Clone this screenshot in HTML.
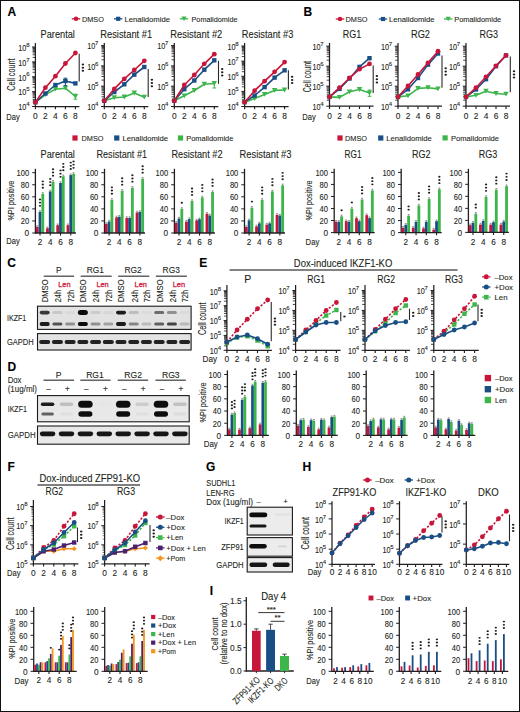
<!DOCTYPE html>
<html><head><meta charset="utf-8"><style>
html,body{margin:0;padding:0;background:#fff;}
body{width:520px;height:712px;overflow:hidden;font-family:"Liberation Sans",sans-serif;}
svg{display:block;}
</style></head><body>
<svg width="520" height="712" viewBox="0 0 520 712" font-family="Liberation Sans, sans-serif">
<style>text{stroke:currentColor;stroke-width:0.1px;}</style>
<defs><filter id="bl" x="-30%" y="-60%" width="160%" height="220%"><feGaussianBlur stdDeviation="0.55"/></filter></defs>
<rect x="0" y="0" width="520" height="712" fill="#fff"/>
<text x="7.40" y="15.80" font-size="12" text-anchor="start" fill="#000" color="#000" font-weight="bold">A</text>
<text x="303.50" y="15.60" font-size="12" text-anchor="start" fill="#000" color="#000" font-weight="bold">B</text>
<line x1="71.80" y1="18.80" x2="80.20" y2="18.80" stroke="#c8163a" stroke-width="1.3"/>
<circle cx="76.00" cy="18.80" r="2.28" fill="#c8163a"/>
<text x="81.90" y="21.64" font-size="7.9" text-anchor="start" fill="#231f20" color="#231f20" textLength="22.00" lengthAdjust="spacingAndGlyphs">DMSO</text>
<line x1="114.00" y1="18.80" x2="122.40" y2="18.80" stroke="#1a4f85" stroke-width="1.3"/>
<rect x="116.11" y="16.71" width="4.18" height="4.18" fill="#1a4f85"/>
<text x="124.40" y="21.64" font-size="7.9" text-anchor="start" fill="#231f20" color="#231f20" textLength="45.60" lengthAdjust="spacingAndGlyphs">Lenalidomide</text>
<line x1="179.80" y1="18.80" x2="188.20" y2="18.80" stroke="#3cb54a" stroke-width="1.3"/>
<polygon points="181.44,16.52 186.56,16.52 184.00,21.08" fill="#3cb54a"/>
<text x="191.50" y="21.64" font-size="7.9" text-anchor="start" fill="#231f20" color="#231f20" textLength="46.00" lengthAdjust="spacingAndGlyphs">Pomalidomide</text>
<line x1="335.80" y1="19.00" x2="344.20" y2="19.00" stroke="#c8163a" stroke-width="1.3"/>
<circle cx="340.00" cy="19.00" r="2.28" fill="#c8163a"/>
<text x="345.50" y="21.84" font-size="7.9" text-anchor="start" fill="#231f20" color="#231f20" textLength="22.00" lengthAdjust="spacingAndGlyphs">DMSO</text>
<line x1="378.80" y1="19.00" x2="387.20" y2="19.00" stroke="#1a4f85" stroke-width="1.3"/>
<rect x="380.91" y="16.91" width="4.18" height="4.18" fill="#1a4f85"/>
<text x="389.00" y="21.84" font-size="7.9" text-anchor="start" fill="#231f20" color="#231f20" textLength="45.60" lengthAdjust="spacingAndGlyphs">Lenalidomide</text>
<line x1="444.00" y1="19.00" x2="452.40" y2="19.00" stroke="#3cb54a" stroke-width="1.3"/>
<polygon points="445.63,16.72 450.76,16.72 448.20,21.28" fill="#3cb54a"/>
<text x="454.20" y="21.84" font-size="7.9" text-anchor="start" fill="#231f20" color="#231f20" textLength="47.00" lengthAdjust="spacingAndGlyphs">Pomalidomide</text>
<text x="40.60" y="37.70" font-size="10.5" text-anchor="start" fill="#231f20" color="#231f20" textLength="34.30" lengthAdjust="spacingAndGlyphs">Parental</text>
<line x1="35.40" y1="43.00" x2="35.40" y2="107.00" stroke="#231f20" stroke-width="1.25"/>
<line x1="32.10" y1="106.50" x2="35.40" y2="106.50" stroke="#231f20" stroke-width="1.0"/>
<text x="29.50" y="106.20" font-size="6.0" text-anchor="end" fill="#231f20" color="#231f20">4</text>
<text x="26.40" y="110.30" font-size="8.6" text-anchor="end" fill="#231f20" color="#231f20" textLength="8.10" lengthAdjust="spacingAndGlyphs">10</text>
<line x1="32.60" y1="102.02" x2="35.40" y2="102.02" stroke="#231f20" stroke-width="0.85"/>
<line x1="32.60" y1="99.40" x2="35.40" y2="99.40" stroke="#231f20" stroke-width="0.85"/>
<line x1="32.60" y1="97.54" x2="35.40" y2="97.54" stroke="#231f20" stroke-width="0.85"/>
<line x1="32.60" y1="96.10" x2="35.40" y2="96.10" stroke="#231f20" stroke-width="0.85"/>
<line x1="32.60" y1="94.93" x2="35.40" y2="94.93" stroke="#231f20" stroke-width="0.85"/>
<line x1="32.60" y1="93.93" x2="35.40" y2="93.93" stroke="#231f20" stroke-width="0.85"/>
<line x1="32.60" y1="93.07" x2="35.40" y2="93.07" stroke="#231f20" stroke-width="0.85"/>
<line x1="32.60" y1="92.31" x2="35.40" y2="92.31" stroke="#231f20" stroke-width="0.85"/>
<line x1="32.10" y1="91.62" x2="35.40" y2="91.62" stroke="#231f20" stroke-width="1.0"/>
<text x="29.50" y="91.33" font-size="6.0" text-anchor="end" fill="#231f20" color="#231f20">5</text>
<text x="26.40" y="95.42" font-size="8.6" text-anchor="end" fill="#231f20" color="#231f20" textLength="8.10" lengthAdjust="spacingAndGlyphs">10</text>
<line x1="32.60" y1="87.15" x2="35.40" y2="87.15" stroke="#231f20" stroke-width="0.85"/>
<line x1="32.60" y1="84.53" x2="35.40" y2="84.53" stroke="#231f20" stroke-width="0.85"/>
<line x1="32.60" y1="82.67" x2="35.40" y2="82.67" stroke="#231f20" stroke-width="0.85"/>
<line x1="32.60" y1="81.23" x2="35.40" y2="81.23" stroke="#231f20" stroke-width="0.85"/>
<line x1="32.60" y1="80.05" x2="35.40" y2="80.05" stroke="#231f20" stroke-width="0.85"/>
<line x1="32.60" y1="79.05" x2="35.40" y2="79.05" stroke="#231f20" stroke-width="0.85"/>
<line x1="32.60" y1="78.19" x2="35.40" y2="78.19" stroke="#231f20" stroke-width="0.85"/>
<line x1="32.60" y1="77.43" x2="35.40" y2="77.43" stroke="#231f20" stroke-width="0.85"/>
<line x1="32.10" y1="76.75" x2="35.40" y2="76.75" stroke="#231f20" stroke-width="1.0"/>
<text x="29.50" y="76.45" font-size="6.0" text-anchor="end" fill="#231f20" color="#231f20">6</text>
<text x="26.40" y="80.55" font-size="8.6" text-anchor="end" fill="#231f20" color="#231f20" textLength="8.10" lengthAdjust="spacingAndGlyphs">10</text>
<line x1="32.60" y1="72.27" x2="35.40" y2="72.27" stroke="#231f20" stroke-width="0.85"/>
<line x1="32.60" y1="69.65" x2="35.40" y2="69.65" stroke="#231f20" stroke-width="0.85"/>
<line x1="32.60" y1="67.79" x2="35.40" y2="67.79" stroke="#231f20" stroke-width="0.85"/>
<line x1="32.60" y1="66.35" x2="35.40" y2="66.35" stroke="#231f20" stroke-width="0.85"/>
<line x1="32.60" y1="65.18" x2="35.40" y2="65.18" stroke="#231f20" stroke-width="0.85"/>
<line x1="32.60" y1="64.18" x2="35.40" y2="64.18" stroke="#231f20" stroke-width="0.85"/>
<line x1="32.60" y1="63.32" x2="35.40" y2="63.32" stroke="#231f20" stroke-width="0.85"/>
<line x1="32.60" y1="62.56" x2="35.40" y2="62.56" stroke="#231f20" stroke-width="0.85"/>
<line x1="32.10" y1="61.88" x2="35.40" y2="61.88" stroke="#231f20" stroke-width="1.0"/>
<text x="29.50" y="61.58" font-size="6.0" text-anchor="end" fill="#231f20" color="#231f20">7</text>
<text x="26.40" y="65.67" font-size="8.6" text-anchor="end" fill="#231f20" color="#231f20" textLength="8.10" lengthAdjust="spacingAndGlyphs">10</text>
<line x1="32.60" y1="57.40" x2="35.40" y2="57.40" stroke="#231f20" stroke-width="0.85"/>
<line x1="32.60" y1="54.78" x2="35.40" y2="54.78" stroke="#231f20" stroke-width="0.85"/>
<line x1="32.60" y1="52.92" x2="35.40" y2="52.92" stroke="#231f20" stroke-width="0.85"/>
<line x1="32.60" y1="51.48" x2="35.40" y2="51.48" stroke="#231f20" stroke-width="0.85"/>
<line x1="32.60" y1="50.30" x2="35.40" y2="50.30" stroke="#231f20" stroke-width="0.85"/>
<line x1="32.60" y1="49.30" x2="35.40" y2="49.30" stroke="#231f20" stroke-width="0.85"/>
<line x1="32.60" y1="48.44" x2="35.40" y2="48.44" stroke="#231f20" stroke-width="0.85"/>
<line x1="32.60" y1="47.68" x2="35.40" y2="47.68" stroke="#231f20" stroke-width="0.85"/>
<line x1="32.10" y1="47.00" x2="35.40" y2="47.00" stroke="#231f20" stroke-width="1.0"/>
<text x="29.50" y="46.70" font-size="6.0" text-anchor="end" fill="#231f20" color="#231f20">8</text>
<text x="26.40" y="50.80" font-size="8.6" text-anchor="end" fill="#231f20" color="#231f20" textLength="8.10" lengthAdjust="spacingAndGlyphs">10</text>
<line x1="34.90" y1="106.50" x2="79.40" y2="106.50" stroke="#231f20" stroke-width="1.25"/>
<line x1="35.40" y1="106.50" x2="35.40" y2="109.30" stroke="#231f20" stroke-width="1.15"/>
<text x="35.40" y="119.00" font-size="8.4" text-anchor="middle" fill="#231f20" color="#231f20">0</text>
<line x1="45.40" y1="106.50" x2="45.40" y2="109.30" stroke="#231f20" stroke-width="1.15"/>
<text x="45.40" y="119.00" font-size="8.4" text-anchor="middle" fill="#231f20" color="#231f20">2</text>
<line x1="55.40" y1="106.50" x2="55.40" y2="109.30" stroke="#231f20" stroke-width="1.15"/>
<text x="55.40" y="119.00" font-size="8.4" text-anchor="middle" fill="#231f20" color="#231f20">4</text>
<line x1="65.40" y1="106.50" x2="65.40" y2="109.30" stroke="#231f20" stroke-width="1.15"/>
<text x="65.40" y="119.00" font-size="8.4" text-anchor="middle" fill="#231f20" color="#231f20">6</text>
<line x1="75.40" y1="106.50" x2="75.40" y2="109.30" stroke="#231f20" stroke-width="1.15"/>
<text x="75.40" y="119.00" font-size="8.4" text-anchor="middle" fill="#231f20" color="#231f20">8</text>
<line x1="75.40" y1="94.20" x2="75.40" y2="99.20" stroke="#3cb54a" stroke-width="1.0"/>
<line x1="73.60" y1="94.20" x2="77.20" y2="94.20" stroke="#3cb54a" stroke-width="1.0"/>
<line x1="73.60" y1="99.20" x2="77.20" y2="99.20" stroke="#3cb54a" stroke-width="1.0"/>
<polyline points="35.40,102.30 45.40,94.60 55.40,89.20 65.40,88.20 75.40,96.50" fill="none" stroke="#3cb54a" stroke-width="1.6" stroke-linejoin="round"/>
<polygon points="32.70,99.90 38.10,99.90 35.40,104.70" fill="#3cb54a"/>
<polygon points="42.70,92.20 48.10,92.20 45.40,97.00" fill="#3cb54a"/>
<polygon points="52.70,86.80 58.10,86.80 55.40,91.60" fill="#3cb54a"/>
<polygon points="62.70,85.80 68.10,85.80 65.40,90.60" fill="#3cb54a"/>
<polygon points="72.70,94.10 78.10,94.10 75.40,98.90" fill="#3cb54a"/>
<line x1="65.40" y1="78.20" x2="65.40" y2="85.60" stroke="#1a4f85" stroke-width="1.0"/>
<line x1="63.60" y1="78.20" x2="67.20" y2="78.20" stroke="#1a4f85" stroke-width="1.0"/>
<line x1="63.60" y1="85.60" x2="67.20" y2="85.60" stroke="#1a4f85" stroke-width="1.0"/>
<polyline points="35.40,102.30 45.40,93.50 55.40,85.00 65.40,81.00 75.40,83.40" fill="none" stroke="#1a4f85" stroke-width="1.6" stroke-linejoin="round"/>
<rect x="33.20" y="100.10" width="4.40" height="4.40" fill="#1a4f85"/>
<rect x="43.20" y="91.30" width="4.40" height="4.40" fill="#1a4f85"/>
<rect x="53.20" y="82.80" width="4.40" height="4.40" fill="#1a4f85"/>
<rect x="63.20" y="78.80" width="4.40" height="4.40" fill="#1a4f85"/>
<rect x="73.20" y="81.20" width="4.40" height="4.40" fill="#1a4f85"/>
<polyline points="35.40,102.30 45.40,87.70 55.40,76.20 65.40,63.50 75.40,53.00" fill="none" stroke="#c8163a" stroke-width="1.6" stroke-linejoin="round"/>
<circle cx="35.40" cy="102.30" r="2.40" fill="#c8163a"/>
<circle cx="45.40" cy="87.70" r="2.40" fill="#c8163a"/>
<circle cx="55.40" cy="76.20" r="2.40" fill="#c8163a"/>
<circle cx="65.40" cy="63.50" r="2.40" fill="#c8163a"/>
<circle cx="75.40" cy="53.00" r="2.40" fill="#c8163a"/>
<line x1="79.20" y1="53.80" x2="79.20" y2="81.50" stroke="#2a2a2a" stroke-width="1.1"/>
<ellipse cx="82.90" cy="64.45" rx="1.25" ry="1.00" fill="#231f20"/>
<ellipse cx="82.90" cy="67.65" rx="1.25" ry="1.00" fill="#231f20"/>
<ellipse cx="82.90" cy="70.85" rx="1.25" ry="1.00" fill="#231f20"/>
<text x="100.20" y="37.70" font-size="10.5" text-anchor="start" fill="#231f20" color="#231f20" textLength="52.00" lengthAdjust="spacingAndGlyphs">Resistant #1</text>
<line x1="104.30" y1="43.00" x2="104.30" y2="107.00" stroke="#231f20" stroke-width="1.25"/>
<line x1="101.00" y1="106.50" x2="104.30" y2="106.50" stroke="#231f20" stroke-width="1.0"/>
<text x="98.40" y="106.20" font-size="6.0" text-anchor="end" fill="#231f20" color="#231f20">4</text>
<text x="95.30" y="110.30" font-size="8.6" text-anchor="end" fill="#231f20" color="#231f20" textLength="8.10" lengthAdjust="spacingAndGlyphs">10</text>
<line x1="101.50" y1="100.39" x2="104.30" y2="100.39" stroke="#231f20" stroke-width="0.85"/>
<line x1="101.50" y1="96.81" x2="104.30" y2="96.81" stroke="#231f20" stroke-width="0.85"/>
<line x1="101.50" y1="94.28" x2="104.30" y2="94.28" stroke="#231f20" stroke-width="0.85"/>
<line x1="101.50" y1="92.31" x2="104.30" y2="92.31" stroke="#231f20" stroke-width="0.85"/>
<line x1="101.50" y1="90.70" x2="104.30" y2="90.70" stroke="#231f20" stroke-width="0.85"/>
<line x1="101.50" y1="89.34" x2="104.30" y2="89.34" stroke="#231f20" stroke-width="0.85"/>
<line x1="101.50" y1="88.17" x2="104.30" y2="88.17" stroke="#231f20" stroke-width="0.85"/>
<line x1="101.50" y1="87.13" x2="104.30" y2="87.13" stroke="#231f20" stroke-width="0.85"/>
<line x1="101.00" y1="86.20" x2="104.30" y2="86.20" stroke="#231f20" stroke-width="1.0"/>
<text x="98.40" y="85.90" font-size="6.0" text-anchor="end" fill="#231f20" color="#231f20">5</text>
<text x="95.30" y="90.00" font-size="8.6" text-anchor="end" fill="#231f20" color="#231f20" textLength="8.10" lengthAdjust="spacingAndGlyphs">10</text>
<line x1="101.50" y1="80.09" x2="104.30" y2="80.09" stroke="#231f20" stroke-width="0.85"/>
<line x1="101.50" y1="76.51" x2="104.30" y2="76.51" stroke="#231f20" stroke-width="0.85"/>
<line x1="101.50" y1="73.98" x2="104.30" y2="73.98" stroke="#231f20" stroke-width="0.85"/>
<line x1="101.50" y1="72.01" x2="104.30" y2="72.01" stroke="#231f20" stroke-width="0.85"/>
<line x1="101.50" y1="70.40" x2="104.30" y2="70.40" stroke="#231f20" stroke-width="0.85"/>
<line x1="101.50" y1="69.04" x2="104.30" y2="69.04" stroke="#231f20" stroke-width="0.85"/>
<line x1="101.50" y1="67.87" x2="104.30" y2="67.87" stroke="#231f20" stroke-width="0.85"/>
<line x1="101.50" y1="66.83" x2="104.30" y2="66.83" stroke="#231f20" stroke-width="0.85"/>
<line x1="101.00" y1="65.90" x2="104.30" y2="65.90" stroke="#231f20" stroke-width="1.0"/>
<text x="98.40" y="65.60" font-size="6.0" text-anchor="end" fill="#231f20" color="#231f20">6</text>
<text x="95.30" y="69.70" font-size="8.6" text-anchor="end" fill="#231f20" color="#231f20" textLength="8.10" lengthAdjust="spacingAndGlyphs">10</text>
<line x1="101.50" y1="59.79" x2="104.30" y2="59.79" stroke="#231f20" stroke-width="0.85"/>
<line x1="101.50" y1="56.21" x2="104.30" y2="56.21" stroke="#231f20" stroke-width="0.85"/>
<line x1="101.50" y1="53.68" x2="104.30" y2="53.68" stroke="#231f20" stroke-width="0.85"/>
<line x1="101.50" y1="51.71" x2="104.30" y2="51.71" stroke="#231f20" stroke-width="0.85"/>
<line x1="101.50" y1="50.10" x2="104.30" y2="50.10" stroke="#231f20" stroke-width="0.85"/>
<line x1="101.50" y1="48.74" x2="104.30" y2="48.74" stroke="#231f20" stroke-width="0.85"/>
<line x1="101.50" y1="47.57" x2="104.30" y2="47.57" stroke="#231f20" stroke-width="0.85"/>
<line x1="101.50" y1="46.53" x2="104.30" y2="46.53" stroke="#231f20" stroke-width="0.85"/>
<line x1="101.00" y1="45.60" x2="104.30" y2="45.60" stroke="#231f20" stroke-width="1.0"/>
<text x="98.40" y="45.30" font-size="6.0" text-anchor="end" fill="#231f20" color="#231f20">7</text>
<text x="95.30" y="49.40" font-size="8.6" text-anchor="end" fill="#231f20" color="#231f20" textLength="8.10" lengthAdjust="spacingAndGlyphs">10</text>
<line x1="103.80" y1="106.50" x2="148.30" y2="106.50" stroke="#231f20" stroke-width="1.25"/>
<line x1="104.30" y1="106.50" x2="104.30" y2="109.30" stroke="#231f20" stroke-width="1.15"/>
<text x="104.30" y="119.00" font-size="8.4" text-anchor="middle" fill="#231f20" color="#231f20">0</text>
<line x1="114.30" y1="106.50" x2="114.30" y2="109.30" stroke="#231f20" stroke-width="1.15"/>
<text x="114.30" y="119.00" font-size="8.4" text-anchor="middle" fill="#231f20" color="#231f20">2</text>
<line x1="124.30" y1="106.50" x2="124.30" y2="109.30" stroke="#231f20" stroke-width="1.15"/>
<text x="124.30" y="119.00" font-size="8.4" text-anchor="middle" fill="#231f20" color="#231f20">4</text>
<line x1="134.30" y1="106.50" x2="134.30" y2="109.30" stroke="#231f20" stroke-width="1.15"/>
<text x="134.30" y="119.00" font-size="8.4" text-anchor="middle" fill="#231f20" color="#231f20">6</text>
<line x1="144.30" y1="106.50" x2="144.30" y2="109.30" stroke="#231f20" stroke-width="1.15"/>
<text x="144.30" y="119.00" font-size="8.4" text-anchor="middle" fill="#231f20" color="#231f20">8</text>
<polyline points="104.30,100.80 114.30,97.70 124.30,97.00 134.30,93.00 144.30,97.20" fill="none" stroke="#3cb54a" stroke-width="1.6" stroke-linejoin="round"/>
<polygon points="101.60,98.40 107.00,98.40 104.30,103.20" fill="#3cb54a"/>
<polygon points="111.60,95.30 117.00,95.30 114.30,100.10" fill="#3cb54a"/>
<polygon points="121.60,94.60 127.00,94.60 124.30,99.40" fill="#3cb54a"/>
<polygon points="131.60,90.60 137.00,90.60 134.30,95.40" fill="#3cb54a"/>
<polygon points="141.60,94.80 147.00,94.80 144.30,99.60" fill="#3cb54a"/>
<polyline points="104.30,100.80 114.30,92.00 124.30,84.30 134.30,74.60 144.30,67.00" fill="none" stroke="#1a4f85" stroke-width="1.6" stroke-linejoin="round"/>
<rect x="102.10" y="98.60" width="4.40" height="4.40" fill="#1a4f85"/>
<rect x="112.10" y="89.80" width="4.40" height="4.40" fill="#1a4f85"/>
<rect x="122.10" y="82.10" width="4.40" height="4.40" fill="#1a4f85"/>
<rect x="132.10" y="72.40" width="4.40" height="4.40" fill="#1a4f85"/>
<rect x="142.10" y="64.80" width="4.40" height="4.40" fill="#1a4f85"/>
<polyline points="104.30,100.80 114.30,88.90 124.30,78.90 134.30,70.00 144.30,60.80" fill="none" stroke="#c8163a" stroke-width="1.6" stroke-linejoin="round"/>
<circle cx="104.30" cy="100.80" r="2.40" fill="#c8163a"/>
<circle cx="114.30" cy="88.90" r="2.40" fill="#c8163a"/>
<circle cx="124.30" cy="78.90" r="2.40" fill="#c8163a"/>
<circle cx="134.30" cy="70.00" r="2.40" fill="#c8163a"/>
<circle cx="144.30" cy="60.80" r="2.40" fill="#c8163a"/>
<line x1="148.20" y1="69.00" x2="148.20" y2="97.00" stroke="#2a2a2a" stroke-width="1.1"/>
<ellipse cx="151.90" cy="79.80" rx="1.25" ry="1.00" fill="#231f20"/>
<ellipse cx="151.90" cy="83.00" rx="1.25" ry="1.00" fill="#231f20"/>
<ellipse cx="151.90" cy="86.20" rx="1.25" ry="1.00" fill="#231f20"/>
<text x="170.30" y="37.70" font-size="10.5" text-anchor="start" fill="#231f20" color="#231f20" textLength="52.00" lengthAdjust="spacingAndGlyphs">Resistant #2</text>
<line x1="174.30" y1="43.00" x2="174.30" y2="107.00" stroke="#231f20" stroke-width="1.25"/>
<line x1="171.00" y1="106.50" x2="174.30" y2="106.50" stroke="#231f20" stroke-width="1.0"/>
<text x="168.40" y="106.20" font-size="6.0" text-anchor="end" fill="#231f20" color="#231f20">4</text>
<text x="165.30" y="110.30" font-size="8.6" text-anchor="end" fill="#231f20" color="#231f20" textLength="8.10" lengthAdjust="spacingAndGlyphs">10</text>
<line x1="171.50" y1="100.39" x2="174.30" y2="100.39" stroke="#231f20" stroke-width="0.85"/>
<line x1="171.50" y1="96.81" x2="174.30" y2="96.81" stroke="#231f20" stroke-width="0.85"/>
<line x1="171.50" y1="94.28" x2="174.30" y2="94.28" stroke="#231f20" stroke-width="0.85"/>
<line x1="171.50" y1="92.31" x2="174.30" y2="92.31" stroke="#231f20" stroke-width="0.85"/>
<line x1="171.50" y1="90.70" x2="174.30" y2="90.70" stroke="#231f20" stroke-width="0.85"/>
<line x1="171.50" y1="89.34" x2="174.30" y2="89.34" stroke="#231f20" stroke-width="0.85"/>
<line x1="171.50" y1="88.17" x2="174.30" y2="88.17" stroke="#231f20" stroke-width="0.85"/>
<line x1="171.50" y1="87.13" x2="174.30" y2="87.13" stroke="#231f20" stroke-width="0.85"/>
<line x1="171.00" y1="86.20" x2="174.30" y2="86.20" stroke="#231f20" stroke-width="1.0"/>
<text x="168.40" y="85.90" font-size="6.0" text-anchor="end" fill="#231f20" color="#231f20">5</text>
<text x="165.30" y="90.00" font-size="8.6" text-anchor="end" fill="#231f20" color="#231f20" textLength="8.10" lengthAdjust="spacingAndGlyphs">10</text>
<line x1="171.50" y1="80.09" x2="174.30" y2="80.09" stroke="#231f20" stroke-width="0.85"/>
<line x1="171.50" y1="76.51" x2="174.30" y2="76.51" stroke="#231f20" stroke-width="0.85"/>
<line x1="171.50" y1="73.98" x2="174.30" y2="73.98" stroke="#231f20" stroke-width="0.85"/>
<line x1="171.50" y1="72.01" x2="174.30" y2="72.01" stroke="#231f20" stroke-width="0.85"/>
<line x1="171.50" y1="70.40" x2="174.30" y2="70.40" stroke="#231f20" stroke-width="0.85"/>
<line x1="171.50" y1="69.04" x2="174.30" y2="69.04" stroke="#231f20" stroke-width="0.85"/>
<line x1="171.50" y1="67.87" x2="174.30" y2="67.87" stroke="#231f20" stroke-width="0.85"/>
<line x1="171.50" y1="66.83" x2="174.30" y2="66.83" stroke="#231f20" stroke-width="0.85"/>
<line x1="171.00" y1="65.90" x2="174.30" y2="65.90" stroke="#231f20" stroke-width="1.0"/>
<text x="168.40" y="65.60" font-size="6.0" text-anchor="end" fill="#231f20" color="#231f20">6</text>
<text x="165.30" y="69.70" font-size="8.6" text-anchor="end" fill="#231f20" color="#231f20" textLength="8.10" lengthAdjust="spacingAndGlyphs">10</text>
<line x1="171.50" y1="59.79" x2="174.30" y2="59.79" stroke="#231f20" stroke-width="0.85"/>
<line x1="171.50" y1="56.21" x2="174.30" y2="56.21" stroke="#231f20" stroke-width="0.85"/>
<line x1="171.50" y1="53.68" x2="174.30" y2="53.68" stroke="#231f20" stroke-width="0.85"/>
<line x1="171.50" y1="51.71" x2="174.30" y2="51.71" stroke="#231f20" stroke-width="0.85"/>
<line x1="171.50" y1="50.10" x2="174.30" y2="50.10" stroke="#231f20" stroke-width="0.85"/>
<line x1="171.50" y1="48.74" x2="174.30" y2="48.74" stroke="#231f20" stroke-width="0.85"/>
<line x1="171.50" y1="47.57" x2="174.30" y2="47.57" stroke="#231f20" stroke-width="0.85"/>
<line x1="171.50" y1="46.53" x2="174.30" y2="46.53" stroke="#231f20" stroke-width="0.85"/>
<line x1="171.00" y1="45.60" x2="174.30" y2="45.60" stroke="#231f20" stroke-width="1.0"/>
<text x="168.40" y="45.30" font-size="6.0" text-anchor="end" fill="#231f20" color="#231f20">7</text>
<text x="165.30" y="49.40" font-size="8.6" text-anchor="end" fill="#231f20" color="#231f20" textLength="8.10" lengthAdjust="spacingAndGlyphs">10</text>
<line x1="173.80" y1="106.50" x2="218.30" y2="106.50" stroke="#231f20" stroke-width="1.25"/>
<line x1="174.30" y1="106.50" x2="174.30" y2="109.30" stroke="#231f20" stroke-width="1.15"/>
<text x="174.30" y="119.00" font-size="8.4" text-anchor="middle" fill="#231f20" color="#231f20">0</text>
<line x1="184.30" y1="106.50" x2="184.30" y2="109.30" stroke="#231f20" stroke-width="1.15"/>
<text x="184.30" y="119.00" font-size="8.4" text-anchor="middle" fill="#231f20" color="#231f20">2</text>
<line x1="194.30" y1="106.50" x2="194.30" y2="109.30" stroke="#231f20" stroke-width="1.15"/>
<text x="194.30" y="119.00" font-size="8.4" text-anchor="middle" fill="#231f20" color="#231f20">4</text>
<line x1="204.30" y1="106.50" x2="204.30" y2="109.30" stroke="#231f20" stroke-width="1.15"/>
<text x="204.30" y="119.00" font-size="8.4" text-anchor="middle" fill="#231f20" color="#231f20">6</text>
<line x1="214.30" y1="106.50" x2="214.30" y2="109.30" stroke="#231f20" stroke-width="1.15"/>
<text x="214.30" y="119.00" font-size="8.4" text-anchor="middle" fill="#231f20" color="#231f20">8</text>
<line x1="214.30" y1="81.50" x2="214.30" y2="88.00" stroke="#3cb54a" stroke-width="1.0"/>
<line x1="212.50" y1="81.50" x2="216.10" y2="81.50" stroke="#3cb54a" stroke-width="1.0"/>
<line x1="212.50" y1="88.00" x2="216.10" y2="88.00" stroke="#3cb54a" stroke-width="1.0"/>
<polyline points="174.30,100.80 184.30,95.80 194.30,90.50 204.30,84.20 214.30,83.50" fill="none" stroke="#3cb54a" stroke-width="1.6" stroke-linejoin="round"/>
<polygon points="171.60,98.40 177.00,98.40 174.30,103.20" fill="#3cb54a"/>
<polygon points="181.60,93.40 187.00,93.40 184.30,98.20" fill="#3cb54a"/>
<polygon points="191.60,88.10 197.00,88.10 194.30,92.90" fill="#3cb54a"/>
<polygon points="201.60,81.80 207.00,81.80 204.30,86.60" fill="#3cb54a"/>
<polygon points="211.60,81.10 217.00,81.10 214.30,85.90" fill="#3cb54a"/>
<polyline points="174.30,100.80 184.30,89.20 194.30,80.50 204.30,69.70 214.30,60.30" fill="none" stroke="#1a4f85" stroke-width="1.6" stroke-linejoin="round"/>
<rect x="172.10" y="98.60" width="4.40" height="4.40" fill="#1a4f85"/>
<rect x="182.10" y="87.00" width="4.40" height="4.40" fill="#1a4f85"/>
<rect x="192.10" y="78.30" width="4.40" height="4.40" fill="#1a4f85"/>
<rect x="202.10" y="67.50" width="4.40" height="4.40" fill="#1a4f85"/>
<rect x="212.10" y="58.10" width="4.40" height="4.40" fill="#1a4f85"/>
<polyline points="174.30,100.80 184.30,85.00 194.30,75.00 204.30,63.80 214.30,54.20" fill="none" stroke="#c8163a" stroke-width="1.6" stroke-linejoin="round"/>
<circle cx="174.30" cy="100.80" r="2.40" fill="#c8163a"/>
<circle cx="184.30" cy="85.00" r="2.40" fill="#c8163a"/>
<circle cx="194.30" cy="75.00" r="2.40" fill="#c8163a"/>
<circle cx="204.30" cy="63.80" r="2.40" fill="#c8163a"/>
<circle cx="214.30" cy="54.20" r="2.40" fill="#c8163a"/>
<line x1="218.50" y1="60.80" x2="218.50" y2="83.80" stroke="#2a2a2a" stroke-width="1.1"/>
<ellipse cx="222.20" cy="69.10" rx="1.25" ry="1.00" fill="#231f20"/>
<ellipse cx="222.20" cy="72.30" rx="1.25" ry="1.00" fill="#231f20"/>
<ellipse cx="222.20" cy="75.50" rx="1.25" ry="1.00" fill="#231f20"/>
<text x="241.80" y="37.70" font-size="10.5" text-anchor="start" fill="#231f20" color="#231f20" textLength="51.50" lengthAdjust="spacingAndGlyphs">Resistant #3</text>
<line x1="244.60" y1="43.00" x2="244.60" y2="107.00" stroke="#231f20" stroke-width="1.25"/>
<line x1="241.30" y1="106.50" x2="244.60" y2="106.50" stroke="#231f20" stroke-width="1.0"/>
<text x="238.70" y="106.20" font-size="6.0" text-anchor="end" fill="#231f20" color="#231f20">4</text>
<text x="235.60" y="110.30" font-size="8.6" text-anchor="end" fill="#231f20" color="#231f20" textLength="8.10" lengthAdjust="spacingAndGlyphs">10</text>
<line x1="241.80" y1="101.95" x2="244.60" y2="101.95" stroke="#231f20" stroke-width="0.85"/>
<line x1="241.80" y1="99.28" x2="244.60" y2="99.28" stroke="#231f20" stroke-width="0.85"/>
<line x1="241.80" y1="97.39" x2="244.60" y2="97.39" stroke="#231f20" stroke-width="0.85"/>
<line x1="241.80" y1="95.93" x2="244.60" y2="95.93" stroke="#231f20" stroke-width="0.85"/>
<line x1="241.80" y1="94.73" x2="244.60" y2="94.73" stroke="#231f20" stroke-width="0.85"/>
<line x1="241.80" y1="93.72" x2="244.60" y2="93.72" stroke="#231f20" stroke-width="0.85"/>
<line x1="241.80" y1="92.84" x2="244.60" y2="92.84" stroke="#231f20" stroke-width="0.85"/>
<line x1="241.80" y1="92.07" x2="244.60" y2="92.07" stroke="#231f20" stroke-width="0.85"/>
<line x1="241.30" y1="91.38" x2="244.60" y2="91.38" stroke="#231f20" stroke-width="1.0"/>
<text x="238.70" y="91.08" font-size="6.0" text-anchor="end" fill="#231f20" color="#231f20">5</text>
<text x="235.60" y="95.17" font-size="8.6" text-anchor="end" fill="#231f20" color="#231f20" textLength="8.10" lengthAdjust="spacingAndGlyphs">10</text>
<line x1="241.80" y1="86.82" x2="244.60" y2="86.82" stroke="#231f20" stroke-width="0.85"/>
<line x1="241.80" y1="84.16" x2="244.60" y2="84.16" stroke="#231f20" stroke-width="0.85"/>
<line x1="241.80" y1="82.27" x2="244.60" y2="82.27" stroke="#231f20" stroke-width="0.85"/>
<line x1="241.80" y1="80.80" x2="244.60" y2="80.80" stroke="#231f20" stroke-width="0.85"/>
<line x1="241.80" y1="79.61" x2="244.60" y2="79.61" stroke="#231f20" stroke-width="0.85"/>
<line x1="241.80" y1="78.59" x2="244.60" y2="78.59" stroke="#231f20" stroke-width="0.85"/>
<line x1="241.80" y1="77.72" x2="244.60" y2="77.72" stroke="#231f20" stroke-width="0.85"/>
<line x1="241.80" y1="76.94" x2="244.60" y2="76.94" stroke="#231f20" stroke-width="0.85"/>
<line x1="241.30" y1="76.25" x2="244.60" y2="76.25" stroke="#231f20" stroke-width="1.0"/>
<text x="238.70" y="75.95" font-size="6.0" text-anchor="end" fill="#231f20" color="#231f20">6</text>
<text x="235.60" y="80.05" font-size="8.6" text-anchor="end" fill="#231f20" color="#231f20" textLength="8.10" lengthAdjust="spacingAndGlyphs">10</text>
<line x1="241.80" y1="71.70" x2="244.60" y2="71.70" stroke="#231f20" stroke-width="0.85"/>
<line x1="241.80" y1="69.03" x2="244.60" y2="69.03" stroke="#231f20" stroke-width="0.85"/>
<line x1="241.80" y1="67.14" x2="244.60" y2="67.14" stroke="#231f20" stroke-width="0.85"/>
<line x1="241.80" y1="65.68" x2="244.60" y2="65.68" stroke="#231f20" stroke-width="0.85"/>
<line x1="241.80" y1="64.48" x2="244.60" y2="64.48" stroke="#231f20" stroke-width="0.85"/>
<line x1="241.80" y1="63.47" x2="244.60" y2="63.47" stroke="#231f20" stroke-width="0.85"/>
<line x1="241.80" y1="62.59" x2="244.60" y2="62.59" stroke="#231f20" stroke-width="0.85"/>
<line x1="241.80" y1="61.82" x2="244.60" y2="61.82" stroke="#231f20" stroke-width="0.85"/>
<line x1="241.30" y1="61.12" x2="244.60" y2="61.12" stroke="#231f20" stroke-width="1.0"/>
<text x="238.70" y="60.83" font-size="6.0" text-anchor="end" fill="#231f20" color="#231f20">7</text>
<text x="235.60" y="64.92" font-size="8.6" text-anchor="end" fill="#231f20" color="#231f20" textLength="8.10" lengthAdjust="spacingAndGlyphs">10</text>
<line x1="241.80" y1="56.57" x2="244.60" y2="56.57" stroke="#231f20" stroke-width="0.85"/>
<line x1="241.80" y1="53.91" x2="244.60" y2="53.91" stroke="#231f20" stroke-width="0.85"/>
<line x1="241.80" y1="52.02" x2="244.60" y2="52.02" stroke="#231f20" stroke-width="0.85"/>
<line x1="241.80" y1="50.55" x2="244.60" y2="50.55" stroke="#231f20" stroke-width="0.85"/>
<line x1="241.80" y1="49.36" x2="244.60" y2="49.36" stroke="#231f20" stroke-width="0.85"/>
<line x1="241.80" y1="48.34" x2="244.60" y2="48.34" stroke="#231f20" stroke-width="0.85"/>
<line x1="241.80" y1="47.47" x2="244.60" y2="47.47" stroke="#231f20" stroke-width="0.85"/>
<line x1="241.80" y1="46.69" x2="244.60" y2="46.69" stroke="#231f20" stroke-width="0.85"/>
<line x1="241.30" y1="46.00" x2="244.60" y2="46.00" stroke="#231f20" stroke-width="1.0"/>
<text x="238.70" y="45.70" font-size="6.0" text-anchor="end" fill="#231f20" color="#231f20">8</text>
<text x="235.60" y="49.80" font-size="8.6" text-anchor="end" fill="#231f20" color="#231f20" textLength="8.10" lengthAdjust="spacingAndGlyphs">10</text>
<line x1="244.10" y1="106.50" x2="288.60" y2="106.50" stroke="#231f20" stroke-width="1.25"/>
<line x1="244.60" y1="106.50" x2="244.60" y2="109.30" stroke="#231f20" stroke-width="1.15"/>
<text x="244.60" y="119.00" font-size="8.4" text-anchor="middle" fill="#231f20" color="#231f20">0</text>
<line x1="254.60" y1="106.50" x2="254.60" y2="109.30" stroke="#231f20" stroke-width="1.15"/>
<text x="254.60" y="119.00" font-size="8.4" text-anchor="middle" fill="#231f20" color="#231f20">2</text>
<line x1="264.60" y1="106.50" x2="264.60" y2="109.30" stroke="#231f20" stroke-width="1.15"/>
<text x="264.60" y="119.00" font-size="8.4" text-anchor="middle" fill="#231f20" color="#231f20">4</text>
<line x1="274.60" y1="106.50" x2="274.60" y2="109.30" stroke="#231f20" stroke-width="1.15"/>
<text x="274.60" y="119.00" font-size="8.4" text-anchor="middle" fill="#231f20" color="#231f20">6</text>
<line x1="284.60" y1="106.50" x2="284.60" y2="109.30" stroke="#231f20" stroke-width="1.15"/>
<text x="284.60" y="119.00" font-size="8.4" text-anchor="middle" fill="#231f20" color="#231f20">8</text>
<polyline points="244.60,102.20 254.60,98.60 264.60,94.40 274.60,90.40 284.60,90.00" fill="none" stroke="#3cb54a" stroke-width="1.6" stroke-linejoin="round"/>
<polygon points="241.90,99.80 247.30,99.80 244.60,104.60" fill="#3cb54a"/>
<polygon points="251.90,96.20 257.30,96.20 254.60,101.00" fill="#3cb54a"/>
<polygon points="261.90,92.00 267.30,92.00 264.60,96.80" fill="#3cb54a"/>
<polygon points="271.90,88.00 277.30,88.00 274.60,92.80" fill="#3cb54a"/>
<polygon points="281.90,87.60 287.30,87.60 284.60,92.40" fill="#3cb54a"/>
<polyline points="244.60,102.20 254.60,95.50 264.60,87.10 274.60,77.60 284.60,70.30" fill="none" stroke="#1a4f85" stroke-width="1.6" stroke-linejoin="round"/>
<rect x="242.40" y="100.00" width="4.40" height="4.40" fill="#1a4f85"/>
<rect x="252.40" y="93.30" width="4.40" height="4.40" fill="#1a4f85"/>
<rect x="262.40" y="84.90" width="4.40" height="4.40" fill="#1a4f85"/>
<rect x="272.40" y="75.40" width="4.40" height="4.40" fill="#1a4f85"/>
<rect x="282.40" y="68.10" width="4.40" height="4.40" fill="#1a4f85"/>
<polyline points="244.60,102.20 254.60,90.70 264.60,81.20 274.60,71.80 284.60,62.10" fill="none" stroke="#c8163a" stroke-width="1.6" stroke-linejoin="round"/>
<circle cx="244.60" cy="102.20" r="2.40" fill="#c8163a"/>
<circle cx="254.60" cy="90.70" r="2.40" fill="#c8163a"/>
<circle cx="264.60" cy="81.20" r="2.40" fill="#c8163a"/>
<circle cx="274.60" cy="71.80" r="2.40" fill="#c8163a"/>
<circle cx="284.60" cy="62.10" r="2.40" fill="#c8163a"/>
<line x1="288.40" y1="70.30" x2="288.40" y2="89.50" stroke="#2a2a2a" stroke-width="1.1"/>
<ellipse cx="292.10" cy="76.70" rx="1.25" ry="1.00" fill="#231f20"/>
<ellipse cx="292.10" cy="79.90" rx="1.25" ry="1.00" fill="#231f20"/>
<ellipse cx="292.10" cy="83.10" rx="1.25" ry="1.00" fill="#231f20"/>
<text x="14.60" y="74.60" font-size="10.4" text-anchor="middle" fill="#231f20" color="#231f20" textLength="32.30" lengthAdjust="spacingAndGlyphs" transform="rotate(-90 14.60 74.60)">Cell count</text>
<text x="6.20" y="119.50" font-size="8.6" text-anchor="start" fill="#231f20" color="#231f20" textLength="13.50" lengthAdjust="spacingAndGlyphs">Day</text>
<text x="311.00" y="76.60" font-size="10.4" text-anchor="middle" fill="#231f20" color="#231f20" textLength="31.30" lengthAdjust="spacingAndGlyphs" transform="rotate(-90 311.00 76.60)">Cell count</text>
<text x="302.30" y="119.50" font-size="8.6" text-anchor="start" fill="#231f20" color="#231f20" textLength="13.50" lengthAdjust="spacingAndGlyphs">Day</text>
<text x="342.70" y="38.00" font-size="10.5" text-anchor="start" fill="#231f20" color="#231f20" textLength="18.50" lengthAdjust="spacingAndGlyphs">RG1</text>
<line x1="329.50" y1="43.00" x2="329.50" y2="106.70" stroke="#231f20" stroke-width="1.25"/>
<line x1="326.20" y1="106.20" x2="329.50" y2="106.20" stroke="#231f20" stroke-width="1.0"/>
<text x="323.60" y="105.90" font-size="6.0" text-anchor="end" fill="#231f20" color="#231f20">4</text>
<text x="320.50" y="110.00" font-size="8.6" text-anchor="end" fill="#231f20" color="#231f20" textLength="8.10" lengthAdjust="spacingAndGlyphs">10</text>
<line x1="326.70" y1="100.18" x2="329.50" y2="100.18" stroke="#231f20" stroke-width="0.85"/>
<line x1="326.70" y1="96.66" x2="329.50" y2="96.66" stroke="#231f20" stroke-width="0.85"/>
<line x1="326.70" y1="94.16" x2="329.50" y2="94.16" stroke="#231f20" stroke-width="0.85"/>
<line x1="326.70" y1="92.22" x2="329.50" y2="92.22" stroke="#231f20" stroke-width="0.85"/>
<line x1="326.70" y1="90.64" x2="329.50" y2="90.64" stroke="#231f20" stroke-width="0.85"/>
<line x1="326.70" y1="89.30" x2="329.50" y2="89.30" stroke="#231f20" stroke-width="0.85"/>
<line x1="326.70" y1="88.14" x2="329.50" y2="88.14" stroke="#231f20" stroke-width="0.85"/>
<line x1="326.70" y1="87.12" x2="329.50" y2="87.12" stroke="#231f20" stroke-width="0.85"/>
<line x1="326.20" y1="86.20" x2="329.50" y2="86.20" stroke="#231f20" stroke-width="1.0"/>
<text x="323.60" y="85.90" font-size="6.0" text-anchor="end" fill="#231f20" color="#231f20">5</text>
<text x="320.50" y="90.00" font-size="8.6" text-anchor="end" fill="#231f20" color="#231f20" textLength="8.10" lengthAdjust="spacingAndGlyphs">10</text>
<line x1="326.70" y1="80.18" x2="329.50" y2="80.18" stroke="#231f20" stroke-width="0.85"/>
<line x1="326.70" y1="76.66" x2="329.50" y2="76.66" stroke="#231f20" stroke-width="0.85"/>
<line x1="326.70" y1="74.16" x2="329.50" y2="74.16" stroke="#231f20" stroke-width="0.85"/>
<line x1="326.70" y1="72.22" x2="329.50" y2="72.22" stroke="#231f20" stroke-width="0.85"/>
<line x1="326.70" y1="70.64" x2="329.50" y2="70.64" stroke="#231f20" stroke-width="0.85"/>
<line x1="326.70" y1="69.30" x2="329.50" y2="69.30" stroke="#231f20" stroke-width="0.85"/>
<line x1="326.70" y1="68.14" x2="329.50" y2="68.14" stroke="#231f20" stroke-width="0.85"/>
<line x1="326.70" y1="67.12" x2="329.50" y2="67.12" stroke="#231f20" stroke-width="0.85"/>
<line x1="326.20" y1="66.20" x2="329.50" y2="66.20" stroke="#231f20" stroke-width="1.0"/>
<text x="323.60" y="65.90" font-size="6.0" text-anchor="end" fill="#231f20" color="#231f20">6</text>
<text x="320.50" y="70.00" font-size="8.6" text-anchor="end" fill="#231f20" color="#231f20" textLength="8.10" lengthAdjust="spacingAndGlyphs">10</text>
<line x1="326.70" y1="60.18" x2="329.50" y2="60.18" stroke="#231f20" stroke-width="0.85"/>
<line x1="326.70" y1="56.66" x2="329.50" y2="56.66" stroke="#231f20" stroke-width="0.85"/>
<line x1="326.70" y1="54.16" x2="329.50" y2="54.16" stroke="#231f20" stroke-width="0.85"/>
<line x1="326.70" y1="52.22" x2="329.50" y2="52.22" stroke="#231f20" stroke-width="0.85"/>
<line x1="326.70" y1="50.64" x2="329.50" y2="50.64" stroke="#231f20" stroke-width="0.85"/>
<line x1="326.70" y1="49.30" x2="329.50" y2="49.30" stroke="#231f20" stroke-width="0.85"/>
<line x1="326.70" y1="48.14" x2="329.50" y2="48.14" stroke="#231f20" stroke-width="0.85"/>
<line x1="326.70" y1="47.12" x2="329.50" y2="47.12" stroke="#231f20" stroke-width="0.85"/>
<line x1="326.20" y1="46.20" x2="329.50" y2="46.20" stroke="#231f20" stroke-width="1.0"/>
<text x="323.60" y="45.90" font-size="6.0" text-anchor="end" fill="#231f20" color="#231f20">7</text>
<text x="320.50" y="50.00" font-size="8.6" text-anchor="end" fill="#231f20" color="#231f20" textLength="8.10" lengthAdjust="spacingAndGlyphs">10</text>
<line x1="329.00" y1="106.20" x2="373.50" y2="106.20" stroke="#231f20" stroke-width="1.25"/>
<line x1="329.50" y1="106.20" x2="329.50" y2="109.00" stroke="#231f20" stroke-width="1.15"/>
<text x="329.50" y="119.00" font-size="8.4" text-anchor="middle" fill="#231f20" color="#231f20">0</text>
<line x1="339.50" y1="106.20" x2="339.50" y2="109.00" stroke="#231f20" stroke-width="1.15"/>
<text x="339.50" y="119.00" font-size="8.4" text-anchor="middle" fill="#231f20" color="#231f20">2</text>
<line x1="349.50" y1="106.20" x2="349.50" y2="109.00" stroke="#231f20" stroke-width="1.15"/>
<text x="349.50" y="119.00" font-size="8.4" text-anchor="middle" fill="#231f20" color="#231f20">4</text>
<line x1="359.50" y1="106.20" x2="359.50" y2="109.00" stroke="#231f20" stroke-width="1.15"/>
<text x="359.50" y="119.00" font-size="8.4" text-anchor="middle" fill="#231f20" color="#231f20">6</text>
<line x1="369.50" y1="106.20" x2="369.50" y2="109.00" stroke="#231f20" stroke-width="1.15"/>
<text x="369.50" y="119.00" font-size="8.4" text-anchor="middle" fill="#231f20" color="#231f20">8</text>
<line x1="369.50" y1="90.00" x2="369.50" y2="96.30" stroke="#3cb54a" stroke-width="1.0"/>
<line x1="367.70" y1="90.00" x2="371.30" y2="90.00" stroke="#3cb54a" stroke-width="1.0"/>
<line x1="367.70" y1="96.30" x2="371.30" y2="96.30" stroke="#3cb54a" stroke-width="1.0"/>
<polyline points="329.50,96.90 339.50,97.40 349.50,91.80 359.50,89.50 369.50,93.00" fill="none" stroke="#3cb54a" stroke-width="1.6" stroke-linejoin="round"/>
<polygon points="326.80,94.50 332.20,94.50 329.50,99.30" fill="#3cb54a"/>
<polygon points="336.80,95.00 342.20,95.00 339.50,99.80" fill="#3cb54a"/>
<polygon points="346.80,89.40 352.20,89.40 349.50,94.20" fill="#3cb54a"/>
<polygon points="356.80,87.10 362.20,87.10 359.50,91.90" fill="#3cb54a"/>
<polygon points="366.80,90.60 372.20,90.60 369.50,95.40" fill="#3cb54a"/>
<polyline points="329.50,96.90 339.50,88.90 349.50,78.50 359.50,66.90 369.50,58.20" fill="none" stroke="#1a4f85" stroke-width="1.6" stroke-linejoin="round"/>
<rect x="327.30" y="94.70" width="4.40" height="4.40" fill="#1a4f85"/>
<rect x="337.30" y="86.70" width="4.40" height="4.40" fill="#1a4f85"/>
<rect x="347.30" y="76.30" width="4.40" height="4.40" fill="#1a4f85"/>
<rect x="357.30" y="64.70" width="4.40" height="4.40" fill="#1a4f85"/>
<rect x="367.30" y="56.00" width="4.40" height="4.40" fill="#1a4f85"/>
<polyline points="329.50,96.90 339.50,87.70 349.50,78.00 359.50,69.20 369.50,63.90" fill="none" stroke="#c8163a" stroke-width="1.6" stroke-linejoin="round"/>
<circle cx="329.50" cy="96.90" r="2.40" fill="#c8163a"/>
<circle cx="339.50" cy="87.70" r="2.40" fill="#c8163a"/>
<circle cx="349.50" cy="78.00" r="2.40" fill="#c8163a"/>
<circle cx="359.50" cy="69.20" r="2.40" fill="#c8163a"/>
<circle cx="369.50" cy="63.90" r="2.40" fill="#c8163a"/>
<line x1="373.20" y1="65.60" x2="373.20" y2="93.00" stroke="#2a2a2a" stroke-width="1.1"/>
<ellipse cx="376.90" cy="76.10" rx="1.25" ry="1.00" fill="#231f20"/>
<ellipse cx="376.90" cy="79.30" rx="1.25" ry="1.00" fill="#231f20"/>
<ellipse cx="376.90" cy="82.50" rx="1.25" ry="1.00" fill="#231f20"/>
<text x="411.00" y="38.00" font-size="10.5" text-anchor="start" fill="#231f20" color="#231f20" textLength="19.00" lengthAdjust="spacingAndGlyphs">RG2</text>
<line x1="398.00" y1="43.00" x2="398.00" y2="106.70" stroke="#231f20" stroke-width="1.25"/>
<line x1="394.70" y1="106.20" x2="398.00" y2="106.20" stroke="#231f20" stroke-width="1.0"/>
<text x="392.10" y="105.90" font-size="6.0" text-anchor="end" fill="#231f20" color="#231f20">4</text>
<text x="389.00" y="110.00" font-size="8.6" text-anchor="end" fill="#231f20" color="#231f20" textLength="8.10" lengthAdjust="spacingAndGlyphs">10</text>
<line x1="395.20" y1="100.18" x2="398.00" y2="100.18" stroke="#231f20" stroke-width="0.85"/>
<line x1="395.20" y1="96.66" x2="398.00" y2="96.66" stroke="#231f20" stroke-width="0.85"/>
<line x1="395.20" y1="94.16" x2="398.00" y2="94.16" stroke="#231f20" stroke-width="0.85"/>
<line x1="395.20" y1="92.22" x2="398.00" y2="92.22" stroke="#231f20" stroke-width="0.85"/>
<line x1="395.20" y1="90.64" x2="398.00" y2="90.64" stroke="#231f20" stroke-width="0.85"/>
<line x1="395.20" y1="89.30" x2="398.00" y2="89.30" stroke="#231f20" stroke-width="0.85"/>
<line x1="395.20" y1="88.14" x2="398.00" y2="88.14" stroke="#231f20" stroke-width="0.85"/>
<line x1="395.20" y1="87.12" x2="398.00" y2="87.12" stroke="#231f20" stroke-width="0.85"/>
<line x1="394.70" y1="86.20" x2="398.00" y2="86.20" stroke="#231f20" stroke-width="1.0"/>
<text x="392.10" y="85.90" font-size="6.0" text-anchor="end" fill="#231f20" color="#231f20">5</text>
<text x="389.00" y="90.00" font-size="8.6" text-anchor="end" fill="#231f20" color="#231f20" textLength="8.10" lengthAdjust="spacingAndGlyphs">10</text>
<line x1="395.20" y1="80.18" x2="398.00" y2="80.18" stroke="#231f20" stroke-width="0.85"/>
<line x1="395.20" y1="76.66" x2="398.00" y2="76.66" stroke="#231f20" stroke-width="0.85"/>
<line x1="395.20" y1="74.16" x2="398.00" y2="74.16" stroke="#231f20" stroke-width="0.85"/>
<line x1="395.20" y1="72.22" x2="398.00" y2="72.22" stroke="#231f20" stroke-width="0.85"/>
<line x1="395.20" y1="70.64" x2="398.00" y2="70.64" stroke="#231f20" stroke-width="0.85"/>
<line x1="395.20" y1="69.30" x2="398.00" y2="69.30" stroke="#231f20" stroke-width="0.85"/>
<line x1="395.20" y1="68.14" x2="398.00" y2="68.14" stroke="#231f20" stroke-width="0.85"/>
<line x1="395.20" y1="67.12" x2="398.00" y2="67.12" stroke="#231f20" stroke-width="0.85"/>
<line x1="394.70" y1="66.20" x2="398.00" y2="66.20" stroke="#231f20" stroke-width="1.0"/>
<text x="392.10" y="65.90" font-size="6.0" text-anchor="end" fill="#231f20" color="#231f20">6</text>
<text x="389.00" y="70.00" font-size="8.6" text-anchor="end" fill="#231f20" color="#231f20" textLength="8.10" lengthAdjust="spacingAndGlyphs">10</text>
<line x1="395.20" y1="60.18" x2="398.00" y2="60.18" stroke="#231f20" stroke-width="0.85"/>
<line x1="395.20" y1="56.66" x2="398.00" y2="56.66" stroke="#231f20" stroke-width="0.85"/>
<line x1="395.20" y1="54.16" x2="398.00" y2="54.16" stroke="#231f20" stroke-width="0.85"/>
<line x1="395.20" y1="52.22" x2="398.00" y2="52.22" stroke="#231f20" stroke-width="0.85"/>
<line x1="395.20" y1="50.64" x2="398.00" y2="50.64" stroke="#231f20" stroke-width="0.85"/>
<line x1="395.20" y1="49.30" x2="398.00" y2="49.30" stroke="#231f20" stroke-width="0.85"/>
<line x1="395.20" y1="48.14" x2="398.00" y2="48.14" stroke="#231f20" stroke-width="0.85"/>
<line x1="395.20" y1="47.12" x2="398.00" y2="47.12" stroke="#231f20" stroke-width="0.85"/>
<line x1="394.70" y1="46.20" x2="398.00" y2="46.20" stroke="#231f20" stroke-width="1.0"/>
<text x="392.10" y="45.90" font-size="6.0" text-anchor="end" fill="#231f20" color="#231f20">7</text>
<text x="389.00" y="50.00" font-size="8.6" text-anchor="end" fill="#231f20" color="#231f20" textLength="8.10" lengthAdjust="spacingAndGlyphs">10</text>
<line x1="397.50" y1="106.20" x2="442.00" y2="106.20" stroke="#231f20" stroke-width="1.25"/>
<line x1="398.00" y1="106.20" x2="398.00" y2="109.00" stroke="#231f20" stroke-width="1.15"/>
<text x="398.00" y="119.00" font-size="8.4" text-anchor="middle" fill="#231f20" color="#231f20">0</text>
<line x1="408.00" y1="106.20" x2="408.00" y2="109.00" stroke="#231f20" stroke-width="1.15"/>
<text x="408.00" y="119.00" font-size="8.4" text-anchor="middle" fill="#231f20" color="#231f20">2</text>
<line x1="418.00" y1="106.20" x2="418.00" y2="109.00" stroke="#231f20" stroke-width="1.15"/>
<text x="418.00" y="119.00" font-size="8.4" text-anchor="middle" fill="#231f20" color="#231f20">4</text>
<line x1="428.00" y1="106.20" x2="428.00" y2="109.00" stroke="#231f20" stroke-width="1.15"/>
<text x="428.00" y="119.00" font-size="8.4" text-anchor="middle" fill="#231f20" color="#231f20">6</text>
<line x1="438.00" y1="106.20" x2="438.00" y2="109.00" stroke="#231f20" stroke-width="1.15"/>
<text x="438.00" y="119.00" font-size="8.4" text-anchor="middle" fill="#231f20" color="#231f20">8</text>
<polyline points="398.00,96.90 408.00,95.80 418.00,88.40 428.00,87.70 438.00,88.90" fill="none" stroke="#3cb54a" stroke-width="1.6" stroke-linejoin="round"/>
<polygon points="395.30,94.50 400.70,94.50 398.00,99.30" fill="#3cb54a"/>
<polygon points="405.30,93.40 410.70,93.40 408.00,98.20" fill="#3cb54a"/>
<polygon points="415.30,86.00 420.70,86.00 418.00,90.80" fill="#3cb54a"/>
<polygon points="425.30,85.30 430.70,85.30 428.00,90.10" fill="#3cb54a"/>
<polygon points="435.30,86.50 440.70,86.50 438.00,91.30" fill="#3cb54a"/>
<polyline points="398.00,96.90 408.00,89.30 418.00,78.00 428.00,64.60 438.00,53.50" fill="none" stroke="#1a4f85" stroke-width="1.6" stroke-linejoin="round"/>
<rect x="395.80" y="94.70" width="4.40" height="4.40" fill="#1a4f85"/>
<rect x="405.80" y="87.10" width="4.40" height="4.40" fill="#1a4f85"/>
<rect x="415.80" y="75.80" width="4.40" height="4.40" fill="#1a4f85"/>
<rect x="425.80" y="62.40" width="4.40" height="4.40" fill="#1a4f85"/>
<rect x="435.80" y="51.30" width="4.40" height="4.40" fill="#1a4f85"/>
<polyline points="398.00,96.90 408.00,86.00 418.00,74.50 428.00,62.80 438.00,51.20" fill="none" stroke="#c8163a" stroke-width="1.6" stroke-linejoin="round"/>
<circle cx="398.00" cy="96.90" r="2.40" fill="#c8163a"/>
<circle cx="408.00" cy="86.00" r="2.40" fill="#c8163a"/>
<circle cx="418.00" cy="74.50" r="2.40" fill="#c8163a"/>
<circle cx="428.00" cy="62.80" r="2.40" fill="#c8163a"/>
<circle cx="438.00" cy="51.20" r="2.40" fill="#c8163a"/>
<line x1="442.00" y1="55.40" x2="442.00" y2="87.70" stroke="#2a2a2a" stroke-width="1.1"/>
<ellipse cx="445.70" cy="68.35" rx="1.25" ry="1.00" fill="#231f20"/>
<ellipse cx="445.70" cy="71.55" rx="1.25" ry="1.00" fill="#231f20"/>
<ellipse cx="445.70" cy="74.75" rx="1.25" ry="1.00" fill="#231f20"/>
<text x="479.60" y="38.00" font-size="10.5" text-anchor="start" fill="#231f20" color="#231f20" textLength="18.50" lengthAdjust="spacingAndGlyphs">RG3</text>
<line x1="466.00" y1="43.00" x2="466.00" y2="106.70" stroke="#231f20" stroke-width="1.25"/>
<line x1="462.70" y1="106.20" x2="466.00" y2="106.20" stroke="#231f20" stroke-width="1.0"/>
<text x="460.10" y="105.90" font-size="6.0" text-anchor="end" fill="#231f20" color="#231f20">4</text>
<text x="457.00" y="110.00" font-size="8.6" text-anchor="end" fill="#231f20" color="#231f20" textLength="8.10" lengthAdjust="spacingAndGlyphs">10</text>
<line x1="463.20" y1="100.18" x2="466.00" y2="100.18" stroke="#231f20" stroke-width="0.85"/>
<line x1="463.20" y1="96.66" x2="466.00" y2="96.66" stroke="#231f20" stroke-width="0.85"/>
<line x1="463.20" y1="94.16" x2="466.00" y2="94.16" stroke="#231f20" stroke-width="0.85"/>
<line x1="463.20" y1="92.22" x2="466.00" y2="92.22" stroke="#231f20" stroke-width="0.85"/>
<line x1="463.20" y1="90.64" x2="466.00" y2="90.64" stroke="#231f20" stroke-width="0.85"/>
<line x1="463.20" y1="89.30" x2="466.00" y2="89.30" stroke="#231f20" stroke-width="0.85"/>
<line x1="463.20" y1="88.14" x2="466.00" y2="88.14" stroke="#231f20" stroke-width="0.85"/>
<line x1="463.20" y1="87.12" x2="466.00" y2="87.12" stroke="#231f20" stroke-width="0.85"/>
<line x1="462.70" y1="86.20" x2="466.00" y2="86.20" stroke="#231f20" stroke-width="1.0"/>
<text x="460.10" y="85.90" font-size="6.0" text-anchor="end" fill="#231f20" color="#231f20">5</text>
<text x="457.00" y="90.00" font-size="8.6" text-anchor="end" fill="#231f20" color="#231f20" textLength="8.10" lengthAdjust="spacingAndGlyphs">10</text>
<line x1="463.20" y1="80.18" x2="466.00" y2="80.18" stroke="#231f20" stroke-width="0.85"/>
<line x1="463.20" y1="76.66" x2="466.00" y2="76.66" stroke="#231f20" stroke-width="0.85"/>
<line x1="463.20" y1="74.16" x2="466.00" y2="74.16" stroke="#231f20" stroke-width="0.85"/>
<line x1="463.20" y1="72.22" x2="466.00" y2="72.22" stroke="#231f20" stroke-width="0.85"/>
<line x1="463.20" y1="70.64" x2="466.00" y2="70.64" stroke="#231f20" stroke-width="0.85"/>
<line x1="463.20" y1="69.30" x2="466.00" y2="69.30" stroke="#231f20" stroke-width="0.85"/>
<line x1="463.20" y1="68.14" x2="466.00" y2="68.14" stroke="#231f20" stroke-width="0.85"/>
<line x1="463.20" y1="67.12" x2="466.00" y2="67.12" stroke="#231f20" stroke-width="0.85"/>
<line x1="462.70" y1="66.20" x2="466.00" y2="66.20" stroke="#231f20" stroke-width="1.0"/>
<text x="460.10" y="65.90" font-size="6.0" text-anchor="end" fill="#231f20" color="#231f20">6</text>
<text x="457.00" y="70.00" font-size="8.6" text-anchor="end" fill="#231f20" color="#231f20" textLength="8.10" lengthAdjust="spacingAndGlyphs">10</text>
<line x1="463.20" y1="60.18" x2="466.00" y2="60.18" stroke="#231f20" stroke-width="0.85"/>
<line x1="463.20" y1="56.66" x2="466.00" y2="56.66" stroke="#231f20" stroke-width="0.85"/>
<line x1="463.20" y1="54.16" x2="466.00" y2="54.16" stroke="#231f20" stroke-width="0.85"/>
<line x1="463.20" y1="52.22" x2="466.00" y2="52.22" stroke="#231f20" stroke-width="0.85"/>
<line x1="463.20" y1="50.64" x2="466.00" y2="50.64" stroke="#231f20" stroke-width="0.85"/>
<line x1="463.20" y1="49.30" x2="466.00" y2="49.30" stroke="#231f20" stroke-width="0.85"/>
<line x1="463.20" y1="48.14" x2="466.00" y2="48.14" stroke="#231f20" stroke-width="0.85"/>
<line x1="463.20" y1="47.12" x2="466.00" y2="47.12" stroke="#231f20" stroke-width="0.85"/>
<line x1="462.70" y1="46.20" x2="466.00" y2="46.20" stroke="#231f20" stroke-width="1.0"/>
<text x="460.10" y="45.90" font-size="6.0" text-anchor="end" fill="#231f20" color="#231f20">7</text>
<text x="457.00" y="50.00" font-size="8.6" text-anchor="end" fill="#231f20" color="#231f20" textLength="8.10" lengthAdjust="spacingAndGlyphs">10</text>
<line x1="465.50" y1="106.20" x2="510.00" y2="106.20" stroke="#231f20" stroke-width="1.25"/>
<line x1="466.00" y1="106.20" x2="466.00" y2="109.00" stroke="#231f20" stroke-width="1.15"/>
<text x="466.00" y="119.00" font-size="8.4" text-anchor="middle" fill="#231f20" color="#231f20">0</text>
<line x1="476.00" y1="106.20" x2="476.00" y2="109.00" stroke="#231f20" stroke-width="1.15"/>
<text x="476.00" y="119.00" font-size="8.4" text-anchor="middle" fill="#231f20" color="#231f20">2</text>
<line x1="486.00" y1="106.20" x2="486.00" y2="109.00" stroke="#231f20" stroke-width="1.15"/>
<text x="486.00" y="119.00" font-size="8.4" text-anchor="middle" fill="#231f20" color="#231f20">4</text>
<line x1="496.00" y1="106.20" x2="496.00" y2="109.00" stroke="#231f20" stroke-width="1.15"/>
<text x="496.00" y="119.00" font-size="8.4" text-anchor="middle" fill="#231f20" color="#231f20">6</text>
<line x1="506.00" y1="106.20" x2="506.00" y2="109.00" stroke="#231f20" stroke-width="1.15"/>
<text x="506.00" y="119.00" font-size="8.4" text-anchor="middle" fill="#231f20" color="#231f20">8</text>
<polyline points="466.00,96.90 476.00,95.30 486.00,91.20 496.00,93.50 506.00,94.20" fill="none" stroke="#3cb54a" stroke-width="1.6" stroke-linejoin="round"/>
<polygon points="463.30,94.50 468.70,94.50 466.00,99.30" fill="#3cb54a"/>
<polygon points="473.30,92.90 478.70,92.90 476.00,97.70" fill="#3cb54a"/>
<polygon points="483.30,88.80 488.70,88.80 486.00,93.60" fill="#3cb54a"/>
<polygon points="493.30,91.10 498.70,91.10 496.00,95.90" fill="#3cb54a"/>
<polygon points="503.30,91.80 508.70,91.80 506.00,96.60" fill="#3cb54a"/>
<polyline points="466.00,96.90 476.00,89.50 486.00,79.20 496.00,66.20 506.00,55.40" fill="none" stroke="#1a4f85" stroke-width="1.6" stroke-linejoin="round"/>
<rect x="463.80" y="94.70" width="4.40" height="4.40" fill="#1a4f85"/>
<rect x="473.80" y="87.30" width="4.40" height="4.40" fill="#1a4f85"/>
<rect x="483.80" y="77.00" width="4.40" height="4.40" fill="#1a4f85"/>
<rect x="493.80" y="64.00" width="4.40" height="4.40" fill="#1a4f85"/>
<rect x="503.80" y="53.20" width="4.40" height="4.40" fill="#1a4f85"/>
<polyline points="466.00,96.90 476.00,87.70 486.00,76.80 496.00,65.80 506.00,55.40" fill="none" stroke="#c8163a" stroke-width="1.6" stroke-linejoin="round"/>
<circle cx="466.00" cy="96.90" r="2.40" fill="#c8163a"/>
<circle cx="476.00" cy="87.70" r="2.40" fill="#c8163a"/>
<circle cx="486.00" cy="76.80" r="2.40" fill="#c8163a"/>
<circle cx="496.00" cy="65.80" r="2.40" fill="#c8163a"/>
<circle cx="506.00" cy="55.40" r="2.40" fill="#c8163a"/>
<line x1="510.30" y1="56.50" x2="510.30" y2="92.30" stroke="#2a2a2a" stroke-width="1.1"/>
<ellipse cx="514.00" cy="71.20" rx="1.25" ry="1.00" fill="#231f20"/>
<ellipse cx="514.00" cy="74.40" rx="1.25" ry="1.00" fill="#231f20"/>
<ellipse cx="514.00" cy="77.60" rx="1.25" ry="1.00" fill="#231f20"/>
<rect x="72.40" y="135.40" width="5.20" height="5.20" fill="#c8163a"/>
<text x="81.50" y="140.84" font-size="7.9" text-anchor="start" fill="#231f20" color="#231f20" textLength="22.00" lengthAdjust="spacingAndGlyphs">DMSO</text>
<rect x="114.15" y="135.40" width="5.20" height="5.20" fill="#1a4f85"/>
<text x="122.50" y="140.84" font-size="7.9" text-anchor="start" fill="#231f20" color="#231f20" textLength="45.50" lengthAdjust="spacingAndGlyphs">Lenalidomide</text>
<rect x="177.90" y="135.40" width="5.20" height="5.20" fill="#3cb54a"/>
<text x="186.30" y="140.84" font-size="7.9" text-anchor="start" fill="#231f20" color="#231f20" textLength="47.00" lengthAdjust="spacingAndGlyphs">Pomalidomide</text>
<rect x="337.40" y="135.40" width="5.20" height="5.20" fill="#c8163a"/>
<text x="345.00" y="140.84" font-size="7.9" text-anchor="start" fill="#231f20" color="#231f20" textLength="22.00" lengthAdjust="spacingAndGlyphs">DMSO</text>
<rect x="378.15" y="135.40" width="5.20" height="5.20" fill="#1a4f85"/>
<text x="386.30" y="140.84" font-size="7.9" text-anchor="start" fill="#231f20" color="#231f20" textLength="45.50" lengthAdjust="spacingAndGlyphs">Lenalidomide</text>
<rect x="442.50" y="135.30" width="5.20" height="5.20" fill="#3cb54a"/>
<text x="451.00" y="140.74" font-size="7.9" text-anchor="start" fill="#231f20" color="#231f20" textLength="48.00" lengthAdjust="spacingAndGlyphs">Pomalidomide</text>
<text x="40.60" y="157.90" font-size="10.5" text-anchor="start" fill="#231f20" color="#231f20" textLength="34.30" lengthAdjust="spacingAndGlyphs">Parental</text>
<line x1="35.40" y1="168.80" x2="35.40" y2="233.50" stroke="#231f20" stroke-width="1.3"/>
<line x1="32.20" y1="233.00" x2="35.40" y2="233.00" stroke="#231f20" stroke-width="1.0"/>
<text x="29.20" y="236.30" font-size="8.6" text-anchor="end" fill="#231f20" color="#231f20" textLength="4.60" lengthAdjust="spacingAndGlyphs">0</text>
<line x1="32.20" y1="220.94" x2="35.40" y2="220.94" stroke="#231f20" stroke-width="1.0"/>
<text x="29.20" y="224.24" font-size="8.6" text-anchor="end" fill="#231f20" color="#231f20" textLength="8.40" lengthAdjust="spacingAndGlyphs">20</text>
<line x1="32.20" y1="208.88" x2="35.40" y2="208.88" stroke="#231f20" stroke-width="1.0"/>
<text x="29.20" y="212.18" font-size="8.6" text-anchor="end" fill="#231f20" color="#231f20" textLength="8.40" lengthAdjust="spacingAndGlyphs">40</text>
<line x1="32.20" y1="196.82" x2="35.40" y2="196.82" stroke="#231f20" stroke-width="1.0"/>
<text x="29.20" y="200.12" font-size="8.6" text-anchor="end" fill="#231f20" color="#231f20" textLength="8.40" lengthAdjust="spacingAndGlyphs">60</text>
<line x1="32.20" y1="184.76" x2="35.40" y2="184.76" stroke="#231f20" stroke-width="1.0"/>
<text x="29.20" y="188.06" font-size="8.6" text-anchor="end" fill="#231f20" color="#231f20" textLength="8.40" lengthAdjust="spacingAndGlyphs">80</text>
<line x1="32.20" y1="172.70" x2="35.40" y2="172.70" stroke="#231f20" stroke-width="1.0"/>
<text x="29.20" y="176.00" font-size="8.6" text-anchor="end" fill="#231f20" color="#231f20" textLength="12.60" lengthAdjust="spacingAndGlyphs">100</text>
<rect x="35.80" y="226.97" width="2.80" height="6.03" fill="#c8163a"/>
<line x1="37.20" y1="225.77" x2="37.20" y2="226.97" stroke="#444" stroke-width="0.5"/>
<line x1="36.22" y1="225.77" x2="38.18" y2="225.77" stroke="#444" stroke-width="0.5"/>
<rect x="38.60" y="211.89" width="2.80" height="21.11" fill="#1a4f85"/>
<line x1="40.00" y1="210.69" x2="40.00" y2="211.89" stroke="#444" stroke-width="0.5"/>
<line x1="39.02" y1="210.69" x2="40.98" y2="210.69" stroke="#444" stroke-width="0.5"/>
<rect x="41.40" y="193.81" width="2.80" height="39.20" fill="#3cb54a"/>
<line x1="42.80" y1="192.61" x2="42.80" y2="193.81" stroke="#444" stroke-width="0.5"/>
<line x1="41.82" y1="192.61" x2="43.78" y2="192.61" stroke="#444" stroke-width="0.5"/>
<line x1="40.00" y1="233.00" x2="40.00" y2="235.60" stroke="#231f20" stroke-width="1.1"/>
<text x="40.00" y="244.80" font-size="8.2" text-anchor="middle" fill="#231f20" color="#231f20">2</text>
<rect x="46.05" y="228.18" width="2.80" height="4.82" fill="#c8163a"/>
<line x1="47.45" y1="226.98" x2="47.45" y2="228.18" stroke="#444" stroke-width="0.5"/>
<line x1="46.47" y1="226.98" x2="48.43" y2="226.98" stroke="#444" stroke-width="0.5"/>
<rect x="48.85" y="191.39" width="2.80" height="41.61" fill="#1a4f85"/>
<line x1="50.25" y1="190.19" x2="50.25" y2="191.39" stroke="#444" stroke-width="0.5"/>
<line x1="49.27" y1="190.19" x2="51.23" y2="190.19" stroke="#444" stroke-width="0.5"/>
<rect x="51.65" y="181.75" width="2.80" height="51.26" fill="#3cb54a"/>
<line x1="53.05" y1="180.55" x2="53.05" y2="181.75" stroke="#444" stroke-width="0.5"/>
<line x1="52.07" y1="180.55" x2="54.03" y2="180.55" stroke="#444" stroke-width="0.5"/>
<line x1="50.25" y1="233.00" x2="50.25" y2="235.60" stroke="#231f20" stroke-width="1.1"/>
<text x="50.25" y="244.80" font-size="8.2" text-anchor="middle" fill="#231f20" color="#231f20">4</text>
<rect x="56.30" y="225.16" width="2.80" height="7.84" fill="#c8163a"/>
<line x1="57.70" y1="223.96" x2="57.70" y2="225.16" stroke="#444" stroke-width="0.5"/>
<line x1="56.72" y1="223.96" x2="58.68" y2="223.96" stroke="#444" stroke-width="0.5"/>
<rect x="59.10" y="182.95" width="2.80" height="50.05" fill="#1a4f85"/>
<line x1="60.50" y1="181.75" x2="60.50" y2="182.95" stroke="#444" stroke-width="0.5"/>
<line x1="59.52" y1="181.75" x2="61.48" y2="181.75" stroke="#444" stroke-width="0.5"/>
<rect x="61.90" y="176.32" width="2.80" height="56.68" fill="#3cb54a"/>
<line x1="63.30" y1="175.12" x2="63.30" y2="176.32" stroke="#444" stroke-width="0.5"/>
<line x1="62.32" y1="175.12" x2="64.28" y2="175.12" stroke="#444" stroke-width="0.5"/>
<line x1="60.50" y1="233.00" x2="60.50" y2="235.60" stroke="#231f20" stroke-width="1.1"/>
<text x="60.50" y="244.80" font-size="8.2" text-anchor="middle" fill="#231f20" color="#231f20">6</text>
<rect x="66.55" y="225.16" width="2.80" height="7.84" fill="#c8163a"/>
<line x1="67.95" y1="223.96" x2="67.95" y2="225.16" stroke="#444" stroke-width="0.5"/>
<line x1="66.97" y1="223.96" x2="68.93" y2="223.96" stroke="#444" stroke-width="0.5"/>
<rect x="69.35" y="175.11" width="2.80" height="57.89" fill="#1a4f85"/>
<line x1="70.75" y1="173.91" x2="70.75" y2="175.11" stroke="#444" stroke-width="0.5"/>
<line x1="69.77" y1="173.91" x2="71.73" y2="173.91" stroke="#444" stroke-width="0.5"/>
<rect x="72.15" y="173.91" width="2.80" height="59.09" fill="#3cb54a"/>
<line x1="73.55" y1="172.71" x2="73.55" y2="173.91" stroke="#444" stroke-width="0.5"/>
<line x1="72.57" y1="172.71" x2="74.53" y2="172.71" stroke="#444" stroke-width="0.5"/>
<line x1="70.75" y1="233.00" x2="70.75" y2="235.60" stroke="#231f20" stroke-width="1.1"/>
<text x="70.75" y="244.80" font-size="8.2" text-anchor="middle" fill="#231f20" color="#231f20">8</text>
<line x1="34.90" y1="233.00" x2="75.90" y2="233.00" stroke="#231f20" stroke-width="1.3"/>
<ellipse cx="40.00" cy="199.40" rx="1.15" ry="0.92" fill="#231f20"/>
<ellipse cx="40.00" cy="202.59" rx="1.15" ry="0.92" fill="#231f20"/>
<ellipse cx="40.00" cy="205.80" rx="1.15" ry="0.92" fill="#231f20"/>
<ellipse cx="42.80" cy="181.31" rx="1.15" ry="0.92" fill="#231f20"/>
<ellipse cx="42.80" cy="184.51" rx="1.15" ry="0.92" fill="#231f20"/>
<ellipse cx="42.80" cy="187.71" rx="1.15" ry="0.92" fill="#231f20"/>
<ellipse cx="50.25" cy="178.89" rx="1.15" ry="0.92" fill="#231f20"/>
<ellipse cx="50.25" cy="182.09" rx="1.15" ry="0.92" fill="#231f20"/>
<ellipse cx="50.25" cy="185.29" rx="1.15" ry="0.92" fill="#231f20"/>
<ellipse cx="53.05" cy="169.25" rx="1.15" ry="0.92" fill="#231f20"/>
<ellipse cx="53.05" cy="172.45" rx="1.15" ry="0.92" fill="#231f20"/>
<ellipse cx="53.05" cy="175.65" rx="1.15" ry="0.92" fill="#231f20"/>
<ellipse cx="60.50" cy="170.45" rx="1.15" ry="0.92" fill="#231f20"/>
<ellipse cx="60.50" cy="173.65" rx="1.15" ry="0.92" fill="#231f20"/>
<ellipse cx="60.50" cy="176.85" rx="1.15" ry="0.92" fill="#231f20"/>
<ellipse cx="63.30" cy="163.82" rx="1.15" ry="0.92" fill="#231f20"/>
<ellipse cx="63.30" cy="167.02" rx="1.15" ry="0.92" fill="#231f20"/>
<ellipse cx="63.30" cy="170.22" rx="1.15" ry="0.92" fill="#231f20"/>
<ellipse cx="70.75" cy="162.61" rx="1.15" ry="0.92" fill="#231f20"/>
<ellipse cx="70.75" cy="165.81" rx="1.15" ry="0.92" fill="#231f20"/>
<ellipse cx="70.75" cy="169.01" rx="1.15" ry="0.92" fill="#231f20"/>
<ellipse cx="73.55" cy="161.41" rx="1.15" ry="0.92" fill="#231f20"/>
<ellipse cx="73.55" cy="164.61" rx="1.15" ry="0.92" fill="#231f20"/>
<ellipse cx="73.55" cy="167.81" rx="1.15" ry="0.92" fill="#231f20"/>
<text x="96.50" y="157.90" font-size="10.5" text-anchor="start" fill="#231f20" color="#231f20" textLength="50.50" lengthAdjust="spacingAndGlyphs">Resistant #1</text>
<line x1="104.50" y1="168.80" x2="104.50" y2="233.50" stroke="#231f20" stroke-width="1.3"/>
<line x1="101.30" y1="233.00" x2="104.50" y2="233.00" stroke="#231f20" stroke-width="1.0"/>
<text x="98.30" y="236.30" font-size="8.6" text-anchor="end" fill="#231f20" color="#231f20" textLength="4.60" lengthAdjust="spacingAndGlyphs">0</text>
<line x1="101.30" y1="220.94" x2="104.50" y2="220.94" stroke="#231f20" stroke-width="1.0"/>
<text x="98.30" y="224.24" font-size="8.6" text-anchor="end" fill="#231f20" color="#231f20" textLength="8.40" lengthAdjust="spacingAndGlyphs">20</text>
<line x1="101.30" y1="208.88" x2="104.50" y2="208.88" stroke="#231f20" stroke-width="1.0"/>
<text x="98.30" y="212.18" font-size="8.6" text-anchor="end" fill="#231f20" color="#231f20" textLength="8.40" lengthAdjust="spacingAndGlyphs">40</text>
<line x1="101.30" y1="196.82" x2="104.50" y2="196.82" stroke="#231f20" stroke-width="1.0"/>
<text x="98.30" y="200.12" font-size="8.6" text-anchor="end" fill="#231f20" color="#231f20" textLength="8.40" lengthAdjust="spacingAndGlyphs">60</text>
<line x1="101.30" y1="184.76" x2="104.50" y2="184.76" stroke="#231f20" stroke-width="1.0"/>
<text x="98.30" y="188.06" font-size="8.6" text-anchor="end" fill="#231f20" color="#231f20" textLength="8.40" lengthAdjust="spacingAndGlyphs">80</text>
<line x1="101.30" y1="172.70" x2="104.50" y2="172.70" stroke="#231f20" stroke-width="1.0"/>
<text x="98.30" y="176.00" font-size="8.6" text-anchor="end" fill="#231f20" color="#231f20" textLength="12.60" lengthAdjust="spacingAndGlyphs">100</text>
<rect x="104.90" y="223.95" width="2.80" height="9.05" fill="#c8163a"/>
<line x1="106.30" y1="222.75" x2="106.30" y2="223.95" stroke="#444" stroke-width="0.5"/>
<line x1="105.32" y1="222.75" x2="107.28" y2="222.75" stroke="#444" stroke-width="0.5"/>
<rect x="107.70" y="221.54" width="2.80" height="11.46" fill="#1a4f85"/>
<line x1="109.10" y1="220.34" x2="109.10" y2="221.54" stroke="#444" stroke-width="0.5"/>
<line x1="108.12" y1="220.34" x2="110.08" y2="220.34" stroke="#444" stroke-width="0.5"/>
<rect x="110.50" y="199.83" width="2.80" height="33.17" fill="#3cb54a"/>
<line x1="111.90" y1="198.63" x2="111.90" y2="199.83" stroke="#444" stroke-width="0.5"/>
<line x1="110.92" y1="198.63" x2="112.88" y2="198.63" stroke="#444" stroke-width="0.5"/>
<line x1="109.10" y1="233.00" x2="109.10" y2="235.60" stroke="#231f20" stroke-width="1.1"/>
<text x="109.10" y="244.80" font-size="8.2" text-anchor="middle" fill="#231f20" color="#231f20">2</text>
<rect x="115.15" y="217.32" width="2.80" height="15.68" fill="#c8163a"/>
<line x1="116.55" y1="216.12" x2="116.55" y2="217.32" stroke="#444" stroke-width="0.5"/>
<line x1="115.57" y1="216.12" x2="117.53" y2="216.12" stroke="#444" stroke-width="0.5"/>
<rect x="117.95" y="216.72" width="2.80" height="16.28" fill="#1a4f85"/>
<line x1="119.35" y1="215.52" x2="119.35" y2="216.72" stroke="#444" stroke-width="0.5"/>
<line x1="118.37" y1="215.52" x2="120.33" y2="215.52" stroke="#444" stroke-width="0.5"/>
<rect x="120.75" y="190.79" width="2.80" height="42.21" fill="#3cb54a"/>
<line x1="122.15" y1="189.59" x2="122.15" y2="190.79" stroke="#444" stroke-width="0.5"/>
<line x1="121.17" y1="189.59" x2="123.13" y2="189.59" stroke="#444" stroke-width="0.5"/>
<line x1="119.35" y1="233.00" x2="119.35" y2="235.60" stroke="#231f20" stroke-width="1.1"/>
<text x="119.35" y="244.80" font-size="8.2" text-anchor="middle" fill="#231f20" color="#231f20">4</text>
<rect x="125.40" y="217.93" width="2.80" height="15.08" fill="#c8163a"/>
<line x1="126.80" y1="216.73" x2="126.80" y2="217.93" stroke="#444" stroke-width="0.5"/>
<line x1="125.82" y1="216.73" x2="127.78" y2="216.73" stroke="#444" stroke-width="0.5"/>
<rect x="128.20" y="217.93" width="2.80" height="15.08" fill="#1a4f85"/>
<line x1="129.60" y1="216.73" x2="129.60" y2="217.93" stroke="#444" stroke-width="0.5"/>
<line x1="128.62" y1="216.73" x2="130.58" y2="216.73" stroke="#444" stroke-width="0.5"/>
<rect x="131.00" y="187.77" width="2.80" height="45.23" fill="#3cb54a"/>
<line x1="132.40" y1="186.57" x2="132.40" y2="187.77" stroke="#444" stroke-width="0.5"/>
<line x1="131.42" y1="186.57" x2="133.38" y2="186.57" stroke="#444" stroke-width="0.5"/>
<line x1="129.60" y1="233.00" x2="129.60" y2="235.60" stroke="#231f20" stroke-width="1.1"/>
<text x="129.60" y="244.80" font-size="8.2" text-anchor="middle" fill="#231f20" color="#231f20">6</text>
<rect x="135.65" y="212.50" width="2.80" height="20.50" fill="#c8163a"/>
<line x1="137.05" y1="211.30" x2="137.05" y2="212.50" stroke="#444" stroke-width="0.5"/>
<line x1="136.07" y1="211.30" x2="138.03" y2="211.30" stroke="#444" stroke-width="0.5"/>
<rect x="138.45" y="211.89" width="2.80" height="21.11" fill="#1a4f85"/>
<line x1="139.85" y1="210.69" x2="139.85" y2="211.89" stroke="#444" stroke-width="0.5"/>
<line x1="138.87" y1="210.69" x2="140.83" y2="210.69" stroke="#444" stroke-width="0.5"/>
<rect x="141.25" y="178.73" width="2.80" height="54.27" fill="#3cb54a"/>
<line x1="142.65" y1="177.53" x2="142.65" y2="178.73" stroke="#444" stroke-width="0.5"/>
<line x1="141.67" y1="177.53" x2="143.63" y2="177.53" stroke="#444" stroke-width="0.5"/>
<line x1="139.85" y1="233.00" x2="139.85" y2="235.60" stroke="#231f20" stroke-width="1.1"/>
<text x="139.85" y="244.80" font-size="8.2" text-anchor="middle" fill="#231f20" color="#231f20">8</text>
<line x1="104.00" y1="233.00" x2="145.00" y2="233.00" stroke="#231f20" stroke-width="1.3"/>
<ellipse cx="111.90" cy="187.34" rx="1.15" ry="0.92" fill="#231f20"/>
<ellipse cx="111.90" cy="190.53" rx="1.15" ry="0.92" fill="#231f20"/>
<ellipse cx="111.90" cy="193.74" rx="1.15" ry="0.92" fill="#231f20"/>
<ellipse cx="122.15" cy="178.29" rx="1.15" ry="0.92" fill="#231f20"/>
<ellipse cx="122.15" cy="181.49" rx="1.15" ry="0.92" fill="#231f20"/>
<ellipse cx="122.15" cy="184.69" rx="1.15" ry="0.92" fill="#231f20"/>
<ellipse cx="132.40" cy="175.28" rx="1.15" ry="0.92" fill="#231f20"/>
<ellipse cx="132.40" cy="178.47" rx="1.15" ry="0.92" fill="#231f20"/>
<ellipse cx="132.40" cy="181.68" rx="1.15" ry="0.92" fill="#231f20"/>
<ellipse cx="142.65" cy="166.23" rx="1.15" ry="0.92" fill="#231f20"/>
<ellipse cx="142.65" cy="169.43" rx="1.15" ry="0.92" fill="#231f20"/>
<ellipse cx="142.65" cy="172.63" rx="1.15" ry="0.92" fill="#231f20"/>
<text x="171.50" y="157.90" font-size="10.5" text-anchor="start" fill="#231f20" color="#231f20" textLength="51.00" lengthAdjust="spacingAndGlyphs">Resistant #2</text>
<line x1="174.40" y1="168.80" x2="174.40" y2="233.50" stroke="#231f20" stroke-width="1.3"/>
<line x1="171.20" y1="233.00" x2="174.40" y2="233.00" stroke="#231f20" stroke-width="1.0"/>
<text x="168.20" y="236.30" font-size="8.6" text-anchor="end" fill="#231f20" color="#231f20" textLength="4.60" lengthAdjust="spacingAndGlyphs">0</text>
<line x1="171.20" y1="220.94" x2="174.40" y2="220.94" stroke="#231f20" stroke-width="1.0"/>
<text x="168.20" y="224.24" font-size="8.6" text-anchor="end" fill="#231f20" color="#231f20" textLength="8.40" lengthAdjust="spacingAndGlyphs">20</text>
<line x1="171.20" y1="208.88" x2="174.40" y2="208.88" stroke="#231f20" stroke-width="1.0"/>
<text x="168.20" y="212.18" font-size="8.6" text-anchor="end" fill="#231f20" color="#231f20" textLength="8.40" lengthAdjust="spacingAndGlyphs">40</text>
<line x1="171.20" y1="196.82" x2="174.40" y2="196.82" stroke="#231f20" stroke-width="1.0"/>
<text x="168.20" y="200.12" font-size="8.6" text-anchor="end" fill="#231f20" color="#231f20" textLength="8.40" lengthAdjust="spacingAndGlyphs">60</text>
<line x1="171.20" y1="184.76" x2="174.40" y2="184.76" stroke="#231f20" stroke-width="1.0"/>
<text x="168.20" y="188.06" font-size="8.6" text-anchor="end" fill="#231f20" color="#231f20" textLength="8.40" lengthAdjust="spacingAndGlyphs">80</text>
<line x1="171.20" y1="172.70" x2="174.40" y2="172.70" stroke="#231f20" stroke-width="1.0"/>
<text x="168.20" y="176.00" font-size="8.6" text-anchor="end" fill="#231f20" color="#231f20" textLength="12.60" lengthAdjust="spacingAndGlyphs">100</text>
<rect x="174.80" y="222.75" width="2.80" height="10.25" fill="#c8163a"/>
<line x1="176.20" y1="221.55" x2="176.20" y2="222.75" stroke="#444" stroke-width="0.5"/>
<line x1="175.22" y1="221.55" x2="177.18" y2="221.55" stroke="#444" stroke-width="0.5"/>
<rect x="177.60" y="218.53" width="2.80" height="14.47" fill="#1a4f85"/>
<line x1="179.00" y1="217.33" x2="179.00" y2="218.53" stroke="#444" stroke-width="0.5"/>
<line x1="178.02" y1="217.33" x2="179.98" y2="217.33" stroke="#444" stroke-width="0.5"/>
<rect x="180.40" y="208.88" width="2.80" height="24.12" fill="#3cb54a"/>
<line x1="181.80" y1="207.68" x2="181.80" y2="208.88" stroke="#444" stroke-width="0.5"/>
<line x1="180.82" y1="207.68" x2="182.78" y2="207.68" stroke="#444" stroke-width="0.5"/>
<line x1="179.00" y1="233.00" x2="179.00" y2="235.60" stroke="#231f20" stroke-width="1.1"/>
<text x="179.00" y="244.80" font-size="8.2" text-anchor="middle" fill="#231f20" color="#231f20">2</text>
<rect x="185.05" y="221.54" width="2.80" height="11.46" fill="#c8163a"/>
<line x1="186.45" y1="220.34" x2="186.45" y2="221.54" stroke="#444" stroke-width="0.5"/>
<line x1="185.47" y1="220.34" x2="187.43" y2="220.34" stroke="#444" stroke-width="0.5"/>
<rect x="187.85" y="219.13" width="2.80" height="13.87" fill="#1a4f85"/>
<line x1="189.25" y1="217.93" x2="189.25" y2="219.13" stroke="#444" stroke-width="0.5"/>
<line x1="188.27" y1="217.93" x2="190.23" y2="217.93" stroke="#444" stroke-width="0.5"/>
<rect x="190.65" y="201.04" width="2.80" height="31.96" fill="#3cb54a"/>
<line x1="192.05" y1="199.84" x2="192.05" y2="201.04" stroke="#444" stroke-width="0.5"/>
<line x1="191.07" y1="199.84" x2="193.03" y2="199.84" stroke="#444" stroke-width="0.5"/>
<line x1="189.25" y1="233.00" x2="189.25" y2="235.60" stroke="#231f20" stroke-width="1.1"/>
<text x="189.25" y="244.80" font-size="8.2" text-anchor="middle" fill="#231f20" color="#231f20">4</text>
<rect x="195.30" y="220.34" width="2.80" height="12.66" fill="#c8163a"/>
<line x1="196.70" y1="219.14" x2="196.70" y2="220.34" stroke="#444" stroke-width="0.5"/>
<line x1="195.72" y1="219.14" x2="197.68" y2="219.14" stroke="#444" stroke-width="0.5"/>
<rect x="198.10" y="219.13" width="2.80" height="13.87" fill="#1a4f85"/>
<line x1="199.50" y1="217.93" x2="199.50" y2="219.13" stroke="#444" stroke-width="0.5"/>
<line x1="198.52" y1="217.93" x2="200.48" y2="217.93" stroke="#444" stroke-width="0.5"/>
<rect x="200.90" y="197.42" width="2.80" height="35.58" fill="#3cb54a"/>
<line x1="202.30" y1="196.22" x2="202.30" y2="197.42" stroke="#444" stroke-width="0.5"/>
<line x1="201.32" y1="196.22" x2="203.28" y2="196.22" stroke="#444" stroke-width="0.5"/>
<line x1="199.50" y1="233.00" x2="199.50" y2="235.60" stroke="#231f20" stroke-width="1.1"/>
<text x="199.50" y="244.80" font-size="8.2" text-anchor="middle" fill="#231f20" color="#231f20">6</text>
<rect x="205.55" y="213.70" width="2.80" height="19.30" fill="#c8163a"/>
<line x1="206.95" y1="212.50" x2="206.95" y2="213.70" stroke="#444" stroke-width="0.5"/>
<line x1="205.97" y1="212.50" x2="207.93" y2="212.50" stroke="#444" stroke-width="0.5"/>
<rect x="208.35" y="215.51" width="2.80" height="17.49" fill="#1a4f85"/>
<line x1="209.75" y1="214.31" x2="209.75" y2="215.51" stroke="#444" stroke-width="0.5"/>
<line x1="208.77" y1="214.31" x2="210.73" y2="214.31" stroke="#444" stroke-width="0.5"/>
<rect x="211.15" y="192.00" width="2.80" height="41.00" fill="#3cb54a"/>
<line x1="212.55" y1="190.80" x2="212.55" y2="192.00" stroke="#444" stroke-width="0.5"/>
<line x1="211.57" y1="190.80" x2="213.53" y2="190.80" stroke="#444" stroke-width="0.5"/>
<line x1="209.75" y1="233.00" x2="209.75" y2="235.60" stroke="#231f20" stroke-width="1.1"/>
<text x="209.75" y="244.80" font-size="8.2" text-anchor="middle" fill="#231f20" color="#231f20">8</text>
<line x1="173.90" y1="233.00" x2="214.90" y2="233.00" stroke="#231f20" stroke-width="1.3"/>
<ellipse cx="181.80" cy="202.78" rx="1.15" ry="0.92" fill="#231f20"/>
<ellipse cx="192.05" cy="188.54" rx="1.15" ry="0.92" fill="#231f20"/>
<ellipse cx="192.05" cy="191.74" rx="1.15" ry="0.92" fill="#231f20"/>
<ellipse cx="192.05" cy="194.94" rx="1.15" ry="0.92" fill="#231f20"/>
<ellipse cx="202.30" cy="184.92" rx="1.15" ry="0.92" fill="#231f20"/>
<ellipse cx="202.30" cy="188.12" rx="1.15" ry="0.92" fill="#231f20"/>
<ellipse cx="202.30" cy="191.32" rx="1.15" ry="0.92" fill="#231f20"/>
<ellipse cx="212.55" cy="179.50" rx="1.15" ry="0.92" fill="#231f20"/>
<ellipse cx="212.55" cy="182.70" rx="1.15" ry="0.92" fill="#231f20"/>
<ellipse cx="212.55" cy="185.90" rx="1.15" ry="0.92" fill="#231f20"/>
<text x="239.50" y="157.90" font-size="10.5" text-anchor="start" fill="#231f20" color="#231f20" textLength="52.00" lengthAdjust="spacingAndGlyphs">Resistant #3</text>
<line x1="244.50" y1="168.80" x2="244.50" y2="233.50" stroke="#231f20" stroke-width="1.3"/>
<line x1="241.30" y1="233.00" x2="244.50" y2="233.00" stroke="#231f20" stroke-width="1.0"/>
<text x="238.30" y="236.30" font-size="8.6" text-anchor="end" fill="#231f20" color="#231f20" textLength="4.60" lengthAdjust="spacingAndGlyphs">0</text>
<line x1="241.30" y1="220.94" x2="244.50" y2="220.94" stroke="#231f20" stroke-width="1.0"/>
<text x="238.30" y="224.24" font-size="8.6" text-anchor="end" fill="#231f20" color="#231f20" textLength="8.40" lengthAdjust="spacingAndGlyphs">20</text>
<line x1="241.30" y1="208.88" x2="244.50" y2="208.88" stroke="#231f20" stroke-width="1.0"/>
<text x="238.30" y="212.18" font-size="8.6" text-anchor="end" fill="#231f20" color="#231f20" textLength="8.40" lengthAdjust="spacingAndGlyphs">40</text>
<line x1="241.30" y1="196.82" x2="244.50" y2="196.82" stroke="#231f20" stroke-width="1.0"/>
<text x="238.30" y="200.12" font-size="8.6" text-anchor="end" fill="#231f20" color="#231f20" textLength="8.40" lengthAdjust="spacingAndGlyphs">60</text>
<line x1="241.30" y1="184.76" x2="244.50" y2="184.76" stroke="#231f20" stroke-width="1.0"/>
<text x="238.30" y="188.06" font-size="8.6" text-anchor="end" fill="#231f20" color="#231f20" textLength="8.40" lengthAdjust="spacingAndGlyphs">80</text>
<line x1="241.30" y1="172.70" x2="244.50" y2="172.70" stroke="#231f20" stroke-width="1.0"/>
<text x="238.30" y="176.00" font-size="8.6" text-anchor="end" fill="#231f20" color="#231f20" textLength="12.60" lengthAdjust="spacingAndGlyphs">100</text>
<rect x="244.90" y="226.97" width="2.80" height="6.03" fill="#c8163a"/>
<line x1="246.30" y1="225.77" x2="246.30" y2="226.97" stroke="#444" stroke-width="0.5"/>
<line x1="245.32" y1="225.77" x2="247.28" y2="225.77" stroke="#444" stroke-width="0.5"/>
<rect x="247.70" y="220.34" width="2.80" height="12.66" fill="#1a4f85"/>
<line x1="249.10" y1="219.14" x2="249.10" y2="220.34" stroke="#444" stroke-width="0.5"/>
<line x1="248.12" y1="219.14" x2="250.08" y2="219.14" stroke="#444" stroke-width="0.5"/>
<rect x="250.50" y="207.67" width="2.80" height="25.33" fill="#3cb54a"/>
<line x1="251.90" y1="206.47" x2="251.90" y2="207.67" stroke="#444" stroke-width="0.5"/>
<line x1="250.92" y1="206.47" x2="252.88" y2="206.47" stroke="#444" stroke-width="0.5"/>
<line x1="249.10" y1="233.00" x2="249.10" y2="235.60" stroke="#231f20" stroke-width="1.1"/>
<text x="249.10" y="244.80" font-size="8.2" text-anchor="middle" fill="#231f20" color="#231f20">2</text>
<rect x="255.15" y="226.37" width="2.80" height="6.63" fill="#c8163a"/>
<line x1="256.55" y1="225.17" x2="256.55" y2="226.37" stroke="#444" stroke-width="0.5"/>
<line x1="255.57" y1="225.17" x2="257.53" y2="225.17" stroke="#444" stroke-width="0.5"/>
<rect x="257.95" y="223.35" width="2.80" height="9.65" fill="#1a4f85"/>
<line x1="259.35" y1="222.15" x2="259.35" y2="223.35" stroke="#444" stroke-width="0.5"/>
<line x1="258.37" y1="222.15" x2="260.33" y2="222.15" stroke="#444" stroke-width="0.5"/>
<rect x="260.75" y="199.83" width="2.80" height="33.17" fill="#3cb54a"/>
<line x1="262.15" y1="198.63" x2="262.15" y2="199.83" stroke="#444" stroke-width="0.5"/>
<line x1="261.17" y1="198.63" x2="263.13" y2="198.63" stroke="#444" stroke-width="0.5"/>
<line x1="259.35" y1="233.00" x2="259.35" y2="235.60" stroke="#231f20" stroke-width="1.1"/>
<text x="259.35" y="244.80" font-size="8.2" text-anchor="middle" fill="#231f20" color="#231f20">4</text>
<rect x="265.40" y="224.56" width="2.80" height="8.44" fill="#c8163a"/>
<line x1="266.80" y1="223.36" x2="266.80" y2="224.56" stroke="#444" stroke-width="0.5"/>
<line x1="265.82" y1="223.36" x2="267.78" y2="223.36" stroke="#444" stroke-width="0.5"/>
<rect x="268.20" y="223.35" width="2.80" height="9.65" fill="#1a4f85"/>
<line x1="269.60" y1="222.15" x2="269.60" y2="223.35" stroke="#444" stroke-width="0.5"/>
<line x1="268.62" y1="222.15" x2="270.58" y2="222.15" stroke="#444" stroke-width="0.5"/>
<rect x="271.00" y="191.39" width="2.80" height="41.61" fill="#3cb54a"/>
<line x1="272.40" y1="190.19" x2="272.40" y2="191.39" stroke="#444" stroke-width="0.5"/>
<line x1="271.42" y1="190.19" x2="273.38" y2="190.19" stroke="#444" stroke-width="0.5"/>
<line x1="269.60" y1="233.00" x2="269.60" y2="235.60" stroke="#231f20" stroke-width="1.1"/>
<text x="269.60" y="244.80" font-size="8.2" text-anchor="middle" fill="#231f20" color="#231f20">6</text>
<rect x="275.65" y="214.91" width="2.80" height="18.09" fill="#c8163a"/>
<line x1="277.05" y1="213.71" x2="277.05" y2="214.91" stroke="#444" stroke-width="0.5"/>
<line x1="276.07" y1="213.71" x2="278.03" y2="213.71" stroke="#444" stroke-width="0.5"/>
<rect x="278.45" y="215.51" width="2.80" height="17.49" fill="#1a4f85"/>
<line x1="279.85" y1="214.31" x2="279.85" y2="215.51" stroke="#444" stroke-width="0.5"/>
<line x1="278.87" y1="214.31" x2="280.83" y2="214.31" stroke="#444" stroke-width="0.5"/>
<rect x="281.25" y="185.36" width="2.80" height="47.64" fill="#3cb54a"/>
<line x1="282.65" y1="184.16" x2="282.65" y2="185.36" stroke="#444" stroke-width="0.5"/>
<line x1="281.67" y1="184.16" x2="283.63" y2="184.16" stroke="#444" stroke-width="0.5"/>
<line x1="279.85" y1="233.00" x2="279.85" y2="235.60" stroke="#231f20" stroke-width="1.1"/>
<text x="279.85" y="244.80" font-size="8.2" text-anchor="middle" fill="#231f20" color="#231f20">8</text>
<line x1="244.00" y1="233.00" x2="285.00" y2="233.00" stroke="#231f20" stroke-width="1.3"/>
<ellipse cx="251.90" cy="201.57" rx="1.15" ry="0.92" fill="#231f20"/>
<ellipse cx="262.15" cy="187.34" rx="1.15" ry="0.92" fill="#231f20"/>
<ellipse cx="262.15" cy="190.53" rx="1.15" ry="0.92" fill="#231f20"/>
<ellipse cx="262.15" cy="193.74" rx="1.15" ry="0.92" fill="#231f20"/>
<ellipse cx="272.40" cy="178.89" rx="1.15" ry="0.92" fill="#231f20"/>
<ellipse cx="272.40" cy="182.09" rx="1.15" ry="0.92" fill="#231f20"/>
<ellipse cx="272.40" cy="185.29" rx="1.15" ry="0.92" fill="#231f20"/>
<ellipse cx="282.65" cy="172.86" rx="1.15" ry="0.92" fill="#231f20"/>
<ellipse cx="282.65" cy="176.06" rx="1.15" ry="0.92" fill="#231f20"/>
<ellipse cx="282.65" cy="179.26" rx="1.15" ry="0.92" fill="#231f20"/>
<text x="344.50" y="157.90" font-size="10.5" text-anchor="start" fill="#231f20" color="#231f20" textLength="17.00" lengthAdjust="spacingAndGlyphs">RG1</text>
<line x1="334.20" y1="168.80" x2="334.20" y2="233.10" stroke="#231f20" stroke-width="1.3"/>
<line x1="331.00" y1="232.60" x2="334.20" y2="232.60" stroke="#231f20" stroke-width="1.0"/>
<text x="328.00" y="235.90" font-size="8.6" text-anchor="end" fill="#231f20" color="#231f20" textLength="4.60" lengthAdjust="spacingAndGlyphs">0</text>
<line x1="331.00" y1="220.56" x2="334.20" y2="220.56" stroke="#231f20" stroke-width="1.0"/>
<text x="328.00" y="223.86" font-size="8.6" text-anchor="end" fill="#231f20" color="#231f20" textLength="8.40" lengthAdjust="spacingAndGlyphs">20</text>
<line x1="331.00" y1="208.52" x2="334.20" y2="208.52" stroke="#231f20" stroke-width="1.0"/>
<text x="328.00" y="211.82" font-size="8.6" text-anchor="end" fill="#231f20" color="#231f20" textLength="8.40" lengthAdjust="spacingAndGlyphs">40</text>
<line x1="331.00" y1="196.48" x2="334.20" y2="196.48" stroke="#231f20" stroke-width="1.0"/>
<text x="328.00" y="199.78" font-size="8.6" text-anchor="end" fill="#231f20" color="#231f20" textLength="8.40" lengthAdjust="spacingAndGlyphs">60</text>
<line x1="331.00" y1="184.44" x2="334.20" y2="184.44" stroke="#231f20" stroke-width="1.0"/>
<text x="328.00" y="187.74" font-size="8.6" text-anchor="end" fill="#231f20" color="#231f20" textLength="8.40" lengthAdjust="spacingAndGlyphs">80</text>
<line x1="331.00" y1="172.40" x2="334.20" y2="172.40" stroke="#231f20" stroke-width="1.0"/>
<text x="328.00" y="175.70" font-size="8.6" text-anchor="end" fill="#231f20" color="#231f20" textLength="12.60" lengthAdjust="spacingAndGlyphs">100</text>
<rect x="334.60" y="221.76" width="2.80" height="10.84" fill="#c8163a"/>
<line x1="336.00" y1="220.56" x2="336.00" y2="221.76" stroke="#444" stroke-width="0.5"/>
<line x1="335.02" y1="220.56" x2="336.98" y2="220.56" stroke="#444" stroke-width="0.5"/>
<rect x="337.40" y="221.76" width="2.80" height="10.84" fill="#1a4f85"/>
<line x1="338.80" y1="220.56" x2="338.80" y2="221.76" stroke="#444" stroke-width="0.5"/>
<line x1="337.82" y1="220.56" x2="339.78" y2="220.56" stroke="#444" stroke-width="0.5"/>
<rect x="340.20" y="216.35" width="2.80" height="16.25" fill="#3cb54a"/>
<line x1="341.60" y1="215.15" x2="341.60" y2="216.35" stroke="#444" stroke-width="0.5"/>
<line x1="340.62" y1="215.15" x2="342.58" y2="215.15" stroke="#444" stroke-width="0.5"/>
<line x1="338.80" y1="232.60" x2="338.80" y2="235.20" stroke="#231f20" stroke-width="1.1"/>
<text x="338.80" y="244.80" font-size="8.2" text-anchor="middle" fill="#231f20" color="#231f20">2</text>
<rect x="344.85" y="221.16" width="2.80" height="11.44" fill="#c8163a"/>
<line x1="346.25" y1="219.96" x2="346.25" y2="221.16" stroke="#444" stroke-width="0.5"/>
<line x1="345.27" y1="219.96" x2="347.23" y2="219.96" stroke="#444" stroke-width="0.5"/>
<rect x="347.65" y="221.76" width="2.80" height="10.84" fill="#1a4f85"/>
<line x1="349.05" y1="220.56" x2="349.05" y2="221.76" stroke="#444" stroke-width="0.5"/>
<line x1="348.07" y1="220.56" x2="350.03" y2="220.56" stroke="#444" stroke-width="0.5"/>
<rect x="350.45" y="208.52" width="2.80" height="24.08" fill="#3cb54a"/>
<line x1="351.85" y1="207.32" x2="351.85" y2="208.52" stroke="#444" stroke-width="0.5"/>
<line x1="350.87" y1="207.32" x2="352.83" y2="207.32" stroke="#444" stroke-width="0.5"/>
<line x1="349.05" y1="232.60" x2="349.05" y2="235.20" stroke="#231f20" stroke-width="1.1"/>
<text x="349.05" y="244.80" font-size="8.2" text-anchor="middle" fill="#231f20" color="#231f20">4</text>
<rect x="355.10" y="218.15" width="2.80" height="14.45" fill="#c8163a"/>
<line x1="356.50" y1="216.95" x2="356.50" y2="218.15" stroke="#444" stroke-width="0.5"/>
<line x1="355.52" y1="216.95" x2="357.48" y2="216.95" stroke="#444" stroke-width="0.5"/>
<rect x="357.90" y="221.16" width="2.80" height="11.44" fill="#1a4f85"/>
<line x1="359.30" y1="219.96" x2="359.30" y2="221.16" stroke="#444" stroke-width="0.5"/>
<line x1="358.32" y1="219.96" x2="360.28" y2="219.96" stroke="#444" stroke-width="0.5"/>
<rect x="360.70" y="199.49" width="2.80" height="33.11" fill="#3cb54a"/>
<line x1="362.10" y1="198.29" x2="362.10" y2="199.49" stroke="#444" stroke-width="0.5"/>
<line x1="361.12" y1="198.29" x2="363.08" y2="198.29" stroke="#444" stroke-width="0.5"/>
<line x1="359.30" y1="232.60" x2="359.30" y2="235.20" stroke="#231f20" stroke-width="1.1"/>
<text x="359.30" y="244.80" font-size="8.2" text-anchor="middle" fill="#231f20" color="#231f20">6</text>
<rect x="365.35" y="215.14" width="2.80" height="17.46" fill="#c8163a"/>
<line x1="366.75" y1="213.94" x2="366.75" y2="215.14" stroke="#444" stroke-width="0.5"/>
<line x1="365.77" y1="213.94" x2="367.73" y2="213.94" stroke="#444" stroke-width="0.5"/>
<rect x="368.15" y="218.15" width="2.80" height="14.45" fill="#1a4f85"/>
<line x1="369.55" y1="216.95" x2="369.55" y2="218.15" stroke="#444" stroke-width="0.5"/>
<line x1="368.57" y1="216.95" x2="370.53" y2="216.95" stroke="#444" stroke-width="0.5"/>
<rect x="370.95" y="190.46" width="2.80" height="42.14" fill="#3cb54a"/>
<line x1="372.35" y1="189.26" x2="372.35" y2="190.46" stroke="#444" stroke-width="0.5"/>
<line x1="371.37" y1="189.26" x2="373.33" y2="189.26" stroke="#444" stroke-width="0.5"/>
<line x1="369.55" y1="232.60" x2="369.55" y2="235.20" stroke="#231f20" stroke-width="1.1"/>
<text x="369.55" y="244.80" font-size="8.2" text-anchor="middle" fill="#231f20" color="#231f20">8</text>
<line x1="333.70" y1="232.60" x2="374.70" y2="232.60" stroke="#231f20" stroke-width="1.3"/>
<ellipse cx="341.60" cy="210.25" rx="1.15" ry="0.92" fill="#231f20"/>
<ellipse cx="351.85" cy="202.42" rx="1.15" ry="0.92" fill="#231f20"/>
<ellipse cx="362.10" cy="186.99" rx="1.15" ry="0.92" fill="#231f20"/>
<ellipse cx="362.10" cy="190.19" rx="1.15" ry="0.92" fill="#231f20"/>
<ellipse cx="362.10" cy="193.39" rx="1.15" ry="0.92" fill="#231f20"/>
<ellipse cx="372.35" cy="177.96" rx="1.15" ry="0.92" fill="#231f20"/>
<ellipse cx="372.35" cy="181.16" rx="1.15" ry="0.92" fill="#231f20"/>
<ellipse cx="372.35" cy="184.36" rx="1.15" ry="0.92" fill="#231f20"/>
<text x="412.00" y="157.90" font-size="10.5" text-anchor="start" fill="#231f20" color="#231f20" textLength="18.50" lengthAdjust="spacingAndGlyphs">RG2</text>
<line x1="401.20" y1="168.80" x2="401.20" y2="233.10" stroke="#231f20" stroke-width="1.3"/>
<line x1="398.00" y1="232.60" x2="401.20" y2="232.60" stroke="#231f20" stroke-width="1.0"/>
<text x="395.00" y="235.90" font-size="8.6" text-anchor="end" fill="#231f20" color="#231f20" textLength="4.60" lengthAdjust="spacingAndGlyphs">0</text>
<line x1="398.00" y1="220.56" x2="401.20" y2="220.56" stroke="#231f20" stroke-width="1.0"/>
<text x="395.00" y="223.86" font-size="8.6" text-anchor="end" fill="#231f20" color="#231f20" textLength="8.40" lengthAdjust="spacingAndGlyphs">20</text>
<line x1="398.00" y1="208.52" x2="401.20" y2="208.52" stroke="#231f20" stroke-width="1.0"/>
<text x="395.00" y="211.82" font-size="8.6" text-anchor="end" fill="#231f20" color="#231f20" textLength="8.40" lengthAdjust="spacingAndGlyphs">40</text>
<line x1="398.00" y1="196.48" x2="401.20" y2="196.48" stroke="#231f20" stroke-width="1.0"/>
<text x="395.00" y="199.78" font-size="8.6" text-anchor="end" fill="#231f20" color="#231f20" textLength="8.40" lengthAdjust="spacingAndGlyphs">60</text>
<line x1="398.00" y1="184.44" x2="401.20" y2="184.44" stroke="#231f20" stroke-width="1.0"/>
<text x="395.00" y="187.74" font-size="8.6" text-anchor="end" fill="#231f20" color="#231f20" textLength="8.40" lengthAdjust="spacingAndGlyphs">80</text>
<line x1="398.00" y1="172.40" x2="401.20" y2="172.40" stroke="#231f20" stroke-width="1.0"/>
<text x="395.00" y="175.70" font-size="8.6" text-anchor="end" fill="#231f20" color="#231f20" textLength="12.60" lengthAdjust="spacingAndGlyphs">100</text>
<rect x="401.60" y="227.78" width="2.80" height="4.82" fill="#c8163a"/>
<line x1="403.00" y1="226.58" x2="403.00" y2="227.78" stroke="#444" stroke-width="0.5"/>
<line x1="402.02" y1="226.58" x2="403.98" y2="226.58" stroke="#444" stroke-width="0.5"/>
<rect x="404.40" y="224.77" width="2.80" height="7.83" fill="#1a4f85"/>
<line x1="405.80" y1="223.57" x2="405.80" y2="224.77" stroke="#444" stroke-width="0.5"/>
<line x1="404.82" y1="223.57" x2="406.78" y2="223.57" stroke="#444" stroke-width="0.5"/>
<rect x="407.20" y="215.74" width="2.80" height="16.86" fill="#3cb54a"/>
<line x1="408.60" y1="214.54" x2="408.60" y2="215.74" stroke="#444" stroke-width="0.5"/>
<line x1="407.62" y1="214.54" x2="409.58" y2="214.54" stroke="#444" stroke-width="0.5"/>
<line x1="405.80" y1="232.60" x2="405.80" y2="235.20" stroke="#231f20" stroke-width="1.1"/>
<text x="405.80" y="244.80" font-size="8.2" text-anchor="middle" fill="#231f20" color="#231f20">2</text>
<rect x="411.85" y="227.78" width="2.80" height="4.82" fill="#c8163a"/>
<line x1="413.25" y1="226.58" x2="413.25" y2="227.78" stroke="#444" stroke-width="0.5"/>
<line x1="412.27" y1="226.58" x2="414.23" y2="226.58" stroke="#444" stroke-width="0.5"/>
<rect x="414.65" y="221.76" width="2.80" height="10.84" fill="#1a4f85"/>
<line x1="416.05" y1="220.56" x2="416.05" y2="221.76" stroke="#444" stroke-width="0.5"/>
<line x1="415.07" y1="220.56" x2="417.03" y2="220.56" stroke="#444" stroke-width="0.5"/>
<rect x="417.45" y="205.51" width="2.80" height="27.09" fill="#3cb54a"/>
<line x1="418.85" y1="204.31" x2="418.85" y2="205.51" stroke="#444" stroke-width="0.5"/>
<line x1="417.87" y1="204.31" x2="419.83" y2="204.31" stroke="#444" stroke-width="0.5"/>
<line x1="416.05" y1="232.60" x2="416.05" y2="235.20" stroke="#231f20" stroke-width="1.1"/>
<text x="416.05" y="244.80" font-size="8.2" text-anchor="middle" fill="#231f20" color="#231f20">4</text>
<rect x="422.10" y="228.39" width="2.80" height="4.21" fill="#c8163a"/>
<line x1="423.50" y1="227.19" x2="423.50" y2="228.39" stroke="#444" stroke-width="0.5"/>
<line x1="422.52" y1="227.19" x2="424.48" y2="227.19" stroke="#444" stroke-width="0.5"/>
<rect x="424.90" y="221.76" width="2.80" height="10.84" fill="#1a4f85"/>
<line x1="426.30" y1="220.56" x2="426.30" y2="221.76" stroke="#444" stroke-width="0.5"/>
<line x1="425.32" y1="220.56" x2="427.28" y2="220.56" stroke="#444" stroke-width="0.5"/>
<rect x="427.70" y="198.89" width="2.80" height="33.71" fill="#3cb54a"/>
<line x1="429.10" y1="197.69" x2="429.10" y2="198.89" stroke="#444" stroke-width="0.5"/>
<line x1="428.12" y1="197.69" x2="430.08" y2="197.69" stroke="#444" stroke-width="0.5"/>
<line x1="426.30" y1="232.60" x2="426.30" y2="235.20" stroke="#231f20" stroke-width="1.1"/>
<text x="426.30" y="244.80" font-size="8.2" text-anchor="middle" fill="#231f20" color="#231f20">6</text>
<rect x="432.35" y="229.59" width="2.80" height="3.01" fill="#c8163a"/>
<line x1="433.75" y1="228.39" x2="433.75" y2="229.59" stroke="#444" stroke-width="0.5"/>
<line x1="432.77" y1="228.39" x2="434.73" y2="228.39" stroke="#444" stroke-width="0.5"/>
<rect x="435.15" y="221.16" width="2.80" height="11.44" fill="#1a4f85"/>
<line x1="436.55" y1="219.96" x2="436.55" y2="221.16" stroke="#444" stroke-width="0.5"/>
<line x1="435.57" y1="219.96" x2="437.53" y2="219.96" stroke="#444" stroke-width="0.5"/>
<rect x="437.95" y="189.26" width="2.80" height="43.34" fill="#3cb54a"/>
<line x1="439.35" y1="188.06" x2="439.35" y2="189.26" stroke="#444" stroke-width="0.5"/>
<line x1="438.37" y1="188.06" x2="440.33" y2="188.06" stroke="#444" stroke-width="0.5"/>
<line x1="436.55" y1="232.60" x2="436.55" y2="235.20" stroke="#231f20" stroke-width="1.1"/>
<text x="436.55" y="244.80" font-size="8.2" text-anchor="middle" fill="#231f20" color="#231f20">8</text>
<line x1="400.70" y1="232.60" x2="441.70" y2="232.60" stroke="#231f20" stroke-width="1.3"/>
<ellipse cx="408.60" cy="206.44" rx="1.15" ry="0.92" fill="#231f20"/>
<ellipse cx="408.60" cy="209.64" rx="1.15" ry="0.92" fill="#231f20"/>
<ellipse cx="418.85" cy="193.01" rx="1.15" ry="0.92" fill="#231f20"/>
<ellipse cx="418.85" cy="196.21" rx="1.15" ry="0.92" fill="#231f20"/>
<ellipse cx="418.85" cy="199.41" rx="1.15" ry="0.92" fill="#231f20"/>
<ellipse cx="429.10" cy="186.39" rx="1.15" ry="0.92" fill="#231f20"/>
<ellipse cx="429.10" cy="189.59" rx="1.15" ry="0.92" fill="#231f20"/>
<ellipse cx="429.10" cy="192.79" rx="1.15" ry="0.92" fill="#231f20"/>
<ellipse cx="439.35" cy="176.76" rx="1.15" ry="0.92" fill="#231f20"/>
<ellipse cx="439.35" cy="179.96" rx="1.15" ry="0.92" fill="#231f20"/>
<ellipse cx="439.35" cy="183.16" rx="1.15" ry="0.92" fill="#231f20"/>
<text x="478.80" y="157.90" font-size="10.5" text-anchor="start" fill="#231f20" color="#231f20" textLength="18.50" lengthAdjust="spacingAndGlyphs">RG3</text>
<line x1="468.40" y1="168.80" x2="468.40" y2="232.90" stroke="#231f20" stroke-width="1.3"/>
<line x1="465.20" y1="232.40" x2="468.40" y2="232.40" stroke="#231f20" stroke-width="1.0"/>
<text x="462.20" y="235.70" font-size="8.6" text-anchor="end" fill="#231f20" color="#231f20" textLength="4.60" lengthAdjust="spacingAndGlyphs">0</text>
<line x1="465.20" y1="220.38" x2="468.40" y2="220.38" stroke="#231f20" stroke-width="1.0"/>
<text x="462.20" y="223.68" font-size="8.6" text-anchor="end" fill="#231f20" color="#231f20" textLength="8.40" lengthAdjust="spacingAndGlyphs">20</text>
<line x1="465.20" y1="208.36" x2="468.40" y2="208.36" stroke="#231f20" stroke-width="1.0"/>
<text x="462.20" y="211.66" font-size="8.6" text-anchor="end" fill="#231f20" color="#231f20" textLength="8.40" lengthAdjust="spacingAndGlyphs">40</text>
<line x1="465.20" y1="196.34" x2="468.40" y2="196.34" stroke="#231f20" stroke-width="1.0"/>
<text x="462.20" y="199.64" font-size="8.6" text-anchor="end" fill="#231f20" color="#231f20" textLength="8.40" lengthAdjust="spacingAndGlyphs">60</text>
<line x1="465.20" y1="184.32" x2="468.40" y2="184.32" stroke="#231f20" stroke-width="1.0"/>
<text x="462.20" y="187.62" font-size="8.6" text-anchor="end" fill="#231f20" color="#231f20" textLength="8.40" lengthAdjust="spacingAndGlyphs">80</text>
<line x1="465.20" y1="172.30" x2="468.40" y2="172.30" stroke="#231f20" stroke-width="1.0"/>
<text x="462.20" y="175.60" font-size="8.6" text-anchor="end" fill="#231f20" color="#231f20" textLength="12.60" lengthAdjust="spacingAndGlyphs">100</text>
<rect x="468.80" y="225.19" width="2.80" height="7.21" fill="#c8163a"/>
<line x1="470.20" y1="223.99" x2="470.20" y2="225.19" stroke="#444" stroke-width="0.5"/>
<line x1="469.22" y1="223.99" x2="471.18" y2="223.99" stroke="#444" stroke-width="0.5"/>
<rect x="471.60" y="222.78" width="2.80" height="9.62" fill="#1a4f85"/>
<line x1="473.00" y1="221.58" x2="473.00" y2="222.78" stroke="#444" stroke-width="0.5"/>
<line x1="472.02" y1="221.58" x2="473.98" y2="221.58" stroke="#444" stroke-width="0.5"/>
<rect x="474.40" y="213.77" width="2.80" height="18.63" fill="#3cb54a"/>
<line x1="475.80" y1="212.57" x2="475.80" y2="213.77" stroke="#444" stroke-width="0.5"/>
<line x1="474.82" y1="212.57" x2="476.78" y2="212.57" stroke="#444" stroke-width="0.5"/>
<line x1="473.00" y1="232.40" x2="473.00" y2="235.00" stroke="#231f20" stroke-width="1.1"/>
<text x="473.00" y="244.80" font-size="8.2" text-anchor="middle" fill="#231f20" color="#231f20">2</text>
<rect x="479.05" y="224.59" width="2.80" height="7.81" fill="#c8163a"/>
<line x1="480.45" y1="223.39" x2="480.45" y2="224.59" stroke="#444" stroke-width="0.5"/>
<line x1="479.47" y1="223.39" x2="481.43" y2="223.39" stroke="#444" stroke-width="0.5"/>
<rect x="481.85" y="220.98" width="2.80" height="11.42" fill="#1a4f85"/>
<line x1="483.25" y1="219.78" x2="483.25" y2="220.98" stroke="#444" stroke-width="0.5"/>
<line x1="482.27" y1="219.78" x2="484.23" y2="219.78" stroke="#444" stroke-width="0.5"/>
<rect x="484.65" y="196.94" width="2.80" height="35.46" fill="#3cb54a"/>
<line x1="486.05" y1="195.74" x2="486.05" y2="196.94" stroke="#444" stroke-width="0.5"/>
<line x1="485.07" y1="195.74" x2="487.03" y2="195.74" stroke="#444" stroke-width="0.5"/>
<line x1="483.25" y1="232.40" x2="483.25" y2="235.00" stroke="#231f20" stroke-width="1.1"/>
<text x="483.25" y="244.80" font-size="8.2" text-anchor="middle" fill="#231f20" color="#231f20">4</text>
<rect x="489.30" y="224.59" width="2.80" height="7.81" fill="#c8163a"/>
<line x1="490.70" y1="223.39" x2="490.70" y2="224.59" stroke="#444" stroke-width="0.5"/>
<line x1="489.72" y1="223.39" x2="491.68" y2="223.39" stroke="#444" stroke-width="0.5"/>
<rect x="492.10" y="222.18" width="2.80" height="10.22" fill="#1a4f85"/>
<line x1="493.50" y1="220.98" x2="493.50" y2="222.18" stroke="#444" stroke-width="0.5"/>
<line x1="492.52" y1="220.98" x2="494.48" y2="220.98" stroke="#444" stroke-width="0.5"/>
<rect x="494.90" y="189.73" width="2.80" height="42.67" fill="#3cb54a"/>
<line x1="496.30" y1="188.53" x2="496.30" y2="189.73" stroke="#444" stroke-width="0.5"/>
<line x1="495.32" y1="188.53" x2="497.28" y2="188.53" stroke="#444" stroke-width="0.5"/>
<line x1="493.50" y1="232.40" x2="493.50" y2="235.00" stroke="#231f20" stroke-width="1.1"/>
<text x="493.50" y="244.80" font-size="8.2" text-anchor="middle" fill="#231f20" color="#231f20">6</text>
<rect x="499.55" y="224.59" width="2.80" height="7.81" fill="#c8163a"/>
<line x1="500.95" y1="223.39" x2="500.95" y2="224.59" stroke="#444" stroke-width="0.5"/>
<line x1="499.97" y1="223.39" x2="501.93" y2="223.39" stroke="#444" stroke-width="0.5"/>
<rect x="502.35" y="221.58" width="2.80" height="10.82" fill="#1a4f85"/>
<line x1="503.75" y1="220.38" x2="503.75" y2="221.58" stroke="#444" stroke-width="0.5"/>
<line x1="502.77" y1="220.38" x2="504.73" y2="220.38" stroke="#444" stroke-width="0.5"/>
<rect x="505.15" y="186.12" width="2.80" height="46.28" fill="#3cb54a"/>
<line x1="506.55" y1="184.92" x2="506.55" y2="186.12" stroke="#444" stroke-width="0.5"/>
<line x1="505.57" y1="184.92" x2="507.53" y2="184.92" stroke="#444" stroke-width="0.5"/>
<line x1="503.75" y1="232.40" x2="503.75" y2="235.00" stroke="#231f20" stroke-width="1.1"/>
<text x="503.75" y="244.80" font-size="8.2" text-anchor="middle" fill="#231f20" color="#231f20">8</text>
<line x1="467.90" y1="232.40" x2="508.90" y2="232.40" stroke="#231f20" stroke-width="1.3"/>
<ellipse cx="475.80" cy="204.47" rx="1.15" ry="0.92" fill="#231f20"/>
<ellipse cx="475.80" cy="207.67" rx="1.15" ry="0.92" fill="#231f20"/>
<ellipse cx="486.05" cy="184.44" rx="1.15" ry="0.92" fill="#231f20"/>
<ellipse cx="486.05" cy="187.64" rx="1.15" ry="0.92" fill="#231f20"/>
<ellipse cx="486.05" cy="190.84" rx="1.15" ry="0.92" fill="#231f20"/>
<ellipse cx="496.30" cy="177.23" rx="1.15" ry="0.92" fill="#231f20"/>
<ellipse cx="496.30" cy="180.43" rx="1.15" ry="0.92" fill="#231f20"/>
<ellipse cx="496.30" cy="183.63" rx="1.15" ry="0.92" fill="#231f20"/>
<ellipse cx="506.55" cy="173.62" rx="1.15" ry="0.92" fill="#231f20"/>
<ellipse cx="506.55" cy="176.82" rx="1.15" ry="0.92" fill="#231f20"/>
<ellipse cx="506.55" cy="180.02" rx="1.15" ry="0.92" fill="#231f20"/>
<text x="13.60" y="200.60" font-size="9.6" text-anchor="middle" fill="#231f20" color="#231f20" textLength="40.00" lengthAdjust="spacingAndGlyphs" transform="rotate(-90 13.60 200.60)">%PI positive</text>
<text x="6.20" y="244.30" font-size="8.6" text-anchor="start" fill="#231f20" color="#231f20" textLength="13.50" lengthAdjust="spacingAndGlyphs">Day</text>
<text x="312.30" y="200.50" font-size="9.6" text-anchor="middle" fill="#231f20" color="#231f20" textLength="40.00" lengthAdjust="spacingAndGlyphs" transform="rotate(-90 312.30 200.50)">%PI positive</text>
<text x="305.60" y="244.60" font-size="8.6" text-anchor="start" fill="#231f20" color="#231f20" textLength="13.70" lengthAdjust="spacingAndGlyphs">Day</text>
<text x="7.20" y="267.20" font-size="12" text-anchor="start" fill="#000" color="#000" font-weight="bold">C</text>
<text x="58.80" y="273.00" font-size="8.4" text-anchor="middle" fill="#231f20" color="#231f20">P</text>
<line x1="43.70" y1="276.20" x2="74.10" y2="276.20" stroke="#4a4a4a" stroke-width="1.3"/>
<text x="95.40" y="273.00" font-size="8.4" text-anchor="middle" fill="#231f20" color="#231f20">RG1</text>
<line x1="80.70" y1="276.20" x2="111.70" y2="276.20" stroke="#4a4a4a" stroke-width="1.3"/>
<text x="133.00" y="273.00" font-size="8.4" text-anchor="middle" fill="#231f20" color="#231f20">RG2</text>
<line x1="118.20" y1="276.20" x2="149.30" y2="276.20" stroke="#4a4a4a" stroke-width="1.3"/>
<text x="171.20" y="273.00" font-size="8.4" text-anchor="middle" fill="#231f20" color="#231f20">RG3</text>
<line x1="155.80" y1="276.20" x2="186.90" y2="276.20" stroke="#4a4a4a" stroke-width="1.3"/>
<text x="48.10" y="302.30" font-size="9.0" text-anchor="start" fill="#231f20" color="#231f20" textLength="23.00" lengthAdjust="spacingAndGlyphs" transform="rotate(-90 48.10 302.30)">DMSO</text>
<text x="61.22" y="302.30" font-size="9.0" text-anchor="start" fill="#231f20" color="#231f20" textLength="12.30" lengthAdjust="spacingAndGlyphs" transform="rotate(-90 61.22 302.30)">24h</text>
<text x="73.94" y="302.30" font-size="9.0" text-anchor="start" fill="#231f20" color="#231f20" textLength="12.30" lengthAdjust="spacingAndGlyphs" transform="rotate(-90 73.94 302.30)">72h</text>
<text x="64.38" y="286.80" font-size="7.8" text-anchor="middle" fill="#cc2244" color="#cc2244" textLength="12.30" lengthAdjust="spacingAndGlyphs" style="stroke-width:0.3px">Len</text>
<text x="86.26" y="302.30" font-size="9.0" text-anchor="start" fill="#231f20" color="#231f20" textLength="23.00" lengthAdjust="spacingAndGlyphs" transform="rotate(-90 86.26 302.30)">DMSO</text>
<text x="99.38" y="302.30" font-size="9.0" text-anchor="start" fill="#231f20" color="#231f20" textLength="12.30" lengthAdjust="spacingAndGlyphs" transform="rotate(-90 99.38 302.30)">24h</text>
<text x="112.10" y="302.30" font-size="9.0" text-anchor="start" fill="#231f20" color="#231f20" textLength="12.30" lengthAdjust="spacingAndGlyphs" transform="rotate(-90 112.10 302.30)">72h</text>
<text x="102.54" y="286.80" font-size="7.8" text-anchor="middle" fill="#cc2244" color="#cc2244" textLength="12.30" lengthAdjust="spacingAndGlyphs" style="stroke-width:0.3px">Len</text>
<text x="124.42" y="302.30" font-size="9.0" text-anchor="start" fill="#231f20" color="#231f20" textLength="23.00" lengthAdjust="spacingAndGlyphs" transform="rotate(-90 124.42 302.30)">DMSO</text>
<text x="137.54" y="302.30" font-size="9.0" text-anchor="start" fill="#231f20" color="#231f20" textLength="12.30" lengthAdjust="spacingAndGlyphs" transform="rotate(-90 137.54 302.30)">24h</text>
<text x="150.26" y="302.30" font-size="9.0" text-anchor="start" fill="#231f20" color="#231f20" textLength="12.30" lengthAdjust="spacingAndGlyphs" transform="rotate(-90 150.26 302.30)">72h</text>
<text x="140.70" y="286.80" font-size="7.8" text-anchor="middle" fill="#cc2244" color="#cc2244" textLength="12.30" lengthAdjust="spacingAndGlyphs" style="stroke-width:0.3px">Len</text>
<text x="162.58" y="302.30" font-size="9.0" text-anchor="start" fill="#231f20" color="#231f20" textLength="23.00" lengthAdjust="spacingAndGlyphs" transform="rotate(-90 162.58 302.30)">DMSO</text>
<text x="175.70" y="302.30" font-size="9.0" text-anchor="start" fill="#231f20" color="#231f20" textLength="12.30" lengthAdjust="spacingAndGlyphs" transform="rotate(-90 175.70 302.30)">24h</text>
<text x="188.42" y="302.30" font-size="9.0" text-anchor="start" fill="#231f20" color="#231f20" textLength="12.30" lengthAdjust="spacingAndGlyphs" transform="rotate(-90 188.42 302.30)">72h</text>
<text x="178.86" y="286.80" font-size="7.8" text-anchor="middle" fill="#cc2244" color="#cc2244" textLength="12.30" lengthAdjust="spacingAndGlyphs" style="stroke-width:0.3px">Len</text>
<rect x="37.50" y="306.20" width="153.60" height="23.20" fill="#e2e2e2" stroke="#1a1a1a" stroke-width="1.1"/>
<rect x="37.50" y="333.60" width="153.60" height="16.40" fill="#e2e2e2" stroke="#1a1a1a" stroke-width="1.1"/>
<rect x="39.70" y="310.80" width="10.00" height="3.60" rx="1.80" fill="rgb(55,55,55)" filter="url(#bl)"/>
<rect x="39.70" y="322.10" width="10.00" height="3.80" rx="1.90" fill="rgb(26,26,26)" filter="url(#bl)"/>
<rect x="39.20" y="340.10" width="11.00" height="3.80" rx="1.90" fill="rgb(32,32,32)" filter="url(#bl)"/>
<rect x="52.42" y="311.10" width="10.00" height="3.00" rx="1.50" fill="rgb(200,200,200)" filter="url(#bl)"/>
<rect x="52.42" y="322.50" width="10.00" height="3.00" rx="1.50" fill="rgb(82,82,82)" filter="url(#bl)"/>
<rect x="51.92" y="340.10" width="11.00" height="3.80" rx="1.90" fill="rgb(32,32,32)" filter="url(#bl)"/>
<rect x="65.14" y="311.10" width="10.00" height="3.00" rx="1.50" fill="rgb(217,217,217)" filter="url(#bl)"/>
<rect x="65.14" y="322.50" width="10.00" height="3.00" rx="1.50" fill="rgb(144,144,144)" filter="url(#bl)"/>
<rect x="64.64" y="340.10" width="11.00" height="3.80" rx="1.90" fill="rgb(32,32,32)" filter="url(#bl)"/>
<rect x="77.86" y="310.10" width="10.00" height="5.00" rx="2.50" fill="rgb(12,12,12)" filter="url(#bl)"/>
<rect x="77.86" y="322.10" width="10.00" height="3.80" rx="1.90" fill="rgb(12,12,12)" filter="url(#bl)"/>
<rect x="77.36" y="340.10" width="11.00" height="3.80" rx="1.90" fill="rgb(32,32,32)" filter="url(#bl)"/>
<rect x="90.58" y="311.10" width="10.00" height="3.00" rx="1.50" fill="rgb(203,203,203)" filter="url(#bl)"/>
<rect x="90.58" y="322.50" width="10.00" height="3.00" rx="1.50" fill="rgb(144,144,144)" filter="url(#bl)"/>
<rect x="90.08" y="340.10" width="11.00" height="3.80" rx="1.90" fill="rgb(32,32,32)" filter="url(#bl)"/>
<rect x="103.30" y="311.10" width="10.00" height="3.00" rx="1.50" fill="rgb(215,215,215)" filter="url(#bl)"/>
<rect x="103.30" y="322.50" width="10.00" height="3.00" rx="1.50" fill="rgb(162,162,162)" filter="url(#bl)"/>
<rect x="102.80" y="340.10" width="11.00" height="3.80" rx="1.90" fill="rgb(32,32,32)" filter="url(#bl)"/>
<rect x="116.02" y="310.80" width="10.00" height="3.60" rx="1.80" fill="rgb(26,26,26)" filter="url(#bl)"/>
<rect x="116.02" y="322.10" width="10.00" height="3.80" rx="1.90" fill="rgb(26,26,26)" filter="url(#bl)"/>
<rect x="115.52" y="340.10" width="11.00" height="3.80" rx="1.90" fill="rgb(32,32,32)" filter="url(#bl)"/>
<rect x="128.74" y="311.10" width="10.00" height="3.00" rx="1.50" fill="rgb(189,189,189)" filter="url(#bl)"/>
<rect x="128.74" y="322.50" width="10.00" height="3.00" rx="1.50" fill="rgb(133,133,133)" filter="url(#bl)"/>
<rect x="128.24" y="340.10" width="11.00" height="3.80" rx="1.90" fill="rgb(32,32,32)" filter="url(#bl)"/>
<rect x="141.46" y="311.10" width="10.00" height="3.00" rx="1.50" fill="rgb(219,219,219)" filter="url(#bl)"/>
<rect x="141.46" y="322.50" width="10.00" height="3.00" rx="1.50" fill="rgb(186,186,186)" filter="url(#bl)"/>
<rect x="140.96" y="340.10" width="11.00" height="3.80" rx="1.90" fill="rgb(32,32,32)" filter="url(#bl)"/>
<rect x="154.18" y="311.10" width="10.00" height="3.00" rx="1.50" fill="rgb(108,108,108)" filter="url(#bl)"/>
<rect x="154.18" y="322.50" width="10.00" height="3.00" rx="1.50" fill="rgb(96,96,96)" filter="url(#bl)"/>
<rect x="153.68" y="340.10" width="11.00" height="3.80" rx="1.90" fill="rgb(32,32,32)" filter="url(#bl)"/>
<rect x="166.90" y="311.10" width="10.00" height="3.00" rx="1.50" fill="rgb(144,144,144)" filter="url(#bl)"/>
<rect x="166.90" y="322.50" width="10.00" height="3.00" rx="1.50" fill="rgb(69,69,69)" filter="url(#bl)"/>
<rect x="166.40" y="340.10" width="11.00" height="3.80" rx="1.90" fill="rgb(32,32,32)" filter="url(#bl)"/>
<rect x="179.62" y="311.10" width="10.00" height="3.00" rx="1.50" fill="rgb(219,219,219)" filter="url(#bl)"/>
<rect x="179.62" y="322.50" width="10.00" height="3.00" rx="1.50" fill="rgb(186,186,186)" filter="url(#bl)"/>
<rect x="179.12" y="340.10" width="11.00" height="3.80" rx="1.90" fill="rgb(32,32,32)" filter="url(#bl)"/>
<text x="7.00" y="320.80" font-size="8.4" text-anchor="start" fill="#231f20" color="#231f20" textLength="19.20" lengthAdjust="spacingAndGlyphs">IKZF1</text>
<text x="7.00" y="345.40" font-size="8.4" text-anchor="start" fill="#231f20" color="#231f20" textLength="26.70" lengthAdjust="spacingAndGlyphs">GAPDH</text>
<text x="7.60" y="370.50" font-size="12" text-anchor="start" fill="#000" color="#000" font-weight="bold">D</text>
<text x="7.70" y="382.90" font-size="8.8" text-anchor="start" fill="#231f20" color="#231f20" textLength="13.80" lengthAdjust="spacingAndGlyphs">Dox</text>
<text x="7.70" y="391.60" font-size="8.8" text-anchor="start" fill="#231f20" color="#231f20" textLength="29.30" lengthAdjust="spacingAndGlyphs">(1ug/ml)</text>
<text x="58.70" y="377.90" font-size="8.6" text-anchor="middle" fill="#231f20" color="#231f20">P</text>
<line x1="43.50" y1="380.20" x2="74.00" y2="380.20" stroke="#4a4a4a" stroke-width="1.3"/>
<text x="95.00" y="377.90" font-size="8.6" text-anchor="middle" fill="#231f20" color="#231f20">RG1</text>
<line x1="80.30" y1="380.20" x2="110.60" y2="380.20" stroke="#4a4a4a" stroke-width="1.3"/>
<text x="133.10" y="377.90" font-size="8.6" text-anchor="middle" fill="#231f20" color="#231f20">RG2</text>
<line x1="117.70" y1="380.20" x2="148.20" y2="380.20" stroke="#4a4a4a" stroke-width="1.3"/>
<text x="170.80" y="377.90" font-size="8.6" text-anchor="middle" fill="#231f20" color="#231f20">RG3</text>
<line x1="155.40" y1="380.20" x2="185.80" y2="380.20" stroke="#4a4a4a" stroke-width="1.3"/>
<text x="48.60" y="391.50" font-size="8.2" text-anchor="middle" fill="#231f20" color="#231f20">–</text>
<text x="67.50" y="391.50" font-size="8.2" text-anchor="middle" fill="#231f20" color="#231f20">+</text>
<text x="86.40" y="391.50" font-size="8.2" text-anchor="middle" fill="#231f20" color="#231f20">–</text>
<text x="105.30" y="391.50" font-size="8.2" text-anchor="middle" fill="#231f20" color="#231f20">+</text>
<text x="124.20" y="391.50" font-size="8.2" text-anchor="middle" fill="#231f20" color="#231f20">–</text>
<text x="143.10" y="391.50" font-size="8.2" text-anchor="middle" fill="#231f20" color="#231f20">+</text>
<text x="162.00" y="391.50" font-size="8.2" text-anchor="middle" fill="#231f20" color="#231f20">–</text>
<text x="180.90" y="391.50" font-size="8.2" text-anchor="middle" fill="#231f20" color="#231f20">+</text>
<rect x="37.50" y="395.60" width="151.70" height="26.20" fill="#e8e8e8" stroke="#1a1a1a" stroke-width="1.1"/>
<rect x="37.50" y="426.00" width="151.70" height="18.20" fill="#e8e8e8" stroke="#1a1a1a" stroke-width="1.1"/>
<rect x="40.85" y="402.60" width="13.50" height="3.40" rx="1.70" fill="rgb(30,30,30)" filter="url(#bl)"/>
<rect x="41.35" y="412.50" width="12.50" height="3.00" rx="1.50" fill="rgb(98,98,98)" filter="url(#bl)"/>
<rect x="39.85" y="431.40" width="15.50" height="4.80" rx="2.40" fill="rgb(21,21,21)" filter="url(#bl)"/>
<rect x="59.75" y="402.60" width="13.50" height="3.40" rx="1.70" fill="rgb(191,191,191)" filter="url(#bl)"/>
<rect x="60.25" y="412.50" width="12.50" height="3.00" rx="1.50" fill="rgb(223,223,223)" filter="url(#bl)"/>
<rect x="58.75" y="431.40" width="15.50" height="4.80" rx="2.40" fill="rgb(21,21,21)" filter="url(#bl)"/>
<rect x="78.15" y="400.80" width="14.50" height="7.00" rx="3.50" fill="rgb(12,12,12)" filter="url(#bl)"/>
<rect x="78.40" y="411.20" width="14.00" height="5.60" rx="2.80" fill="rgb(12,12,12)" filter="url(#bl)"/>
<rect x="77.65" y="431.40" width="15.50" height="4.80" rx="2.40" fill="rgb(21,21,21)" filter="url(#bl)"/>
<rect x="97.55" y="402.60" width="13.50" height="3.40" rx="1.70" fill="rgb(229,229,229)" filter="url(#bl)"/>
<rect x="96.55" y="431.40" width="15.50" height="4.80" rx="2.40" fill="rgb(21,21,21)" filter="url(#bl)"/>
<rect x="115.95" y="400.80" width="14.50" height="7.00" rx="3.50" fill="rgb(12,12,12)" filter="url(#bl)"/>
<rect x="116.20" y="411.20" width="14.00" height="5.60" rx="2.80" fill="rgb(12,12,12)" filter="url(#bl)"/>
<rect x="115.45" y="431.40" width="15.50" height="4.80" rx="2.40" fill="rgb(21,21,21)" filter="url(#bl)"/>
<rect x="135.35" y="402.60" width="13.50" height="3.40" rx="1.70" fill="rgb(205,205,205)" filter="url(#bl)"/>
<rect x="135.85" y="412.50" width="12.50" height="3.00" rx="1.50" fill="rgb(223,223,223)" filter="url(#bl)"/>
<rect x="134.35" y="431.40" width="15.50" height="4.80" rx="2.40" fill="rgb(21,21,21)" filter="url(#bl)"/>
<rect x="153.75" y="400.80" width="14.50" height="7.00" rx="3.50" fill="rgb(12,12,12)" filter="url(#bl)"/>
<rect x="154.00" y="411.20" width="14.00" height="5.60" rx="2.80" fill="rgb(12,12,12)" filter="url(#bl)"/>
<rect x="153.25" y="431.40" width="15.50" height="4.80" rx="2.40" fill="rgb(21,21,21)" filter="url(#bl)"/>
<rect x="173.15" y="402.60" width="13.50" height="3.40" rx="1.70" fill="rgb(194,194,194)" filter="url(#bl)"/>
<rect x="173.65" y="412.50" width="12.50" height="3.00" rx="1.50" fill="rgb(220,220,220)" filter="url(#bl)"/>
<rect x="172.15" y="431.40" width="15.50" height="4.80" rx="2.40" fill="rgb(21,21,21)" filter="url(#bl)"/>
<text x="7.70" y="412.10" font-size="9.2" text-anchor="start" fill="#231f20" color="#231f20" textLength="19.20" lengthAdjust="spacingAndGlyphs">IKZF1</text>
<text x="7.70" y="437.90" font-size="9.2" text-anchor="start" fill="#231f20" color="#231f20" textLength="27.90" lengthAdjust="spacingAndGlyphs">GAPDH</text>
<text x="199.30" y="266.60" font-size="12" text-anchor="start" fill="#000" color="#000" font-weight="bold">E</text>
<text x="293.80" y="267.00" font-size="10.5" text-anchor="start" fill="#231f20" color="#231f20" textLength="98.50" lengthAdjust="spacingAndGlyphs">Dox-induced IKZF1-KO</text>
<line x1="229.50" y1="270.00" x2="457.50" y2="270.00" stroke="#5a5a5a" stroke-width="1.5"/>
<text x="206.50" y="318.80" font-size="10.4" text-anchor="middle" fill="#231f20" color="#231f20" textLength="32.50" lengthAdjust="spacingAndGlyphs" transform="rotate(-90 206.50 318.80)">Cell count</text>
<text x="202.50" y="362.40" font-size="8.6" text-anchor="start" fill="#231f20" color="#231f20" textLength="14.50" lengthAdjust="spacingAndGlyphs">Day</text>
<text x="247.70" y="283.10" font-size="10.5" text-anchor="middle" fill="#231f20" color="#231f20">P</text>
<line x1="226.90" y1="285.00" x2="226.90" y2="350.80" stroke="#231f20" stroke-width="1.25"/>
<line x1="223.60" y1="350.30" x2="226.90" y2="350.30" stroke="#231f20" stroke-width="1.0"/>
<text x="221.00" y="350.00" font-size="6.0" text-anchor="end" fill="#231f20" color="#231f20">4</text>
<text x="217.90" y="354.10" font-size="8.6" text-anchor="end" fill="#231f20" color="#231f20" textLength="8.10" lengthAdjust="spacingAndGlyphs">10</text>
<line x1="224.10" y1="345.82" x2="226.90" y2="345.82" stroke="#231f20" stroke-width="0.85"/>
<line x1="224.10" y1="343.20" x2="226.90" y2="343.20" stroke="#231f20" stroke-width="0.85"/>
<line x1="224.10" y1="341.34" x2="226.90" y2="341.34" stroke="#231f20" stroke-width="0.85"/>
<line x1="224.10" y1="339.90" x2="226.90" y2="339.90" stroke="#231f20" stroke-width="0.85"/>
<line x1="224.10" y1="338.73" x2="226.90" y2="338.73" stroke="#231f20" stroke-width="0.85"/>
<line x1="224.10" y1="337.73" x2="226.90" y2="337.73" stroke="#231f20" stroke-width="0.85"/>
<line x1="224.10" y1="336.87" x2="226.90" y2="336.87" stroke="#231f20" stroke-width="0.85"/>
<line x1="224.10" y1="336.11" x2="226.90" y2="336.11" stroke="#231f20" stroke-width="0.85"/>
<line x1="223.60" y1="335.43" x2="226.90" y2="335.43" stroke="#231f20" stroke-width="1.0"/>
<text x="221.00" y="335.12" font-size="6.0" text-anchor="end" fill="#231f20" color="#231f20">5</text>
<text x="217.90" y="339.23" font-size="8.6" text-anchor="end" fill="#231f20" color="#231f20" textLength="8.10" lengthAdjust="spacingAndGlyphs">10</text>
<line x1="224.10" y1="330.95" x2="226.90" y2="330.95" stroke="#231f20" stroke-width="0.85"/>
<line x1="224.10" y1="328.33" x2="226.90" y2="328.33" stroke="#231f20" stroke-width="0.85"/>
<line x1="224.10" y1="326.47" x2="226.90" y2="326.47" stroke="#231f20" stroke-width="0.85"/>
<line x1="224.10" y1="325.03" x2="226.90" y2="325.03" stroke="#231f20" stroke-width="0.85"/>
<line x1="224.10" y1="323.85" x2="226.90" y2="323.85" stroke="#231f20" stroke-width="0.85"/>
<line x1="224.10" y1="322.85" x2="226.90" y2="322.85" stroke="#231f20" stroke-width="0.85"/>
<line x1="224.10" y1="321.99" x2="226.90" y2="321.99" stroke="#231f20" stroke-width="0.85"/>
<line x1="224.10" y1="321.23" x2="226.90" y2="321.23" stroke="#231f20" stroke-width="0.85"/>
<line x1="223.60" y1="320.55" x2="226.90" y2="320.55" stroke="#231f20" stroke-width="1.0"/>
<text x="221.00" y="320.25" font-size="6.0" text-anchor="end" fill="#231f20" color="#231f20">6</text>
<text x="217.90" y="324.35" font-size="8.6" text-anchor="end" fill="#231f20" color="#231f20" textLength="8.10" lengthAdjust="spacingAndGlyphs">10</text>
<line x1="224.10" y1="316.07" x2="226.90" y2="316.07" stroke="#231f20" stroke-width="0.85"/>
<line x1="224.10" y1="313.45" x2="226.90" y2="313.45" stroke="#231f20" stroke-width="0.85"/>
<line x1="224.10" y1="311.59" x2="226.90" y2="311.59" stroke="#231f20" stroke-width="0.85"/>
<line x1="224.10" y1="310.15" x2="226.90" y2="310.15" stroke="#231f20" stroke-width="0.85"/>
<line x1="224.10" y1="308.98" x2="226.90" y2="308.98" stroke="#231f20" stroke-width="0.85"/>
<line x1="224.10" y1="307.98" x2="226.90" y2="307.98" stroke="#231f20" stroke-width="0.85"/>
<line x1="224.10" y1="307.12" x2="226.90" y2="307.12" stroke="#231f20" stroke-width="0.85"/>
<line x1="224.10" y1="306.36" x2="226.90" y2="306.36" stroke="#231f20" stroke-width="0.85"/>
<line x1="223.60" y1="305.68" x2="226.90" y2="305.68" stroke="#231f20" stroke-width="1.0"/>
<text x="221.00" y="305.38" font-size="6.0" text-anchor="end" fill="#231f20" color="#231f20">7</text>
<text x="217.90" y="309.48" font-size="8.6" text-anchor="end" fill="#231f20" color="#231f20" textLength="8.10" lengthAdjust="spacingAndGlyphs">10</text>
<line x1="224.10" y1="301.20" x2="226.90" y2="301.20" stroke="#231f20" stroke-width="0.85"/>
<line x1="224.10" y1="298.58" x2="226.90" y2="298.58" stroke="#231f20" stroke-width="0.85"/>
<line x1="224.10" y1="296.72" x2="226.90" y2="296.72" stroke="#231f20" stroke-width="0.85"/>
<line x1="224.10" y1="295.28" x2="226.90" y2="295.28" stroke="#231f20" stroke-width="0.85"/>
<line x1="224.10" y1="294.10" x2="226.90" y2="294.10" stroke="#231f20" stroke-width="0.85"/>
<line x1="224.10" y1="293.10" x2="226.90" y2="293.10" stroke="#231f20" stroke-width="0.85"/>
<line x1="224.10" y1="292.24" x2="226.90" y2="292.24" stroke="#231f20" stroke-width="0.85"/>
<line x1="224.10" y1="291.48" x2="226.90" y2="291.48" stroke="#231f20" stroke-width="0.85"/>
<line x1="223.60" y1="290.80" x2="226.90" y2="290.80" stroke="#231f20" stroke-width="1.0"/>
<text x="221.00" y="290.50" font-size="6.0" text-anchor="end" fill="#231f20" color="#231f20">8</text>
<text x="217.90" y="294.60" font-size="8.6" text-anchor="end" fill="#231f20" color="#231f20" textLength="8.10" lengthAdjust="spacingAndGlyphs">10</text>
<line x1="226.40" y1="350.30" x2="271.90" y2="350.30" stroke="#231f20" stroke-width="1.25"/>
<line x1="226.90" y1="350.30" x2="226.90" y2="353.10" stroke="#231f20" stroke-width="1.15"/>
<text x="226.90" y="362.40" font-size="8.4" text-anchor="middle" fill="#231f20" color="#231f20">0</text>
<line x1="237.10" y1="350.30" x2="237.10" y2="353.10" stroke="#231f20" stroke-width="1.15"/>
<text x="237.10" y="362.40" font-size="8.4" text-anchor="middle" fill="#231f20" color="#231f20">2</text>
<line x1="247.30" y1="350.30" x2="247.30" y2="353.10" stroke="#231f20" stroke-width="1.15"/>
<text x="247.30" y="362.40" font-size="8.4" text-anchor="middle" fill="#231f20" color="#231f20">4</text>
<line x1="257.50" y1="350.30" x2="257.50" y2="353.10" stroke="#231f20" stroke-width="1.15"/>
<text x="257.50" y="362.40" font-size="8.4" text-anchor="middle" fill="#231f20" color="#231f20">6</text>
<line x1="267.70" y1="350.30" x2="267.70" y2="353.10" stroke="#231f20" stroke-width="1.15"/>
<text x="267.70" y="362.40" font-size="8.4" text-anchor="middle" fill="#231f20" color="#231f20">8</text>
<polyline points="226.90,343.00 237.10,337.50 247.30,336.25 257.50,340.50 267.70,346.25" fill="none" stroke="#3cb54a" stroke-width="1.6" stroke-dasharray="2.2,1.6" stroke-linejoin="round"/>
<rect x="224.70" y="340.80" width="4.40" height="4.40" fill="#3cb54a"/>
<rect x="234.90" y="335.30" width="4.40" height="4.40" fill="#3cb54a"/>
<rect x="245.10" y="334.05" width="4.40" height="4.40" fill="#3cb54a"/>
<rect x="255.30" y="338.30" width="4.40" height="4.40" fill="#3cb54a"/>
<rect x="265.50" y="344.05" width="4.40" height="4.40" fill="#3cb54a"/>
<polyline points="226.90,342.00 237.10,330.00 247.30,319.25 257.50,308.75 267.70,300.00" fill="none" stroke="#c8163a" stroke-width="1.6" stroke-dasharray="2.2,1.6" stroke-linejoin="round"/>
<circle cx="226.90" cy="342.00" r="2.40" fill="#c8163a"/>
<circle cx="237.10" cy="330.00" r="2.40" fill="#c8163a"/>
<circle cx="247.30" cy="319.25" r="2.40" fill="#c8163a"/>
<circle cx="257.50" cy="308.75" r="2.40" fill="#c8163a"/>
<circle cx="267.70" cy="300.00" r="2.40" fill="#c8163a"/>
<polyline points="226.90,342.00 237.10,337.00 247.30,335.00 257.50,338.75 267.70,344.25" fill="none" stroke="#1a4f85" stroke-width="1.6" stroke-linejoin="round"/>
<circle cx="226.90" cy="342.00" r="2.40" fill="#1a4f85"/>
<circle cx="237.10" cy="337.00" r="2.40" fill="#1a4f85"/>
<circle cx="247.30" cy="335.00" r="2.40" fill="#1a4f85"/>
<circle cx="257.50" cy="338.75" r="2.40" fill="#1a4f85"/>
<circle cx="267.70" cy="344.25" r="2.40" fill="#1a4f85"/>
<line x1="271.25" y1="302.00" x2="271.25" y2="341.25" stroke="#2a2a2a" stroke-width="1.1"/>
<ellipse cx="274.95" cy="318.43" rx="1.25" ry="1.00" fill="#231f20"/>
<ellipse cx="274.95" cy="321.62" rx="1.25" ry="1.00" fill="#231f20"/>
<ellipse cx="274.95" cy="324.82" rx="1.25" ry="1.00" fill="#231f20"/>
<text x="316.20" y="283.10" font-size="10.5" text-anchor="middle" fill="#231f20" color="#231f20" textLength="17.80" lengthAdjust="spacingAndGlyphs">RG1</text>
<line x1="295.60" y1="285.00" x2="295.60" y2="350.80" stroke="#231f20" stroke-width="1.25"/>
<line x1="292.30" y1="350.30" x2="295.60" y2="350.30" stroke="#231f20" stroke-width="1.0"/>
<text x="289.70" y="350.00" font-size="6.0" text-anchor="end" fill="#231f20" color="#231f20">4</text>
<text x="286.60" y="354.10" font-size="8.6" text-anchor="end" fill="#231f20" color="#231f20" textLength="8.10" lengthAdjust="spacingAndGlyphs">10</text>
<line x1="292.80" y1="344.30" x2="295.60" y2="344.30" stroke="#231f20" stroke-width="0.85"/>
<line x1="292.80" y1="340.79" x2="295.60" y2="340.79" stroke="#231f20" stroke-width="0.85"/>
<line x1="292.80" y1="338.30" x2="295.60" y2="338.30" stroke="#231f20" stroke-width="0.85"/>
<line x1="292.80" y1="336.37" x2="295.60" y2="336.37" stroke="#231f20" stroke-width="0.85"/>
<line x1="292.80" y1="334.79" x2="295.60" y2="334.79" stroke="#231f20" stroke-width="0.85"/>
<line x1="292.80" y1="333.45" x2="295.60" y2="333.45" stroke="#231f20" stroke-width="0.85"/>
<line x1="292.80" y1="332.30" x2="295.60" y2="332.30" stroke="#231f20" stroke-width="0.85"/>
<line x1="292.80" y1="331.28" x2="295.60" y2="331.28" stroke="#231f20" stroke-width="0.85"/>
<line x1="292.30" y1="330.37" x2="295.60" y2="330.37" stroke="#231f20" stroke-width="1.0"/>
<text x="289.70" y="330.07" font-size="6.0" text-anchor="end" fill="#231f20" color="#231f20">5</text>
<text x="286.60" y="334.17" font-size="8.6" text-anchor="end" fill="#231f20" color="#231f20" textLength="8.10" lengthAdjust="spacingAndGlyphs">10</text>
<line x1="292.80" y1="324.37" x2="295.60" y2="324.37" stroke="#231f20" stroke-width="0.85"/>
<line x1="292.80" y1="320.86" x2="295.60" y2="320.86" stroke="#231f20" stroke-width="0.85"/>
<line x1="292.80" y1="318.37" x2="295.60" y2="318.37" stroke="#231f20" stroke-width="0.85"/>
<line x1="292.80" y1="316.43" x2="295.60" y2="316.43" stroke="#231f20" stroke-width="0.85"/>
<line x1="292.80" y1="314.86" x2="295.60" y2="314.86" stroke="#231f20" stroke-width="0.85"/>
<line x1="292.80" y1="313.52" x2="295.60" y2="313.52" stroke="#231f20" stroke-width="0.85"/>
<line x1="292.80" y1="312.37" x2="295.60" y2="312.37" stroke="#231f20" stroke-width="0.85"/>
<line x1="292.80" y1="311.35" x2="295.60" y2="311.35" stroke="#231f20" stroke-width="0.85"/>
<line x1="292.30" y1="310.43" x2="295.60" y2="310.43" stroke="#231f20" stroke-width="1.0"/>
<text x="289.70" y="310.13" font-size="6.0" text-anchor="end" fill="#231f20" color="#231f20">6</text>
<text x="286.60" y="314.23" font-size="8.6" text-anchor="end" fill="#231f20" color="#231f20" textLength="8.10" lengthAdjust="spacingAndGlyphs">10</text>
<line x1="292.80" y1="304.43" x2="295.60" y2="304.43" stroke="#231f20" stroke-width="0.85"/>
<line x1="292.80" y1="300.92" x2="295.60" y2="300.92" stroke="#231f20" stroke-width="0.85"/>
<line x1="292.80" y1="298.43" x2="295.60" y2="298.43" stroke="#231f20" stroke-width="0.85"/>
<line x1="292.80" y1="296.50" x2="295.60" y2="296.50" stroke="#231f20" stroke-width="0.85"/>
<line x1="292.80" y1="294.92" x2="295.60" y2="294.92" stroke="#231f20" stroke-width="0.85"/>
<line x1="292.80" y1="293.59" x2="295.60" y2="293.59" stroke="#231f20" stroke-width="0.85"/>
<line x1="292.80" y1="292.43" x2="295.60" y2="292.43" stroke="#231f20" stroke-width="0.85"/>
<line x1="292.80" y1="291.41" x2="295.60" y2="291.41" stroke="#231f20" stroke-width="0.85"/>
<line x1="292.30" y1="290.50" x2="295.60" y2="290.50" stroke="#231f20" stroke-width="1.0"/>
<text x="289.70" y="290.20" font-size="6.0" text-anchor="end" fill="#231f20" color="#231f20">7</text>
<text x="286.60" y="294.30" font-size="8.6" text-anchor="end" fill="#231f20" color="#231f20" textLength="8.10" lengthAdjust="spacingAndGlyphs">10</text>
<line x1="295.10" y1="350.30" x2="340.60" y2="350.30" stroke="#231f20" stroke-width="1.25"/>
<line x1="295.60" y1="350.30" x2="295.60" y2="353.10" stroke="#231f20" stroke-width="1.15"/>
<text x="295.60" y="362.40" font-size="8.4" text-anchor="middle" fill="#231f20" color="#231f20">0</text>
<line x1="305.80" y1="350.30" x2="305.80" y2="353.10" stroke="#231f20" stroke-width="1.15"/>
<text x="305.80" y="362.40" font-size="8.4" text-anchor="middle" fill="#231f20" color="#231f20">2</text>
<line x1="316.00" y1="350.30" x2="316.00" y2="353.10" stroke="#231f20" stroke-width="1.15"/>
<text x="316.00" y="362.40" font-size="8.4" text-anchor="middle" fill="#231f20" color="#231f20">4</text>
<line x1="326.20" y1="350.30" x2="326.20" y2="353.10" stroke="#231f20" stroke-width="1.15"/>
<text x="326.20" y="362.40" font-size="8.4" text-anchor="middle" fill="#231f20" color="#231f20">6</text>
<line x1="336.40" y1="350.30" x2="336.40" y2="353.10" stroke="#231f20" stroke-width="1.15"/>
<text x="336.40" y="362.40" font-size="8.4" text-anchor="middle" fill="#231f20" color="#231f20">8</text>
<polyline points="295.60,339.50 305.80,332.00 316.00,323.00 326.20,315.50 336.40,310.00" fill="none" stroke="#3cb54a" stroke-width="1.6" stroke-dasharray="2.2,1.6" stroke-linejoin="round"/>
<rect x="293.40" y="337.30" width="4.40" height="4.40" fill="#3cb54a"/>
<rect x="303.60" y="329.80" width="4.40" height="4.40" fill="#3cb54a"/>
<rect x="313.80" y="320.80" width="4.40" height="4.40" fill="#3cb54a"/>
<rect x="324.00" y="313.30" width="4.40" height="4.40" fill="#3cb54a"/>
<rect x="334.20" y="307.80" width="4.40" height="4.40" fill="#3cb54a"/>
<polyline points="295.60,339.50 305.80,330.00 316.00,320.50 326.20,310.50 336.40,302.50" fill="none" stroke="#c8163a" stroke-width="1.6" stroke-dasharray="2.2,1.6" stroke-linejoin="round"/>
<circle cx="295.60" cy="339.50" r="2.40" fill="#c8163a"/>
<circle cx="305.80" cy="330.00" r="2.40" fill="#c8163a"/>
<circle cx="316.00" cy="320.50" r="2.40" fill="#c8163a"/>
<circle cx="326.20" cy="310.50" r="2.40" fill="#c8163a"/>
<circle cx="336.40" cy="302.50" r="2.40" fill="#c8163a"/>
<polyline points="295.60,339.50 305.80,332.00 316.00,325.00 326.20,322.50 336.40,322.50" fill="none" stroke="#1a4f85" stroke-width="1.6" stroke-linejoin="round"/>
<circle cx="295.60" cy="339.50" r="2.40" fill="#1a4f85"/>
<circle cx="305.80" cy="332.00" r="2.40" fill="#1a4f85"/>
<circle cx="316.00" cy="325.00" r="2.40" fill="#1a4f85"/>
<circle cx="326.20" cy="322.50" r="2.40" fill="#1a4f85"/>
<circle cx="336.40" cy="322.50" r="2.40" fill="#1a4f85"/>
<line x1="340.75" y1="312.00" x2="340.75" y2="321.25" stroke="#2a2a2a" stroke-width="1.1"/>
<ellipse cx="344.45" cy="316.62" rx="1.25" ry="1.00" fill="#231f20"/>
<text x="386.20" y="283.10" font-size="10.5" text-anchor="middle" fill="#231f20" color="#231f20" textLength="17.80" lengthAdjust="spacingAndGlyphs">RG2</text>
<line x1="365.00" y1="285.00" x2="365.00" y2="350.80" stroke="#231f20" stroke-width="1.25"/>
<line x1="361.70" y1="350.30" x2="365.00" y2="350.30" stroke="#231f20" stroke-width="1.0"/>
<text x="359.10" y="350.00" font-size="6.0" text-anchor="end" fill="#231f20" color="#231f20">4</text>
<text x="356.00" y="354.10" font-size="8.6" text-anchor="end" fill="#231f20" color="#231f20" textLength="8.10" lengthAdjust="spacingAndGlyphs">10</text>
<line x1="362.20" y1="344.30" x2="365.00" y2="344.30" stroke="#231f20" stroke-width="0.85"/>
<line x1="362.20" y1="340.79" x2="365.00" y2="340.79" stroke="#231f20" stroke-width="0.85"/>
<line x1="362.20" y1="338.30" x2="365.00" y2="338.30" stroke="#231f20" stroke-width="0.85"/>
<line x1="362.20" y1="336.37" x2="365.00" y2="336.37" stroke="#231f20" stroke-width="0.85"/>
<line x1="362.20" y1="334.79" x2="365.00" y2="334.79" stroke="#231f20" stroke-width="0.85"/>
<line x1="362.20" y1="333.45" x2="365.00" y2="333.45" stroke="#231f20" stroke-width="0.85"/>
<line x1="362.20" y1="332.30" x2="365.00" y2="332.30" stroke="#231f20" stroke-width="0.85"/>
<line x1="362.20" y1="331.28" x2="365.00" y2="331.28" stroke="#231f20" stroke-width="0.85"/>
<line x1="361.70" y1="330.37" x2="365.00" y2="330.37" stroke="#231f20" stroke-width="1.0"/>
<text x="359.10" y="330.07" font-size="6.0" text-anchor="end" fill="#231f20" color="#231f20">5</text>
<text x="356.00" y="334.17" font-size="8.6" text-anchor="end" fill="#231f20" color="#231f20" textLength="8.10" lengthAdjust="spacingAndGlyphs">10</text>
<line x1="362.20" y1="324.37" x2="365.00" y2="324.37" stroke="#231f20" stroke-width="0.85"/>
<line x1="362.20" y1="320.86" x2="365.00" y2="320.86" stroke="#231f20" stroke-width="0.85"/>
<line x1="362.20" y1="318.37" x2="365.00" y2="318.37" stroke="#231f20" stroke-width="0.85"/>
<line x1="362.20" y1="316.43" x2="365.00" y2="316.43" stroke="#231f20" stroke-width="0.85"/>
<line x1="362.20" y1="314.86" x2="365.00" y2="314.86" stroke="#231f20" stroke-width="0.85"/>
<line x1="362.20" y1="313.52" x2="365.00" y2="313.52" stroke="#231f20" stroke-width="0.85"/>
<line x1="362.20" y1="312.37" x2="365.00" y2="312.37" stroke="#231f20" stroke-width="0.85"/>
<line x1="362.20" y1="311.35" x2="365.00" y2="311.35" stroke="#231f20" stroke-width="0.85"/>
<line x1="361.70" y1="310.43" x2="365.00" y2="310.43" stroke="#231f20" stroke-width="1.0"/>
<text x="359.10" y="310.13" font-size="6.0" text-anchor="end" fill="#231f20" color="#231f20">6</text>
<text x="356.00" y="314.23" font-size="8.6" text-anchor="end" fill="#231f20" color="#231f20" textLength="8.10" lengthAdjust="spacingAndGlyphs">10</text>
<line x1="362.20" y1="304.43" x2="365.00" y2="304.43" stroke="#231f20" stroke-width="0.85"/>
<line x1="362.20" y1="300.92" x2="365.00" y2="300.92" stroke="#231f20" stroke-width="0.85"/>
<line x1="362.20" y1="298.43" x2="365.00" y2="298.43" stroke="#231f20" stroke-width="0.85"/>
<line x1="362.20" y1="296.50" x2="365.00" y2="296.50" stroke="#231f20" stroke-width="0.85"/>
<line x1="362.20" y1="294.92" x2="365.00" y2="294.92" stroke="#231f20" stroke-width="0.85"/>
<line x1="362.20" y1="293.59" x2="365.00" y2="293.59" stroke="#231f20" stroke-width="0.85"/>
<line x1="362.20" y1="292.43" x2="365.00" y2="292.43" stroke="#231f20" stroke-width="0.85"/>
<line x1="362.20" y1="291.41" x2="365.00" y2="291.41" stroke="#231f20" stroke-width="0.85"/>
<line x1="361.70" y1="290.50" x2="365.00" y2="290.50" stroke="#231f20" stroke-width="1.0"/>
<text x="359.10" y="290.20" font-size="6.0" text-anchor="end" fill="#231f20" color="#231f20">7</text>
<text x="356.00" y="294.30" font-size="8.6" text-anchor="end" fill="#231f20" color="#231f20" textLength="8.10" lengthAdjust="spacingAndGlyphs">10</text>
<line x1="364.50" y1="350.30" x2="410.00" y2="350.30" stroke="#231f20" stroke-width="1.25"/>
<line x1="365.00" y1="350.30" x2="365.00" y2="353.10" stroke="#231f20" stroke-width="1.15"/>
<text x="365.00" y="362.40" font-size="8.4" text-anchor="middle" fill="#231f20" color="#231f20">0</text>
<line x1="375.20" y1="350.30" x2="375.20" y2="353.10" stroke="#231f20" stroke-width="1.15"/>
<text x="375.20" y="362.40" font-size="8.4" text-anchor="middle" fill="#231f20" color="#231f20">2</text>
<line x1="385.40" y1="350.30" x2="385.40" y2="353.10" stroke="#231f20" stroke-width="1.15"/>
<text x="385.40" y="362.40" font-size="8.4" text-anchor="middle" fill="#231f20" color="#231f20">4</text>
<line x1="395.60" y1="350.30" x2="395.60" y2="353.10" stroke="#231f20" stroke-width="1.15"/>
<text x="395.60" y="362.40" font-size="8.4" text-anchor="middle" fill="#231f20" color="#231f20">6</text>
<line x1="405.80" y1="350.30" x2="405.80" y2="353.10" stroke="#231f20" stroke-width="1.15"/>
<text x="405.80" y="362.40" font-size="8.4" text-anchor="middle" fill="#231f20" color="#231f20">8</text>
<polyline points="365.00,339.50 375.20,331.25 385.40,323.00 395.60,313.00 405.80,305.50" fill="none" stroke="#3cb54a" stroke-width="1.6" stroke-dasharray="2.2,1.6" stroke-linejoin="round"/>
<rect x="362.80" y="337.30" width="4.40" height="4.40" fill="#3cb54a"/>
<rect x="373.00" y="329.05" width="4.40" height="4.40" fill="#3cb54a"/>
<rect x="383.20" y="320.80" width="4.40" height="4.40" fill="#3cb54a"/>
<rect x="393.40" y="310.80" width="4.40" height="4.40" fill="#3cb54a"/>
<rect x="403.60" y="303.30" width="4.40" height="4.40" fill="#3cb54a"/>
<polyline points="365.00,339.50 375.20,329.50 385.40,319.25 395.60,308.75 405.80,299.50" fill="none" stroke="#c8163a" stroke-width="1.6" stroke-dasharray="2.2,1.6" stroke-linejoin="round"/>
<circle cx="365.00" cy="339.50" r="2.40" fill="#c8163a"/>
<circle cx="375.20" cy="329.50" r="2.40" fill="#c8163a"/>
<circle cx="385.40" cy="319.25" r="2.40" fill="#c8163a"/>
<circle cx="395.60" cy="308.75" r="2.40" fill="#c8163a"/>
<circle cx="405.80" cy="299.50" r="2.40" fill="#c8163a"/>
<polyline points="365.00,339.50 375.20,330.75 385.40,325.50 395.60,322.50 405.80,321.75" fill="none" stroke="#1a4f85" stroke-width="1.6" stroke-linejoin="round"/>
<circle cx="365.00" cy="339.50" r="2.40" fill="#1a4f85"/>
<circle cx="375.20" cy="330.75" r="2.40" fill="#1a4f85"/>
<circle cx="385.40" cy="325.50" r="2.40" fill="#1a4f85"/>
<circle cx="395.60" cy="322.50" r="2.40" fill="#1a4f85"/>
<circle cx="405.80" cy="321.75" r="2.40" fill="#1a4f85"/>
<line x1="409.50" y1="308.75" x2="409.50" y2="320.00" stroke="#2a2a2a" stroke-width="1.1"/>
<ellipse cx="413.20" cy="312.77" rx="1.25" ry="1.00" fill="#231f20"/>
<ellipse cx="413.20" cy="315.97" rx="1.25" ry="1.00" fill="#231f20"/>
<text x="453.80" y="283.10" font-size="10.5" text-anchor="middle" fill="#231f20" color="#231f20" textLength="17.80" lengthAdjust="spacingAndGlyphs">RG3</text>
<line x1="433.80" y1="285.00" x2="433.80" y2="350.80" stroke="#231f20" stroke-width="1.25"/>
<line x1="430.50" y1="350.30" x2="433.80" y2="350.30" stroke="#231f20" stroke-width="1.0"/>
<text x="427.90" y="350.00" font-size="6.0" text-anchor="end" fill="#231f20" color="#231f20">4</text>
<text x="424.80" y="354.10" font-size="8.6" text-anchor="end" fill="#231f20" color="#231f20" textLength="8.10" lengthAdjust="spacingAndGlyphs">10</text>
<line x1="431.00" y1="344.30" x2="433.80" y2="344.30" stroke="#231f20" stroke-width="0.85"/>
<line x1="431.00" y1="340.79" x2="433.80" y2="340.79" stroke="#231f20" stroke-width="0.85"/>
<line x1="431.00" y1="338.30" x2="433.80" y2="338.30" stroke="#231f20" stroke-width="0.85"/>
<line x1="431.00" y1="336.37" x2="433.80" y2="336.37" stroke="#231f20" stroke-width="0.85"/>
<line x1="431.00" y1="334.79" x2="433.80" y2="334.79" stroke="#231f20" stroke-width="0.85"/>
<line x1="431.00" y1="333.45" x2="433.80" y2="333.45" stroke="#231f20" stroke-width="0.85"/>
<line x1="431.00" y1="332.30" x2="433.80" y2="332.30" stroke="#231f20" stroke-width="0.85"/>
<line x1="431.00" y1="331.28" x2="433.80" y2="331.28" stroke="#231f20" stroke-width="0.85"/>
<line x1="430.50" y1="330.37" x2="433.80" y2="330.37" stroke="#231f20" stroke-width="1.0"/>
<text x="427.90" y="330.07" font-size="6.0" text-anchor="end" fill="#231f20" color="#231f20">5</text>
<text x="424.80" y="334.17" font-size="8.6" text-anchor="end" fill="#231f20" color="#231f20" textLength="8.10" lengthAdjust="spacingAndGlyphs">10</text>
<line x1="431.00" y1="324.37" x2="433.80" y2="324.37" stroke="#231f20" stroke-width="0.85"/>
<line x1="431.00" y1="320.86" x2="433.80" y2="320.86" stroke="#231f20" stroke-width="0.85"/>
<line x1="431.00" y1="318.37" x2="433.80" y2="318.37" stroke="#231f20" stroke-width="0.85"/>
<line x1="431.00" y1="316.43" x2="433.80" y2="316.43" stroke="#231f20" stroke-width="0.85"/>
<line x1="431.00" y1="314.86" x2="433.80" y2="314.86" stroke="#231f20" stroke-width="0.85"/>
<line x1="431.00" y1="313.52" x2="433.80" y2="313.52" stroke="#231f20" stroke-width="0.85"/>
<line x1="431.00" y1="312.37" x2="433.80" y2="312.37" stroke="#231f20" stroke-width="0.85"/>
<line x1="431.00" y1="311.35" x2="433.80" y2="311.35" stroke="#231f20" stroke-width="0.85"/>
<line x1="430.50" y1="310.43" x2="433.80" y2="310.43" stroke="#231f20" stroke-width="1.0"/>
<text x="427.90" y="310.13" font-size="6.0" text-anchor="end" fill="#231f20" color="#231f20">6</text>
<text x="424.80" y="314.23" font-size="8.6" text-anchor="end" fill="#231f20" color="#231f20" textLength="8.10" lengthAdjust="spacingAndGlyphs">10</text>
<line x1="431.00" y1="304.43" x2="433.80" y2="304.43" stroke="#231f20" stroke-width="0.85"/>
<line x1="431.00" y1="300.92" x2="433.80" y2="300.92" stroke="#231f20" stroke-width="0.85"/>
<line x1="431.00" y1="298.43" x2="433.80" y2="298.43" stroke="#231f20" stroke-width="0.85"/>
<line x1="431.00" y1="296.50" x2="433.80" y2="296.50" stroke="#231f20" stroke-width="0.85"/>
<line x1="431.00" y1="294.92" x2="433.80" y2="294.92" stroke="#231f20" stroke-width="0.85"/>
<line x1="431.00" y1="293.59" x2="433.80" y2="293.59" stroke="#231f20" stroke-width="0.85"/>
<line x1="431.00" y1="292.43" x2="433.80" y2="292.43" stroke="#231f20" stroke-width="0.85"/>
<line x1="431.00" y1="291.41" x2="433.80" y2="291.41" stroke="#231f20" stroke-width="0.85"/>
<line x1="430.50" y1="290.50" x2="433.80" y2="290.50" stroke="#231f20" stroke-width="1.0"/>
<text x="427.90" y="290.20" font-size="6.0" text-anchor="end" fill="#231f20" color="#231f20">7</text>
<text x="424.80" y="294.30" font-size="8.6" text-anchor="end" fill="#231f20" color="#231f20" textLength="8.10" lengthAdjust="spacingAndGlyphs">10</text>
<line x1="433.30" y1="350.30" x2="478.80" y2="350.30" stroke="#231f20" stroke-width="1.25"/>
<line x1="433.80" y1="350.30" x2="433.80" y2="353.10" stroke="#231f20" stroke-width="1.15"/>
<text x="433.80" y="362.40" font-size="8.4" text-anchor="middle" fill="#231f20" color="#231f20">0</text>
<line x1="444.00" y1="350.30" x2="444.00" y2="353.10" stroke="#231f20" stroke-width="1.15"/>
<text x="444.00" y="362.40" font-size="8.4" text-anchor="middle" fill="#231f20" color="#231f20">2</text>
<line x1="454.20" y1="350.30" x2="454.20" y2="353.10" stroke="#231f20" stroke-width="1.15"/>
<text x="454.20" y="362.40" font-size="8.4" text-anchor="middle" fill="#231f20" color="#231f20">4</text>
<line x1="464.40" y1="350.30" x2="464.40" y2="353.10" stroke="#231f20" stroke-width="1.15"/>
<text x="464.40" y="362.40" font-size="8.4" text-anchor="middle" fill="#231f20" color="#231f20">6</text>
<line x1="474.60" y1="350.30" x2="474.60" y2="353.10" stroke="#231f20" stroke-width="1.15"/>
<text x="474.60" y="362.40" font-size="8.4" text-anchor="middle" fill="#231f20" color="#231f20">8</text>
<polyline points="433.80,339.50 444.00,332.50 454.20,324.50 464.40,313.75 474.60,304.50" fill="none" stroke="#3cb54a" stroke-width="1.6" stroke-dasharray="2.2,1.6" stroke-linejoin="round"/>
<rect x="431.60" y="337.30" width="4.40" height="4.40" fill="#3cb54a"/>
<rect x="441.80" y="330.30" width="4.40" height="4.40" fill="#3cb54a"/>
<rect x="452.00" y="322.30" width="4.40" height="4.40" fill="#3cb54a"/>
<rect x="462.20" y="311.55" width="4.40" height="4.40" fill="#3cb54a"/>
<rect x="472.40" y="302.30" width="4.40" height="4.40" fill="#3cb54a"/>
<polyline points="433.80,339.50 444.00,331.25 454.20,320.00 464.40,308.75 474.60,296.25" fill="none" stroke="#c8163a" stroke-width="1.6" stroke-dasharray="2.2,1.6" stroke-linejoin="round"/>
<circle cx="433.80" cy="339.50" r="2.40" fill="#c8163a"/>
<circle cx="444.00" cy="331.25" r="2.40" fill="#c8163a"/>
<circle cx="454.20" cy="320.00" r="2.40" fill="#c8163a"/>
<circle cx="464.40" cy="308.75" r="2.40" fill="#c8163a"/>
<circle cx="474.60" cy="296.25" r="2.40" fill="#c8163a"/>
<polyline points="433.80,339.50 444.00,334.50 454.20,330.00 464.40,327.00 474.60,323.00" fill="none" stroke="#1a4f85" stroke-width="1.6" stroke-linejoin="round"/>
<circle cx="433.80" cy="339.50" r="2.40" fill="#1a4f85"/>
<circle cx="444.00" cy="334.50" r="2.40" fill="#1a4f85"/>
<circle cx="454.20" cy="330.00" r="2.40" fill="#1a4f85"/>
<circle cx="464.40" cy="327.00" r="2.40" fill="#1a4f85"/>
<circle cx="474.60" cy="323.00" r="2.40" fill="#1a4f85"/>
<line x1="478.00" y1="304.50" x2="478.00" y2="321.25" stroke="#2a2a2a" stroke-width="1.1"/>
<ellipse cx="481.70" cy="309.68" rx="1.25" ry="1.00" fill="#231f20"/>
<ellipse cx="481.70" cy="312.88" rx="1.25" ry="1.00" fill="#231f20"/>
<ellipse cx="481.70" cy="316.07" rx="1.25" ry="1.00" fill="#231f20"/>
<line x1="482.10" y1="276.80" x2="490.50" y2="276.80" stroke="#c8163a" stroke-width="1.3" stroke-dasharray="2,1.4"/>
<circle cx="486.30" cy="276.80" r="2.52" fill="#c8163a"/>
<text x="494.50" y="279.64" font-size="7.9" text-anchor="start" fill="#231f20" color="#231f20" textLength="18.00" lengthAdjust="spacingAndGlyphs">–Dox</text>
<line x1="482.10" y1="287.00" x2="490.50" y2="287.00" stroke="#1a4f85" stroke-width="1.3"/>
<circle cx="486.30" cy="287.00" r="2.52" fill="#1a4f85"/>
<text x="494.50" y="289.84" font-size="7.9" text-anchor="start" fill="#231f20" color="#231f20" textLength="18.50" lengthAdjust="spacingAndGlyphs">+Dox</text>
<line x1="482.10" y1="297.20" x2="490.50" y2="297.20" stroke="#3cb54a" stroke-width="1.3" stroke-dasharray="2,1.4"/>
<rect x="483.99" y="294.89" width="4.62" height="4.62" fill="#3cb54a"/>
<text x="494.50" y="300.04" font-size="7.9" text-anchor="start" fill="#231f20" color="#231f20" textLength="13.00" lengthAdjust="spacingAndGlyphs">Len</text>
<line x1="227.40" y1="370.40" x2="227.40" y2="435.90" stroke="#231f20" stroke-width="1.3"/>
<line x1="224.20" y1="435.40" x2="227.40" y2="435.40" stroke="#231f20" stroke-width="1.0"/>
<text x="221.20" y="438.70" font-size="8.6" text-anchor="end" fill="#231f20" color="#231f20" textLength="4.60" lengthAdjust="spacingAndGlyphs">0</text>
<line x1="224.20" y1="423.22" x2="227.40" y2="423.22" stroke="#231f20" stroke-width="1.0"/>
<text x="221.20" y="426.52" font-size="8.6" text-anchor="end" fill="#231f20" color="#231f20" textLength="8.40" lengthAdjust="spacingAndGlyphs">20</text>
<line x1="224.20" y1="411.04" x2="227.40" y2="411.04" stroke="#231f20" stroke-width="1.0"/>
<text x="221.20" y="414.34" font-size="8.6" text-anchor="end" fill="#231f20" color="#231f20" textLength="8.40" lengthAdjust="spacingAndGlyphs">40</text>
<line x1="224.20" y1="398.86" x2="227.40" y2="398.86" stroke="#231f20" stroke-width="1.0"/>
<text x="221.20" y="402.16" font-size="8.6" text-anchor="end" fill="#231f20" color="#231f20" textLength="8.40" lengthAdjust="spacingAndGlyphs">60</text>
<line x1="224.20" y1="386.68" x2="227.40" y2="386.68" stroke="#231f20" stroke-width="1.0"/>
<text x="221.20" y="389.98" font-size="8.6" text-anchor="end" fill="#231f20" color="#231f20" textLength="8.40" lengthAdjust="spacingAndGlyphs">80</text>
<line x1="224.20" y1="374.50" x2="227.40" y2="374.50" stroke="#231f20" stroke-width="1.0"/>
<text x="221.20" y="377.80" font-size="8.6" text-anchor="end" fill="#231f20" color="#231f20" textLength="12.60" lengthAdjust="spacingAndGlyphs">100</text>
<rect x="227.85" y="429.37" width="2.70" height="6.03" fill="#c8163a"/>
<line x1="229.20" y1="428.17" x2="229.20" y2="429.37" stroke="#444" stroke-width="0.5"/>
<line x1="228.25" y1="428.17" x2="230.14" y2="428.17" stroke="#444" stroke-width="0.5"/>
<rect x="230.55" y="414.51" width="2.70" height="20.89" fill="#1a4f85"/>
<line x1="231.90" y1="413.31" x2="231.90" y2="414.51" stroke="#444" stroke-width="0.5"/>
<line x1="230.95" y1="413.31" x2="232.84" y2="413.31" stroke="#444" stroke-width="0.5"/>
<rect x="233.25" y="413.11" width="2.70" height="22.29" fill="#3cb54a"/>
<line x1="234.60" y1="411.91" x2="234.60" y2="413.11" stroke="#444" stroke-width="0.5"/>
<line x1="233.66" y1="411.91" x2="235.54" y2="411.91" stroke="#444" stroke-width="0.5"/>
<line x1="231.90" y1="435.40" x2="231.90" y2="438.00" stroke="#231f20" stroke-width="1.1"/>
<text x="231.90" y="447.20" font-size="8.2" text-anchor="middle" fill="#231f20" color="#231f20">2</text>
<rect x="238.15" y="429.61" width="2.70" height="5.79" fill="#c8163a"/>
<line x1="239.50" y1="428.41" x2="239.50" y2="429.61" stroke="#444" stroke-width="0.5"/>
<line x1="238.56" y1="428.41" x2="240.44" y2="428.41" stroke="#444" stroke-width="0.5"/>
<rect x="240.85" y="399.77" width="2.70" height="35.63" fill="#1a4f85"/>
<line x1="242.20" y1="398.57" x2="242.20" y2="399.77" stroke="#444" stroke-width="0.5"/>
<line x1="241.25" y1="398.57" x2="243.14" y2="398.57" stroke="#444" stroke-width="0.5"/>
<rect x="243.55" y="396.61" width="2.70" height="38.79" fill="#3cb54a"/>
<line x1="244.90" y1="395.41" x2="244.90" y2="396.61" stroke="#444" stroke-width="0.5"/>
<line x1="243.96" y1="395.41" x2="245.84" y2="395.41" stroke="#444" stroke-width="0.5"/>
<line x1="242.20" y1="435.40" x2="242.20" y2="438.00" stroke="#231f20" stroke-width="1.1"/>
<text x="242.20" y="447.20" font-size="8.2" text-anchor="middle" fill="#231f20" color="#231f20">4</text>
<rect x="248.45" y="428.21" width="2.70" height="7.19" fill="#c8163a"/>
<line x1="249.80" y1="427.01" x2="249.80" y2="428.21" stroke="#444" stroke-width="0.5"/>
<line x1="248.85" y1="427.01" x2="250.74" y2="427.01" stroke="#444" stroke-width="0.5"/>
<rect x="251.15" y="385.46" width="2.70" height="49.94" fill="#1a4f85"/>
<line x1="252.50" y1="384.26" x2="252.50" y2="385.46" stroke="#444" stroke-width="0.5"/>
<line x1="251.55" y1="384.26" x2="253.44" y2="384.26" stroke="#444" stroke-width="0.5"/>
<rect x="253.85" y="381.69" width="2.70" height="53.71" fill="#3cb54a"/>
<line x1="255.20" y1="380.49" x2="255.20" y2="381.69" stroke="#444" stroke-width="0.5"/>
<line x1="254.25" y1="380.49" x2="256.14" y2="380.49" stroke="#444" stroke-width="0.5"/>
<line x1="252.50" y1="435.40" x2="252.50" y2="438.00" stroke="#231f20" stroke-width="1.1"/>
<text x="252.50" y="447.20" font-size="8.2" text-anchor="middle" fill="#231f20" color="#231f20">6</text>
<rect x="258.75" y="424.32" width="2.70" height="11.08" fill="#c8163a"/>
<line x1="260.10" y1="423.12" x2="260.10" y2="424.32" stroke="#444" stroke-width="0.5"/>
<line x1="259.15" y1="423.12" x2="261.05" y2="423.12" stroke="#444" stroke-width="0.5"/>
<rect x="261.45" y="382.72" width="2.70" height="52.68" fill="#1a4f85"/>
<line x1="262.80" y1="381.52" x2="262.80" y2="382.72" stroke="#444" stroke-width="0.5"/>
<line x1="261.85" y1="381.52" x2="263.75" y2="381.52" stroke="#444" stroke-width="0.5"/>
<rect x="264.15" y="381.69" width="2.70" height="53.71" fill="#3cb54a"/>
<line x1="265.50" y1="380.49" x2="265.50" y2="381.69" stroke="#444" stroke-width="0.5"/>
<line x1="264.55" y1="380.49" x2="266.44" y2="380.49" stroke="#444" stroke-width="0.5"/>
<line x1="262.80" y1="435.40" x2="262.80" y2="438.00" stroke="#231f20" stroke-width="1.1"/>
<text x="262.80" y="447.20" font-size="8.2" text-anchor="middle" fill="#231f20" color="#231f20">8</text>
<line x1="226.90" y1="435.40" x2="268.90" y2="435.40" stroke="#231f20" stroke-width="1.3"/>
<ellipse cx="231.90" cy="402.01" rx="1.15" ry="0.92" fill="#231f20"/>
<ellipse cx="231.90" cy="405.21" rx="1.15" ry="0.92" fill="#231f20"/>
<ellipse cx="231.90" cy="408.41" rx="1.15" ry="0.92" fill="#231f20"/>
<ellipse cx="234.60" cy="400.61" rx="1.15" ry="0.92" fill="#231f20"/>
<ellipse cx="234.60" cy="403.81" rx="1.15" ry="0.92" fill="#231f20"/>
<ellipse cx="234.60" cy="407.01" rx="1.15" ry="0.92" fill="#231f20"/>
<ellipse cx="242.20" cy="387.27" rx="1.15" ry="0.92" fill="#231f20"/>
<ellipse cx="242.20" cy="390.47" rx="1.15" ry="0.92" fill="#231f20"/>
<ellipse cx="242.20" cy="393.67" rx="1.15" ry="0.92" fill="#231f20"/>
<ellipse cx="244.90" cy="384.11" rx="1.15" ry="0.92" fill="#231f20"/>
<ellipse cx="244.90" cy="387.31" rx="1.15" ry="0.92" fill="#231f20"/>
<ellipse cx="244.90" cy="390.51" rx="1.15" ry="0.92" fill="#231f20"/>
<ellipse cx="252.50" cy="372.96" rx="1.15" ry="0.92" fill="#231f20"/>
<ellipse cx="252.50" cy="376.16" rx="1.15" ry="0.92" fill="#231f20"/>
<ellipse cx="252.50" cy="379.36" rx="1.15" ry="0.92" fill="#231f20"/>
<ellipse cx="255.20" cy="369.19" rx="1.15" ry="0.92" fill="#231f20"/>
<ellipse cx="255.20" cy="372.39" rx="1.15" ry="0.92" fill="#231f20"/>
<ellipse cx="255.20" cy="375.59" rx="1.15" ry="0.92" fill="#231f20"/>
<ellipse cx="262.80" cy="370.22" rx="1.15" ry="0.92" fill="#231f20"/>
<ellipse cx="262.80" cy="373.42" rx="1.15" ry="0.92" fill="#231f20"/>
<ellipse cx="262.80" cy="376.62" rx="1.15" ry="0.92" fill="#231f20"/>
<ellipse cx="265.50" cy="369.19" rx="1.15" ry="0.92" fill="#231f20"/>
<ellipse cx="265.50" cy="372.39" rx="1.15" ry="0.92" fill="#231f20"/>
<ellipse cx="265.50" cy="375.59" rx="1.15" ry="0.92" fill="#231f20"/>
<line x1="296.30" y1="370.40" x2="296.30" y2="435.90" stroke="#231f20" stroke-width="1.3"/>
<line x1="293.10" y1="435.40" x2="296.30" y2="435.40" stroke="#231f20" stroke-width="1.0"/>
<text x="290.10" y="438.70" font-size="8.6" text-anchor="end" fill="#231f20" color="#231f20" textLength="4.60" lengthAdjust="spacingAndGlyphs">0</text>
<line x1="293.10" y1="423.22" x2="296.30" y2="423.22" stroke="#231f20" stroke-width="1.0"/>
<text x="290.10" y="426.52" font-size="8.6" text-anchor="end" fill="#231f20" color="#231f20" textLength="8.40" lengthAdjust="spacingAndGlyphs">20</text>
<line x1="293.10" y1="411.04" x2="296.30" y2="411.04" stroke="#231f20" stroke-width="1.0"/>
<text x="290.10" y="414.34" font-size="8.6" text-anchor="end" fill="#231f20" color="#231f20" textLength="8.40" lengthAdjust="spacingAndGlyphs">40</text>
<line x1="293.10" y1="398.86" x2="296.30" y2="398.86" stroke="#231f20" stroke-width="1.0"/>
<text x="290.10" y="402.16" font-size="8.6" text-anchor="end" fill="#231f20" color="#231f20" textLength="8.40" lengthAdjust="spacingAndGlyphs">60</text>
<line x1="293.10" y1="386.68" x2="296.30" y2="386.68" stroke="#231f20" stroke-width="1.0"/>
<text x="290.10" y="389.98" font-size="8.6" text-anchor="end" fill="#231f20" color="#231f20" textLength="8.40" lengthAdjust="spacingAndGlyphs">80</text>
<line x1="293.10" y1="374.50" x2="296.30" y2="374.50" stroke="#231f20" stroke-width="1.0"/>
<text x="290.10" y="377.80" font-size="8.6" text-anchor="end" fill="#231f20" color="#231f20" textLength="12.60" lengthAdjust="spacingAndGlyphs">100</text>
<rect x="296.75" y="425.66" width="2.70" height="9.74" fill="#c8163a"/>
<line x1="298.10" y1="424.46" x2="298.10" y2="425.66" stroke="#444" stroke-width="0.5"/>
<line x1="297.15" y1="424.46" x2="299.05" y2="424.46" stroke="#444" stroke-width="0.5"/>
<rect x="299.45" y="420.17" width="2.70" height="15.22" fill="#1a4f85"/>
<line x1="300.80" y1="418.97" x2="300.80" y2="420.17" stroke="#444" stroke-width="0.5"/>
<line x1="299.85" y1="418.97" x2="301.75" y2="418.97" stroke="#444" stroke-width="0.5"/>
<rect x="302.15" y="419.57" width="2.70" height="15.83" fill="#3cb54a"/>
<line x1="303.50" y1="418.37" x2="303.50" y2="419.57" stroke="#444" stroke-width="0.5"/>
<line x1="302.55" y1="418.37" x2="304.44" y2="418.37" stroke="#444" stroke-width="0.5"/>
<line x1="300.80" y1="435.40" x2="300.80" y2="438.00" stroke="#231f20" stroke-width="1.1"/>
<text x="300.80" y="447.20" font-size="8.2" text-anchor="middle" fill="#231f20" color="#231f20">2</text>
<rect x="307.05" y="426.87" width="2.70" height="8.53" fill="#c8163a"/>
<line x1="308.40" y1="425.67" x2="308.40" y2="426.87" stroke="#444" stroke-width="0.5"/>
<line x1="307.45" y1="425.67" x2="309.35" y2="425.67" stroke="#444" stroke-width="0.5"/>
<rect x="309.75" y="420.17" width="2.70" height="15.22" fill="#1a4f85"/>
<line x1="311.10" y1="418.97" x2="311.10" y2="420.17" stroke="#444" stroke-width="0.5"/>
<line x1="310.15" y1="418.97" x2="312.05" y2="418.97" stroke="#444" stroke-width="0.5"/>
<rect x="312.45" y="420.78" width="2.70" height="14.62" fill="#3cb54a"/>
<line x1="313.80" y1="419.58" x2="313.80" y2="420.78" stroke="#444" stroke-width="0.5"/>
<line x1="312.85" y1="419.58" x2="314.75" y2="419.58" stroke="#444" stroke-width="0.5"/>
<line x1="311.10" y1="435.40" x2="311.10" y2="438.00" stroke="#231f20" stroke-width="1.1"/>
<text x="311.10" y="447.20" font-size="8.2" text-anchor="middle" fill="#231f20" color="#231f20">4</text>
<rect x="317.35" y="429.31" width="2.70" height="6.09" fill="#c8163a"/>
<line x1="318.70" y1="428.11" x2="318.70" y2="429.31" stroke="#444" stroke-width="0.5"/>
<line x1="317.75" y1="428.11" x2="319.65" y2="428.11" stroke="#444" stroke-width="0.5"/>
<rect x="320.05" y="419.57" width="2.70" height="15.83" fill="#1a4f85"/>
<line x1="321.40" y1="418.37" x2="321.40" y2="419.57" stroke="#444" stroke-width="0.5"/>
<line x1="320.45" y1="418.37" x2="322.35" y2="418.37" stroke="#444" stroke-width="0.5"/>
<rect x="322.75" y="420.17" width="2.70" height="15.22" fill="#3cb54a"/>
<line x1="324.10" y1="418.97" x2="324.10" y2="420.17" stroke="#444" stroke-width="0.5"/>
<line x1="323.15" y1="418.97" x2="325.05" y2="418.97" stroke="#444" stroke-width="0.5"/>
<line x1="321.40" y1="435.40" x2="321.40" y2="438.00" stroke="#231f20" stroke-width="1.1"/>
<text x="321.40" y="447.20" font-size="8.2" text-anchor="middle" fill="#231f20" color="#231f20">6</text>
<rect x="327.65" y="427.48" width="2.70" height="7.92" fill="#c8163a"/>
<line x1="329.00" y1="426.28" x2="329.00" y2="427.48" stroke="#444" stroke-width="0.5"/>
<line x1="328.05" y1="426.28" x2="329.94" y2="426.28" stroke="#444" stroke-width="0.5"/>
<rect x="330.35" y="417.13" width="2.70" height="18.27" fill="#1a4f85"/>
<line x1="331.70" y1="415.93" x2="331.70" y2="417.13" stroke="#444" stroke-width="0.5"/>
<line x1="330.75" y1="415.93" x2="332.64" y2="415.93" stroke="#444" stroke-width="0.5"/>
<rect x="333.05" y="416.52" width="2.70" height="18.88" fill="#3cb54a"/>
<line x1="334.40" y1="415.32" x2="334.40" y2="416.52" stroke="#444" stroke-width="0.5"/>
<line x1="333.45" y1="415.32" x2="335.34" y2="415.32" stroke="#444" stroke-width="0.5"/>
<line x1="331.70" y1="435.40" x2="331.70" y2="438.00" stroke="#231f20" stroke-width="1.1"/>
<text x="331.70" y="447.20" font-size="8.2" text-anchor="middle" fill="#231f20" color="#231f20">8</text>
<line x1="295.80" y1="435.40" x2="337.80" y2="435.40" stroke="#231f20" stroke-width="1.3"/>
<line x1="366.20" y1="370.40" x2="366.20" y2="435.90" stroke="#231f20" stroke-width="1.3"/>
<line x1="363.00" y1="435.40" x2="366.20" y2="435.40" stroke="#231f20" stroke-width="1.0"/>
<text x="360.00" y="438.70" font-size="8.6" text-anchor="end" fill="#231f20" color="#231f20" textLength="4.60" lengthAdjust="spacingAndGlyphs">0</text>
<line x1="363.00" y1="423.22" x2="366.20" y2="423.22" stroke="#231f20" stroke-width="1.0"/>
<text x="360.00" y="426.52" font-size="8.6" text-anchor="end" fill="#231f20" color="#231f20" textLength="8.40" lengthAdjust="spacingAndGlyphs">20</text>
<line x1="363.00" y1="411.04" x2="366.20" y2="411.04" stroke="#231f20" stroke-width="1.0"/>
<text x="360.00" y="414.34" font-size="8.6" text-anchor="end" fill="#231f20" color="#231f20" textLength="8.40" lengthAdjust="spacingAndGlyphs">40</text>
<line x1="363.00" y1="398.86" x2="366.20" y2="398.86" stroke="#231f20" stroke-width="1.0"/>
<text x="360.00" y="402.16" font-size="8.6" text-anchor="end" fill="#231f20" color="#231f20" textLength="8.40" lengthAdjust="spacingAndGlyphs">60</text>
<line x1="363.00" y1="386.68" x2="366.20" y2="386.68" stroke="#231f20" stroke-width="1.0"/>
<text x="360.00" y="389.98" font-size="8.6" text-anchor="end" fill="#231f20" color="#231f20" textLength="8.40" lengthAdjust="spacingAndGlyphs">80</text>
<line x1="363.00" y1="374.50" x2="366.20" y2="374.50" stroke="#231f20" stroke-width="1.0"/>
<text x="360.00" y="377.80" font-size="8.6" text-anchor="end" fill="#231f20" color="#231f20" textLength="12.60" lengthAdjust="spacingAndGlyphs">100</text>
<rect x="366.65" y="425.90" width="2.70" height="9.50" fill="#c8163a"/>
<line x1="368.00" y1="424.70" x2="368.00" y2="425.90" stroke="#444" stroke-width="0.5"/>
<line x1="367.05" y1="424.70" x2="368.94" y2="424.70" stroke="#444" stroke-width="0.5"/>
<rect x="369.35" y="421.09" width="2.70" height="14.31" fill="#1a4f85"/>
<line x1="370.70" y1="419.89" x2="370.70" y2="421.09" stroke="#444" stroke-width="0.5"/>
<line x1="369.75" y1="419.89" x2="371.64" y2="419.89" stroke="#444" stroke-width="0.5"/>
<rect x="372.05" y="419.32" width="2.70" height="16.08" fill="#3cb54a"/>
<line x1="373.40" y1="418.12" x2="373.40" y2="419.32" stroke="#444" stroke-width="0.5"/>
<line x1="372.45" y1="418.12" x2="374.34" y2="418.12" stroke="#444" stroke-width="0.5"/>
<line x1="370.70" y1="435.40" x2="370.70" y2="438.00" stroke="#231f20" stroke-width="1.1"/>
<text x="370.70" y="447.20" font-size="8.2" text-anchor="middle" fill="#231f20" color="#231f20">2</text>
<rect x="376.95" y="427.30" width="2.70" height="8.10" fill="#c8163a"/>
<line x1="378.30" y1="426.10" x2="378.30" y2="427.30" stroke="#444" stroke-width="0.5"/>
<line x1="377.35" y1="426.10" x2="379.25" y2="426.10" stroke="#444" stroke-width="0.5"/>
<rect x="379.65" y="419.32" width="2.70" height="16.08" fill="#1a4f85"/>
<line x1="381.00" y1="418.12" x2="381.00" y2="419.32" stroke="#444" stroke-width="0.5"/>
<line x1="380.05" y1="418.12" x2="381.94" y2="418.12" stroke="#444" stroke-width="0.5"/>
<rect x="382.35" y="419.57" width="2.70" height="15.83" fill="#3cb54a"/>
<line x1="383.70" y1="418.37" x2="383.70" y2="419.57" stroke="#444" stroke-width="0.5"/>
<line x1="382.75" y1="418.37" x2="384.64" y2="418.37" stroke="#444" stroke-width="0.5"/>
<line x1="381.00" y1="435.40" x2="381.00" y2="438.00" stroke="#231f20" stroke-width="1.1"/>
<text x="381.00" y="447.20" font-size="8.2" text-anchor="middle" fill="#231f20" color="#231f20">4</text>
<rect x="387.25" y="429.37" width="2.70" height="6.03" fill="#c8163a"/>
<line x1="388.60" y1="428.17" x2="388.60" y2="429.37" stroke="#444" stroke-width="0.5"/>
<line x1="387.65" y1="428.17" x2="389.55" y2="428.17" stroke="#444" stroke-width="0.5"/>
<rect x="389.95" y="419.32" width="2.70" height="16.08" fill="#1a4f85"/>
<line x1="391.30" y1="418.12" x2="391.30" y2="419.32" stroke="#444" stroke-width="0.5"/>
<line x1="390.35" y1="418.12" x2="392.25" y2="418.12" stroke="#444" stroke-width="0.5"/>
<rect x="392.65" y="419.57" width="2.70" height="15.83" fill="#3cb54a"/>
<line x1="394.00" y1="418.37" x2="394.00" y2="419.57" stroke="#444" stroke-width="0.5"/>
<line x1="393.05" y1="418.37" x2="394.94" y2="418.37" stroke="#444" stroke-width="0.5"/>
<line x1="391.30" y1="435.40" x2="391.30" y2="438.00" stroke="#231f20" stroke-width="1.1"/>
<text x="391.30" y="447.20" font-size="8.2" text-anchor="middle" fill="#231f20" color="#231f20">6</text>
<rect x="397.55" y="427.60" width="2.70" height="7.80" fill="#c8163a"/>
<line x1="398.90" y1="426.40" x2="398.90" y2="427.60" stroke="#444" stroke-width="0.5"/>
<line x1="397.95" y1="426.40" x2="399.84" y2="426.40" stroke="#444" stroke-width="0.5"/>
<rect x="400.25" y="419.69" width="2.70" height="15.71" fill="#1a4f85"/>
<line x1="401.60" y1="418.49" x2="401.60" y2="419.69" stroke="#444" stroke-width="0.5"/>
<line x1="400.65" y1="418.49" x2="402.54" y2="418.49" stroke="#444" stroke-width="0.5"/>
<rect x="402.95" y="417.50" width="2.70" height="17.90" fill="#3cb54a"/>
<line x1="404.30" y1="416.30" x2="404.30" y2="417.50" stroke="#444" stroke-width="0.5"/>
<line x1="403.35" y1="416.30" x2="405.24" y2="416.30" stroke="#444" stroke-width="0.5"/>
<line x1="401.60" y1="435.40" x2="401.60" y2="438.00" stroke="#231f20" stroke-width="1.1"/>
<text x="401.60" y="447.20" font-size="8.2" text-anchor="middle" fill="#231f20" color="#231f20">8</text>
<line x1="365.70" y1="435.40" x2="407.70" y2="435.40" stroke="#231f20" stroke-width="1.3"/>
<line x1="433.80" y1="370.40" x2="433.80" y2="435.90" stroke="#231f20" stroke-width="1.3"/>
<line x1="430.60" y1="435.40" x2="433.80" y2="435.40" stroke="#231f20" stroke-width="1.0"/>
<text x="427.60" y="438.70" font-size="8.6" text-anchor="end" fill="#231f20" color="#231f20" textLength="4.60" lengthAdjust="spacingAndGlyphs">0</text>
<line x1="430.60" y1="423.22" x2="433.80" y2="423.22" stroke="#231f20" stroke-width="1.0"/>
<text x="427.60" y="426.52" font-size="8.6" text-anchor="end" fill="#231f20" color="#231f20" textLength="8.40" lengthAdjust="spacingAndGlyphs">20</text>
<line x1="430.60" y1="411.04" x2="433.80" y2="411.04" stroke="#231f20" stroke-width="1.0"/>
<text x="427.60" y="414.34" font-size="8.6" text-anchor="end" fill="#231f20" color="#231f20" textLength="8.40" lengthAdjust="spacingAndGlyphs">40</text>
<line x1="430.60" y1="398.86" x2="433.80" y2="398.86" stroke="#231f20" stroke-width="1.0"/>
<text x="427.60" y="402.16" font-size="8.6" text-anchor="end" fill="#231f20" color="#231f20" textLength="8.40" lengthAdjust="spacingAndGlyphs">60</text>
<line x1="430.60" y1="386.68" x2="433.80" y2="386.68" stroke="#231f20" stroke-width="1.0"/>
<text x="427.60" y="389.98" font-size="8.6" text-anchor="end" fill="#231f20" color="#231f20" textLength="8.40" lengthAdjust="spacingAndGlyphs">80</text>
<line x1="430.60" y1="374.50" x2="433.80" y2="374.50" stroke="#231f20" stroke-width="1.0"/>
<text x="427.60" y="377.80" font-size="8.6" text-anchor="end" fill="#231f20" color="#231f20" textLength="12.60" lengthAdjust="spacingAndGlyphs">100</text>
<rect x="434.25" y="427.48" width="2.70" height="7.92" fill="#c8163a"/>
<line x1="435.60" y1="426.28" x2="435.60" y2="427.48" stroke="#444" stroke-width="0.5"/>
<line x1="434.65" y1="426.28" x2="436.55" y2="426.28" stroke="#444" stroke-width="0.5"/>
<rect x="436.95" y="419.57" width="2.70" height="15.83" fill="#1a4f85"/>
<line x1="438.30" y1="418.37" x2="438.30" y2="419.57" stroke="#444" stroke-width="0.5"/>
<line x1="437.35" y1="418.37" x2="439.25" y2="418.37" stroke="#444" stroke-width="0.5"/>
<rect x="439.65" y="420.17" width="2.70" height="15.22" fill="#3cb54a"/>
<line x1="441.00" y1="418.97" x2="441.00" y2="420.17" stroke="#444" stroke-width="0.5"/>
<line x1="440.05" y1="418.97" x2="441.94" y2="418.97" stroke="#444" stroke-width="0.5"/>
<line x1="438.30" y1="435.40" x2="438.30" y2="438.00" stroke="#231f20" stroke-width="1.1"/>
<text x="438.30" y="447.20" font-size="8.2" text-anchor="middle" fill="#231f20" color="#231f20">2</text>
<rect x="444.55" y="429.31" width="2.70" height="6.09" fill="#c8163a"/>
<line x1="445.90" y1="428.11" x2="445.90" y2="429.31" stroke="#444" stroke-width="0.5"/>
<line x1="444.95" y1="428.11" x2="446.85" y2="428.11" stroke="#444" stroke-width="0.5"/>
<rect x="447.25" y="418.96" width="2.70" height="16.44" fill="#1a4f85"/>
<line x1="448.60" y1="417.76" x2="448.60" y2="418.96" stroke="#444" stroke-width="0.5"/>
<line x1="447.65" y1="417.76" x2="449.55" y2="417.76" stroke="#444" stroke-width="0.5"/>
<rect x="449.95" y="422.00" width="2.70" height="13.40" fill="#3cb54a"/>
<line x1="451.30" y1="420.80" x2="451.30" y2="422.00" stroke="#444" stroke-width="0.5"/>
<line x1="450.35" y1="420.80" x2="452.25" y2="420.80" stroke="#444" stroke-width="0.5"/>
<line x1="448.60" y1="435.40" x2="448.60" y2="438.00" stroke="#231f20" stroke-width="1.1"/>
<text x="448.60" y="447.20" font-size="8.2" text-anchor="middle" fill="#231f20" color="#231f20">4</text>
<rect x="454.85" y="430.53" width="2.70" height="4.87" fill="#c8163a"/>
<line x1="456.20" y1="429.33" x2="456.20" y2="430.53" stroke="#444" stroke-width="0.5"/>
<line x1="455.25" y1="429.33" x2="457.15" y2="429.33" stroke="#444" stroke-width="0.5"/>
<rect x="457.55" y="420.78" width="2.70" height="14.62" fill="#1a4f85"/>
<line x1="458.90" y1="419.58" x2="458.90" y2="420.78" stroke="#444" stroke-width="0.5"/>
<line x1="457.95" y1="419.58" x2="459.85" y2="419.58" stroke="#444" stroke-width="0.5"/>
<rect x="460.25" y="425.05" width="2.70" height="10.35" fill="#3cb54a"/>
<line x1="461.60" y1="423.85" x2="461.60" y2="425.05" stroke="#444" stroke-width="0.5"/>
<line x1="460.65" y1="423.85" x2="462.55" y2="423.85" stroke="#444" stroke-width="0.5"/>
<line x1="458.90" y1="435.40" x2="458.90" y2="438.00" stroke="#231f20" stroke-width="1.1"/>
<text x="458.90" y="447.20" font-size="8.2" text-anchor="middle" fill="#231f20" color="#231f20">6</text>
<rect x="465.15" y="429.92" width="2.70" height="5.48" fill="#c8163a"/>
<line x1="466.50" y1="428.72" x2="466.50" y2="429.92" stroke="#444" stroke-width="0.5"/>
<line x1="465.55" y1="428.72" x2="467.44" y2="428.72" stroke="#444" stroke-width="0.5"/>
<rect x="467.85" y="423.22" width="2.70" height="12.18" fill="#1a4f85"/>
<line x1="469.20" y1="422.02" x2="469.20" y2="423.22" stroke="#444" stroke-width="0.5"/>
<line x1="468.25" y1="422.02" x2="470.14" y2="422.02" stroke="#444" stroke-width="0.5"/>
<rect x="470.55" y="423.83" width="2.70" height="11.57" fill="#3cb54a"/>
<line x1="471.90" y1="422.63" x2="471.90" y2="423.83" stroke="#444" stroke-width="0.5"/>
<line x1="470.95" y1="422.63" x2="472.84" y2="422.63" stroke="#444" stroke-width="0.5"/>
<line x1="469.20" y1="435.40" x2="469.20" y2="438.00" stroke="#231f20" stroke-width="1.1"/>
<text x="469.20" y="447.20" font-size="8.2" text-anchor="middle" fill="#231f20" color="#231f20">8</text>
<line x1="433.30" y1="435.40" x2="475.30" y2="435.40" stroke="#231f20" stroke-width="1.3"/>
<text x="206.10" y="402.50" font-size="9.6" text-anchor="middle" fill="#231f20" color="#231f20" textLength="40.00" lengthAdjust="spacingAndGlyphs" transform="rotate(-90 206.10 402.50)">%PI positive</text>
<text x="203.80" y="447.20" font-size="8.6" text-anchor="start" fill="#231f20" color="#231f20" textLength="14.00" lengthAdjust="spacingAndGlyphs">Day</text>
<rect x="484.70" y="374.90" width="6.40" height="6.40" fill="#c8163a"/>
<text x="495.00" y="380.94" font-size="7.9" text-anchor="start" fill="#231f20" color="#231f20" textLength="17.50" lengthAdjust="spacingAndGlyphs">–Dox</text>
<rect x="484.70" y="386.00" width="6.40" height="6.40" fill="#1a4f85"/>
<text x="495.00" y="392.04" font-size="7.9" text-anchor="start" fill="#231f20" color="#231f20" textLength="18.50" lengthAdjust="spacingAndGlyphs">+Dox</text>
<rect x="484.70" y="396.80" width="6.40" height="6.40" fill="#3cb54a"/>
<text x="495.00" y="402.84" font-size="7.9" text-anchor="start" fill="#231f20" color="#231f20" textLength="11.80" lengthAdjust="spacingAndGlyphs">Len</text>
<text x="7.60" y="471.30" font-size="12" text-anchor="start" fill="#000" color="#000" font-weight="bold">F</text>
<text x="39.50" y="481.80" font-size="10.5" text-anchor="start" fill="#231f20" color="#231f20" textLength="100.50" lengthAdjust="spacingAndGlyphs">Dox-induced ZFP91-KO</text>
<line x1="37.50" y1="485.00" x2="140.00" y2="485.00" stroke="#555" stroke-width="1.3"/>
<text x="54.30" y="495.20" font-size="10.5" text-anchor="middle" fill="#231f20" color="#231f20" textLength="17.50" lengthAdjust="spacingAndGlyphs">RG2</text>
<text x="126.00" y="495.20" font-size="10.5" text-anchor="middle" fill="#231f20" color="#231f20" textLength="18.00" lengthAdjust="spacingAndGlyphs">RG3</text>
<text x="13.75" y="533.80" font-size="10.4" text-anchor="middle" fill="#231f20" color="#231f20" textLength="32.50" lengthAdjust="spacingAndGlyphs" transform="rotate(-90 13.75 533.80)">Cell count</text>
<text x="7.00" y="576.30" font-size="8.6" text-anchor="start" fill="#231f20" color="#231f20" textLength="13.50" lengthAdjust="spacingAndGlyphs">Day</text>
<line x1="33.40" y1="500.00" x2="33.40" y2="564.30" stroke="#231f20" stroke-width="1.25"/>
<line x1="30.10" y1="564.00" x2="33.40" y2="564.00" stroke="#231f20" stroke-width="1.0"/>
<text x="27.50" y="563.70" font-size="6.0" text-anchor="end" fill="#231f20" color="#231f20">5</text>
<text x="24.40" y="567.80" font-size="8.6" text-anchor="end" fill="#231f20" color="#231f20" textLength="8.10" lengthAdjust="spacingAndGlyphs">10</text>
<line x1="31.40" y1="558.23" x2="33.40" y2="558.23" stroke="#231f20" stroke-width="0.6"/>
<line x1="31.40" y1="554.86" x2="33.40" y2="554.86" stroke="#231f20" stroke-width="0.6"/>
<line x1="31.40" y1="552.46" x2="33.40" y2="552.46" stroke="#231f20" stroke-width="0.6"/>
<line x1="31.40" y1="550.60" x2="33.40" y2="550.60" stroke="#231f20" stroke-width="0.6"/>
<line x1="31.40" y1="549.09" x2="33.40" y2="549.09" stroke="#231f20" stroke-width="0.6"/>
<line x1="31.40" y1="547.80" x2="33.40" y2="547.80" stroke="#231f20" stroke-width="0.6"/>
<line x1="31.40" y1="546.69" x2="33.40" y2="546.69" stroke="#231f20" stroke-width="0.6"/>
<line x1="31.40" y1="545.71" x2="33.40" y2="545.71" stroke="#231f20" stroke-width="0.6"/>
<line x1="30.10" y1="544.83" x2="33.40" y2="544.83" stroke="#231f20" stroke-width="1.0"/>
<text x="27.50" y="544.53" font-size="6.0" text-anchor="end" fill="#231f20" color="#231f20">6</text>
<text x="24.40" y="548.63" font-size="8.6" text-anchor="end" fill="#231f20" color="#231f20" textLength="8.10" lengthAdjust="spacingAndGlyphs">10</text>
<line x1="31.40" y1="539.06" x2="33.40" y2="539.06" stroke="#231f20" stroke-width="0.6"/>
<line x1="31.40" y1="535.69" x2="33.40" y2="535.69" stroke="#231f20" stroke-width="0.6"/>
<line x1="31.40" y1="533.29" x2="33.40" y2="533.29" stroke="#231f20" stroke-width="0.6"/>
<line x1="31.40" y1="531.44" x2="33.40" y2="531.44" stroke="#231f20" stroke-width="0.6"/>
<line x1="31.40" y1="529.92" x2="33.40" y2="529.92" stroke="#231f20" stroke-width="0.6"/>
<line x1="31.40" y1="528.64" x2="33.40" y2="528.64" stroke="#231f20" stroke-width="0.6"/>
<line x1="31.40" y1="527.52" x2="33.40" y2="527.52" stroke="#231f20" stroke-width="0.6"/>
<line x1="31.40" y1="526.54" x2="33.40" y2="526.54" stroke="#231f20" stroke-width="0.6"/>
<line x1="30.10" y1="525.67" x2="33.40" y2="525.67" stroke="#231f20" stroke-width="1.0"/>
<text x="27.50" y="525.37" font-size="6.0" text-anchor="end" fill="#231f20" color="#231f20">7</text>
<text x="24.40" y="529.47" font-size="8.6" text-anchor="end" fill="#231f20" color="#231f20" textLength="8.10" lengthAdjust="spacingAndGlyphs">10</text>
<line x1="31.40" y1="519.90" x2="33.40" y2="519.90" stroke="#231f20" stroke-width="0.6"/>
<line x1="31.40" y1="516.52" x2="33.40" y2="516.52" stroke="#231f20" stroke-width="0.6"/>
<line x1="31.40" y1="514.13" x2="33.40" y2="514.13" stroke="#231f20" stroke-width="0.6"/>
<line x1="31.40" y1="512.27" x2="33.40" y2="512.27" stroke="#231f20" stroke-width="0.6"/>
<line x1="31.40" y1="510.75" x2="33.40" y2="510.75" stroke="#231f20" stroke-width="0.6"/>
<line x1="31.40" y1="509.47" x2="33.40" y2="509.47" stroke="#231f20" stroke-width="0.6"/>
<line x1="31.40" y1="508.36" x2="33.40" y2="508.36" stroke="#231f20" stroke-width="0.6"/>
<line x1="31.40" y1="507.38" x2="33.40" y2="507.38" stroke="#231f20" stroke-width="0.6"/>
<line x1="30.10" y1="506.50" x2="33.40" y2="506.50" stroke="#231f20" stroke-width="1.0"/>
<text x="27.50" y="506.20" font-size="6.0" text-anchor="end" fill="#231f20" color="#231f20">8</text>
<text x="24.40" y="510.30" font-size="8.6" text-anchor="end" fill="#231f20" color="#231f20" textLength="8.10" lengthAdjust="spacingAndGlyphs">10</text>
<line x1="32.90" y1="563.80" x2="78.40" y2="563.80" stroke="#231f20" stroke-width="1.25"/>
<line x1="33.40" y1="563.80" x2="33.40" y2="566.60" stroke="#231f20" stroke-width="1.15"/>
<text x="33.40" y="576.30" font-size="8.4" text-anchor="middle" fill="#231f20" color="#231f20">0</text>
<line x1="43.60" y1="563.80" x2="43.60" y2="566.60" stroke="#231f20" stroke-width="1.15"/>
<text x="43.60" y="576.30" font-size="8.4" text-anchor="middle" fill="#231f20" color="#231f20">2</text>
<line x1="53.80" y1="563.80" x2="53.80" y2="566.60" stroke="#231f20" stroke-width="1.15"/>
<text x="53.80" y="576.30" font-size="8.4" text-anchor="middle" fill="#231f20" color="#231f20">4</text>
<line x1="64.00" y1="563.80" x2="64.00" y2="566.60" stroke="#231f20" stroke-width="1.15"/>
<text x="64.00" y="576.30" font-size="8.4" text-anchor="middle" fill="#231f20" color="#231f20">6</text>
<line x1="74.20" y1="563.80" x2="74.20" y2="566.60" stroke="#231f20" stroke-width="1.15"/>
<text x="74.20" y="576.30" font-size="8.4" text-anchor="middle" fill="#231f20" color="#231f20">8</text>
<polyline points="33.40,558.00 43.60,547.50 53.80,540.50 64.00,526.25 74.20,513.75" fill="none" stroke="#c8163a" stroke-width="1.6" stroke-dasharray="2.2,1.6" stroke-linejoin="round"/>
<circle cx="33.40" cy="558.00" r="2.40" fill="#c8163a"/>
<circle cx="43.60" cy="547.50" r="2.40" fill="#c8163a"/>
<circle cx="53.80" cy="540.50" r="2.40" fill="#c8163a"/>
<circle cx="64.00" cy="526.25" r="2.40" fill="#c8163a"/>
<circle cx="74.20" cy="513.75" r="2.40" fill="#c8163a"/>
<polyline points="33.40,558.00 43.60,550.00 53.80,544.50 64.00,536.25 74.20,526.25" fill="none" stroke="#3cb54a" stroke-width="1.6" stroke-dasharray="2.2,1.6" stroke-linejoin="round"/>
<rect x="31.20" y="555.80" width="4.40" height="4.40" fill="#3cb54a"/>
<rect x="41.40" y="547.80" width="4.40" height="4.40" fill="#3cb54a"/>
<rect x="51.60" y="542.30" width="4.40" height="4.40" fill="#3cb54a"/>
<rect x="61.80" y="534.05" width="4.40" height="4.40" fill="#3cb54a"/>
<rect x="72.00" y="524.05" width="4.40" height="4.40" fill="#3cb54a"/>
<polyline points="33.40,558.00 43.60,551.25 53.80,551.25 64.00,548.75 74.20,548.75" fill="none" stroke="#f7941d" stroke-width="1.6" stroke-linejoin="round"/>
<polygon points="30.88,558.00 33.40,555.48 35.92,558.00 33.40,560.52" fill="#f7941d"/>
<polygon points="41.08,551.25 43.60,548.73 46.12,551.25 43.60,553.77" fill="#f7941d"/>
<polygon points="51.28,551.25 53.80,548.73 56.32,551.25 53.80,553.77" fill="#f7941d"/>
<polygon points="61.48,548.75 64.00,546.23 66.52,548.75 64.00,551.27" fill="#f7941d"/>
<polygon points="71.68,548.75 74.20,546.23 76.72,548.75 74.20,551.27" fill="#f7941d"/>
<polyline points="33.40,558.00 43.60,551.25 53.80,549.50 64.00,545.50 74.20,542.50" fill="none" stroke="#4b206f" stroke-width="1.6" stroke-linejoin="round"/>
<rect x="31.20" y="555.80" width="4.40" height="4.40" fill="#4b206f"/>
<rect x="41.40" y="549.05" width="4.40" height="4.40" fill="#4b206f"/>
<rect x="51.60" y="547.30" width="4.40" height="4.40" fill="#4b206f"/>
<rect x="61.80" y="543.30" width="4.40" height="4.40" fill="#4b206f"/>
<rect x="72.00" y="540.30" width="4.40" height="4.40" fill="#4b206f"/>
<polyline points="33.40,558.00 43.60,549.50 53.80,543.00 64.00,532.50 74.20,522.50" fill="none" stroke="#1a4f85" stroke-width="1.6" stroke-linejoin="round"/>
<circle cx="33.40" cy="558.00" r="2.40" fill="#1a4f85"/>
<circle cx="43.60" cy="549.50" r="2.40" fill="#1a4f85"/>
<circle cx="53.80" cy="543.00" r="2.40" fill="#1a4f85"/>
<circle cx="64.00" cy="532.50" r="2.40" fill="#1a4f85"/>
<circle cx="74.20" cy="522.50" r="2.40" fill="#1a4f85"/>
<line x1="77.50" y1="527.50" x2="77.50" y2="542.00" stroke="#2a2a2a" stroke-width="1.1"/>
<ellipse cx="81.20" cy="531.55" rx="1.25" ry="1.00" fill="#231f20"/>
<ellipse cx="81.20" cy="534.75" rx="1.25" ry="1.00" fill="#231f20"/>
<ellipse cx="81.20" cy="537.95" rx="1.25" ry="1.00" fill="#231f20"/>
<line x1="104.60" y1="500.00" x2="104.60" y2="564.30" stroke="#231f20" stroke-width="1.25"/>
<line x1="101.30" y1="564.00" x2="104.60" y2="564.00" stroke="#231f20" stroke-width="1.0"/>
<text x="98.70" y="563.70" font-size="6.0" text-anchor="end" fill="#231f20" color="#231f20">5</text>
<text x="95.60" y="567.80" font-size="8.6" text-anchor="end" fill="#231f20" color="#231f20" textLength="8.10" lengthAdjust="spacingAndGlyphs">10</text>
<line x1="102.60" y1="558.23" x2="104.60" y2="558.23" stroke="#231f20" stroke-width="0.6"/>
<line x1="102.60" y1="554.86" x2="104.60" y2="554.86" stroke="#231f20" stroke-width="0.6"/>
<line x1="102.60" y1="552.46" x2="104.60" y2="552.46" stroke="#231f20" stroke-width="0.6"/>
<line x1="102.60" y1="550.60" x2="104.60" y2="550.60" stroke="#231f20" stroke-width="0.6"/>
<line x1="102.60" y1="549.09" x2="104.60" y2="549.09" stroke="#231f20" stroke-width="0.6"/>
<line x1="102.60" y1="547.80" x2="104.60" y2="547.80" stroke="#231f20" stroke-width="0.6"/>
<line x1="102.60" y1="546.69" x2="104.60" y2="546.69" stroke="#231f20" stroke-width="0.6"/>
<line x1="102.60" y1="545.71" x2="104.60" y2="545.71" stroke="#231f20" stroke-width="0.6"/>
<line x1="101.30" y1="544.83" x2="104.60" y2="544.83" stroke="#231f20" stroke-width="1.0"/>
<text x="98.70" y="544.53" font-size="6.0" text-anchor="end" fill="#231f20" color="#231f20">6</text>
<text x="95.60" y="548.63" font-size="8.6" text-anchor="end" fill="#231f20" color="#231f20" textLength="8.10" lengthAdjust="spacingAndGlyphs">10</text>
<line x1="102.60" y1="539.06" x2="104.60" y2="539.06" stroke="#231f20" stroke-width="0.6"/>
<line x1="102.60" y1="535.69" x2="104.60" y2="535.69" stroke="#231f20" stroke-width="0.6"/>
<line x1="102.60" y1="533.29" x2="104.60" y2="533.29" stroke="#231f20" stroke-width="0.6"/>
<line x1="102.60" y1="531.44" x2="104.60" y2="531.44" stroke="#231f20" stroke-width="0.6"/>
<line x1="102.60" y1="529.92" x2="104.60" y2="529.92" stroke="#231f20" stroke-width="0.6"/>
<line x1="102.60" y1="528.64" x2="104.60" y2="528.64" stroke="#231f20" stroke-width="0.6"/>
<line x1="102.60" y1="527.52" x2="104.60" y2="527.52" stroke="#231f20" stroke-width="0.6"/>
<line x1="102.60" y1="526.54" x2="104.60" y2="526.54" stroke="#231f20" stroke-width="0.6"/>
<line x1="101.30" y1="525.67" x2="104.60" y2="525.67" stroke="#231f20" stroke-width="1.0"/>
<text x="98.70" y="525.37" font-size="6.0" text-anchor="end" fill="#231f20" color="#231f20">7</text>
<text x="95.60" y="529.47" font-size="8.6" text-anchor="end" fill="#231f20" color="#231f20" textLength="8.10" lengthAdjust="spacingAndGlyphs">10</text>
<line x1="102.60" y1="519.90" x2="104.60" y2="519.90" stroke="#231f20" stroke-width="0.6"/>
<line x1="102.60" y1="516.52" x2="104.60" y2="516.52" stroke="#231f20" stroke-width="0.6"/>
<line x1="102.60" y1="514.13" x2="104.60" y2="514.13" stroke="#231f20" stroke-width="0.6"/>
<line x1="102.60" y1="512.27" x2="104.60" y2="512.27" stroke="#231f20" stroke-width="0.6"/>
<line x1="102.60" y1="510.75" x2="104.60" y2="510.75" stroke="#231f20" stroke-width="0.6"/>
<line x1="102.60" y1="509.47" x2="104.60" y2="509.47" stroke="#231f20" stroke-width="0.6"/>
<line x1="102.60" y1="508.36" x2="104.60" y2="508.36" stroke="#231f20" stroke-width="0.6"/>
<line x1="102.60" y1="507.38" x2="104.60" y2="507.38" stroke="#231f20" stroke-width="0.6"/>
<line x1="101.30" y1="506.50" x2="104.60" y2="506.50" stroke="#231f20" stroke-width="1.0"/>
<text x="98.70" y="506.20" font-size="6.0" text-anchor="end" fill="#231f20" color="#231f20">8</text>
<text x="95.60" y="510.30" font-size="8.6" text-anchor="end" fill="#231f20" color="#231f20" textLength="8.10" lengthAdjust="spacingAndGlyphs">10</text>
<line x1="104.10" y1="563.80" x2="149.60" y2="563.80" stroke="#231f20" stroke-width="1.25"/>
<line x1="104.60" y1="563.80" x2="104.60" y2="566.60" stroke="#231f20" stroke-width="1.15"/>
<text x="104.60" y="576.30" font-size="8.4" text-anchor="middle" fill="#231f20" color="#231f20">0</text>
<line x1="114.80" y1="563.80" x2="114.80" y2="566.60" stroke="#231f20" stroke-width="1.15"/>
<text x="114.80" y="576.30" font-size="8.4" text-anchor="middle" fill="#231f20" color="#231f20">2</text>
<line x1="125.00" y1="563.80" x2="125.00" y2="566.60" stroke="#231f20" stroke-width="1.15"/>
<text x="125.00" y="576.30" font-size="8.4" text-anchor="middle" fill="#231f20" color="#231f20">4</text>
<line x1="135.20" y1="563.80" x2="135.20" y2="566.60" stroke="#231f20" stroke-width="1.15"/>
<text x="135.20" y="576.30" font-size="8.4" text-anchor="middle" fill="#231f20" color="#231f20">6</text>
<line x1="145.40" y1="563.80" x2="145.40" y2="566.60" stroke="#231f20" stroke-width="1.15"/>
<text x="145.40" y="576.30" font-size="8.4" text-anchor="middle" fill="#231f20" color="#231f20">8</text>
<polyline points="104.60,558.00 114.80,548.00 125.00,540.50 135.20,526.25 145.40,513.75" fill="none" stroke="#c8163a" stroke-width="1.6" stroke-dasharray="2.2,1.6" stroke-linejoin="round"/>
<circle cx="104.60" cy="558.00" r="2.40" fill="#c8163a"/>
<circle cx="114.80" cy="548.00" r="2.40" fill="#c8163a"/>
<circle cx="125.00" cy="540.50" r="2.40" fill="#c8163a"/>
<circle cx="135.20" cy="526.25" r="2.40" fill="#c8163a"/>
<circle cx="145.40" cy="513.75" r="2.40" fill="#c8163a"/>
<polyline points="104.60,558.00 114.80,550.50 125.00,545.00 135.20,535.50 145.40,523.00" fill="none" stroke="#3cb54a" stroke-width="1.6" stroke-dasharray="2.2,1.6" stroke-linejoin="round"/>
<rect x="102.40" y="555.80" width="4.40" height="4.40" fill="#3cb54a"/>
<rect x="112.60" y="548.30" width="4.40" height="4.40" fill="#3cb54a"/>
<rect x="122.80" y="542.80" width="4.40" height="4.40" fill="#3cb54a"/>
<rect x="133.00" y="533.30" width="4.40" height="4.40" fill="#3cb54a"/>
<rect x="143.20" y="520.80" width="4.40" height="4.40" fill="#3cb54a"/>
<polyline points="104.60,558.00 114.80,552.50 125.00,551.25 135.20,548.75 145.40,548.00" fill="none" stroke="#f7941d" stroke-width="1.6" stroke-linejoin="round"/>
<polygon points="102.08,558.00 104.60,555.48 107.12,558.00 104.60,560.52" fill="#f7941d"/>
<polygon points="112.28,552.50 114.80,549.98 117.32,552.50 114.80,555.02" fill="#f7941d"/>
<polygon points="122.48,551.25 125.00,548.73 127.52,551.25 125.00,553.77" fill="#f7941d"/>
<polygon points="132.68,548.75 135.20,546.23 137.72,548.75 135.20,551.27" fill="#f7941d"/>
<polygon points="142.88,548.00 145.40,545.48 147.92,548.00 145.40,550.52" fill="#f7941d"/>
<polyline points="104.60,558.00 114.80,552.50 125.00,551.25 135.20,546.75 145.40,543.00" fill="none" stroke="#4b206f" stroke-width="1.6" stroke-linejoin="round"/>
<rect x="102.40" y="555.80" width="4.40" height="4.40" fill="#4b206f"/>
<rect x="112.60" y="550.30" width="4.40" height="4.40" fill="#4b206f"/>
<rect x="122.80" y="549.05" width="4.40" height="4.40" fill="#4b206f"/>
<rect x="133.00" y="544.55" width="4.40" height="4.40" fill="#4b206f"/>
<rect x="143.20" y="540.80" width="4.40" height="4.40" fill="#4b206f"/>
<polyline points="104.60,558.00 114.80,550.00 125.00,543.00 135.20,532.00 145.40,520.75" fill="none" stroke="#1a4f85" stroke-width="1.6" stroke-linejoin="round"/>
<circle cx="104.60" cy="558.00" r="2.40" fill="#1a4f85"/>
<circle cx="114.80" cy="550.00" r="2.40" fill="#1a4f85"/>
<circle cx="125.00" cy="543.00" r="2.40" fill="#1a4f85"/>
<circle cx="135.20" cy="532.00" r="2.40" fill="#1a4f85"/>
<circle cx="145.40" cy="520.75" r="2.40" fill="#1a4f85"/>
<line x1="150.00" y1="525.00" x2="150.00" y2="542.00" stroke="#2a2a2a" stroke-width="1.1"/>
<ellipse cx="153.70" cy="530.30" rx="1.25" ry="1.00" fill="#231f20"/>
<ellipse cx="153.70" cy="533.50" rx="1.25" ry="1.00" fill="#231f20"/>
<ellipse cx="153.70" cy="536.70" rx="1.25" ry="1.00" fill="#231f20"/>
<line x1="156.10" y1="517.00" x2="164.50" y2="517.00" stroke="#c8163a" stroke-width="1.3" stroke-dasharray="2,1.4"/>
<circle cx="160.30" cy="517.00" r="2.52" fill="#c8163a"/>
<text x="166.30" y="519.81" font-size="7.8" text-anchor="start" fill="#231f20" color="#231f20" textLength="18.00" lengthAdjust="spacingAndGlyphs">–Dox</text>
<line x1="156.10" y1="527.30" x2="164.50" y2="527.30" stroke="#1a4f85" stroke-width="1.3"/>
<circle cx="160.30" cy="527.30" r="2.52" fill="#1a4f85"/>
<text x="166.30" y="530.11" font-size="7.8" text-anchor="start" fill="#231f20" color="#231f20" textLength="18.50" lengthAdjust="spacingAndGlyphs">+Dox</text>
<line x1="156.10" y1="537.60" x2="164.50" y2="537.60" stroke="#3cb54a" stroke-width="1.3" stroke-dasharray="2,1.4"/>
<rect x="157.99" y="535.29" width="4.62" height="4.62" fill="#3cb54a"/>
<text x="166.30" y="540.41" font-size="7.8" text-anchor="start" fill="#231f20" color="#231f20" textLength="17.00" lengthAdjust="spacingAndGlyphs">+Len</text>
<line x1="156.10" y1="547.90" x2="164.50" y2="547.90" stroke="#4b206f" stroke-width="1.3"/>
<rect x="157.99" y="545.59" width="4.62" height="4.62" fill="#4b206f"/>
<text x="166.30" y="550.71" font-size="7.8" text-anchor="start" fill="#231f20" color="#231f20" textLength="39.50" lengthAdjust="spacingAndGlyphs">+Dox + Len</text>
<line x1="156.10" y1="558.20" x2="164.50" y2="558.20" stroke="#f7941d" stroke-width="1.3"/>
<polygon points="157.36,558.20 160.30,555.26 163.24,558.20 160.30,561.14" fill="#f7941d"/>
<text x="166.30" y="561.01" font-size="7.8" text-anchor="start" fill="#231f20" color="#231f20" textLength="19.00" lengthAdjust="spacingAndGlyphs">+Pom</text>
<line x1="33.70" y1="607.00" x2="33.70" y2="671.80" stroke="#231f20" stroke-width="1.3"/>
<line x1="30.50" y1="671.30" x2="33.70" y2="671.30" stroke="#231f20" stroke-width="1.0"/>
<text x="27.50" y="674.60" font-size="8.6" text-anchor="end" fill="#231f20" color="#231f20" textLength="4.60" lengthAdjust="spacingAndGlyphs">0</text>
<line x1="30.50" y1="659.30" x2="33.70" y2="659.30" stroke="#231f20" stroke-width="1.0"/>
<text x="27.50" y="662.60" font-size="8.6" text-anchor="end" fill="#231f20" color="#231f20" textLength="8.40" lengthAdjust="spacingAndGlyphs">20</text>
<line x1="30.50" y1="647.30" x2="33.70" y2="647.30" stroke="#231f20" stroke-width="1.0"/>
<text x="27.50" y="650.60" font-size="8.6" text-anchor="end" fill="#231f20" color="#231f20" textLength="8.40" lengthAdjust="spacingAndGlyphs">40</text>
<line x1="30.50" y1="635.30" x2="33.70" y2="635.30" stroke="#231f20" stroke-width="1.0"/>
<text x="27.50" y="638.60" font-size="8.6" text-anchor="end" fill="#231f20" color="#231f20" textLength="8.40" lengthAdjust="spacingAndGlyphs">60</text>
<line x1="30.50" y1="623.30" x2="33.70" y2="623.30" stroke="#231f20" stroke-width="1.0"/>
<text x="27.50" y="626.60" font-size="8.6" text-anchor="end" fill="#231f20" color="#231f20" textLength="8.40" lengthAdjust="spacingAndGlyphs">80</text>
<line x1="30.50" y1="611.30" x2="33.70" y2="611.30" stroke="#231f20" stroke-width="1.0"/>
<text x="27.50" y="614.60" font-size="8.6" text-anchor="end" fill="#231f20" color="#231f20" textLength="12.60" lengthAdjust="spacingAndGlyphs">100</text>
<rect x="34.30" y="664.70" width="1.80" height="6.60" fill="#c8163a"/>
<rect x="36.10" y="663.50" width="1.80" height="7.80" fill="#1a4f85"/>
<rect x="37.90" y="664.70" width="1.80" height="6.60" fill="#3cb54a"/>
<rect x="39.70" y="662.30" width="1.80" height="9.00" fill="#4b206f"/>
<rect x="41.50" y="662.30" width="1.80" height="9.00" fill="#f7941d"/>
<line x1="38.80" y1="671.30" x2="38.80" y2="673.90" stroke="#231f20" stroke-width="1.1"/>
<text x="38.80" y="683.40" font-size="8.2" text-anchor="middle" fill="#231f20" color="#231f20">2</text>
<rect x="44.50" y="662.30" width="1.80" height="9.00" fill="#c8163a"/>
<rect x="46.30" y="661.10" width="1.80" height="10.20" fill="#1a4f85"/>
<rect x="48.10" y="658.40" width="1.80" height="12.90" fill="#3cb54a"/>
<rect x="49.90" y="653.90" width="1.80" height="17.40" fill="#4b206f"/>
<rect x="51.70" y="648.50" width="1.80" height="22.80" fill="#f7941d"/>
<line x1="49.00" y1="671.30" x2="49.00" y2="673.90" stroke="#231f20" stroke-width="1.1"/>
<text x="49.00" y="683.40" font-size="8.2" text-anchor="middle" fill="#231f20" color="#231f20">4</text>
<rect x="54.70" y="662.30" width="1.80" height="9.00" fill="#c8163a"/>
<rect x="56.50" y="662.30" width="1.80" height="9.00" fill="#1a4f85"/>
<rect x="58.30" y="655.70" width="1.80" height="15.60" fill="#3cb54a"/>
<rect x="60.10" y="644.90" width="1.80" height="26.40" fill="#4b206f"/>
<rect x="61.90" y="635.90" width="1.80" height="35.40" fill="#f7941d"/>
<line x1="59.20" y1="671.30" x2="59.20" y2="673.90" stroke="#231f20" stroke-width="1.1"/>
<text x="59.20" y="683.40" font-size="8.2" text-anchor="middle" fill="#231f20" color="#231f20">6</text>
<rect x="64.90" y="662.30" width="1.80" height="9.00" fill="#c8163a"/>
<rect x="66.70" y="662.30" width="1.80" height="9.00" fill="#1a4f85"/>
<rect x="68.50" y="654.50" width="1.80" height="16.80" fill="#3cb54a"/>
<rect x="70.30" y="637.10" width="1.80" height="34.20" fill="#4b206f"/>
<rect x="72.10" y="629.90" width="1.80" height="41.40" fill="#f7941d"/>
<line x1="69.40" y1="671.30" x2="69.40" y2="673.90" stroke="#231f20" stroke-width="1.1"/>
<text x="69.40" y="683.40" font-size="8.2" text-anchor="middle" fill="#231f20" color="#231f20">8</text>
<line x1="33.20" y1="671.30" x2="76.70" y2="671.30" stroke="#231f20" stroke-width="1.3"/>
<ellipse cx="50.80" cy="647.80" rx="1.15" ry="0.92" fill="#231f20"/>
<ellipse cx="59.20" cy="649.60" rx="1.15" ry="0.92" fill="#231f20"/>
<ellipse cx="61.00" cy="632.40" rx="1.15" ry="0.92" fill="#231f20"/>
<ellipse cx="61.00" cy="635.60" rx="1.15" ry="0.92" fill="#231f20"/>
<ellipse cx="61.00" cy="638.80" rx="1.15" ry="0.92" fill="#231f20"/>
<ellipse cx="62.80" cy="623.40" rx="1.15" ry="0.92" fill="#231f20"/>
<ellipse cx="62.80" cy="626.60" rx="1.15" ry="0.92" fill="#231f20"/>
<ellipse cx="62.80" cy="629.80" rx="1.15" ry="0.92" fill="#231f20"/>
<ellipse cx="69.40" cy="645.20" rx="1.15" ry="0.92" fill="#231f20"/>
<ellipse cx="69.40" cy="648.40" rx="1.15" ry="0.92" fill="#231f20"/>
<ellipse cx="71.20" cy="624.60" rx="1.15" ry="0.92" fill="#231f20"/>
<ellipse cx="71.20" cy="627.80" rx="1.15" ry="0.92" fill="#231f20"/>
<ellipse cx="71.20" cy="631.00" rx="1.15" ry="0.92" fill="#231f20"/>
<ellipse cx="73.00" cy="617.40" rx="1.15" ry="0.92" fill="#231f20"/>
<ellipse cx="73.00" cy="620.60" rx="1.15" ry="0.92" fill="#231f20"/>
<ellipse cx="73.00" cy="623.80" rx="1.15" ry="0.92" fill="#231f20"/>
<line x1="104.70" y1="607.00" x2="104.70" y2="671.80" stroke="#231f20" stroke-width="1.3"/>
<line x1="101.50" y1="671.30" x2="104.70" y2="671.30" stroke="#231f20" stroke-width="1.0"/>
<text x="98.50" y="674.60" font-size="8.6" text-anchor="end" fill="#231f20" color="#231f20" textLength="4.60" lengthAdjust="spacingAndGlyphs">0</text>
<line x1="101.50" y1="659.30" x2="104.70" y2="659.30" stroke="#231f20" stroke-width="1.0"/>
<text x="98.50" y="662.60" font-size="8.6" text-anchor="end" fill="#231f20" color="#231f20" textLength="8.40" lengthAdjust="spacingAndGlyphs">20</text>
<line x1="101.50" y1="647.30" x2="104.70" y2="647.30" stroke="#231f20" stroke-width="1.0"/>
<text x="98.50" y="650.60" font-size="8.6" text-anchor="end" fill="#231f20" color="#231f20" textLength="8.40" lengthAdjust="spacingAndGlyphs">40</text>
<line x1="101.50" y1="635.30" x2="104.70" y2="635.30" stroke="#231f20" stroke-width="1.0"/>
<text x="98.50" y="638.60" font-size="8.6" text-anchor="end" fill="#231f20" color="#231f20" textLength="8.40" lengthAdjust="spacingAndGlyphs">60</text>
<line x1="101.50" y1="623.30" x2="104.70" y2="623.30" stroke="#231f20" stroke-width="1.0"/>
<text x="98.50" y="626.60" font-size="8.6" text-anchor="end" fill="#231f20" color="#231f20" textLength="8.40" lengthAdjust="spacingAndGlyphs">80</text>
<line x1="101.50" y1="611.30" x2="104.70" y2="611.30" stroke="#231f20" stroke-width="1.0"/>
<text x="98.50" y="614.60" font-size="8.6" text-anchor="end" fill="#231f20" color="#231f20" textLength="12.60" lengthAdjust="spacingAndGlyphs">100</text>
<rect x="105.30" y="665.90" width="1.80" height="5.40" fill="#c8163a"/>
<rect x="107.10" y="665.00" width="1.80" height="6.30" fill="#1a4f85"/>
<rect x="108.90" y="665.60" width="1.80" height="5.70" fill="#3cb54a"/>
<rect x="110.70" y="663.50" width="1.80" height="7.80" fill="#4b206f"/>
<rect x="112.50" y="664.10" width="1.80" height="7.20" fill="#f7941d"/>
<line x1="109.80" y1="671.30" x2="109.80" y2="673.90" stroke="#231f20" stroke-width="1.1"/>
<text x="109.80" y="683.40" font-size="8.2" text-anchor="middle" fill="#231f20" color="#231f20">2</text>
<rect x="115.50" y="664.10" width="1.80" height="7.20" fill="#c8163a"/>
<rect x="117.30" y="662.00" width="1.80" height="9.30" fill="#1a4f85"/>
<rect x="119.10" y="659.60" width="1.80" height="11.70" fill="#3cb54a"/>
<rect x="120.90" y="652.70" width="1.80" height="18.60" fill="#4b206f"/>
<rect x="122.70" y="649.40" width="1.80" height="21.90" fill="#f7941d"/>
<line x1="120.00" y1="671.30" x2="120.00" y2="673.90" stroke="#231f20" stroke-width="1.1"/>
<text x="120.00" y="683.40" font-size="8.2" text-anchor="middle" fill="#231f20" color="#231f20">4</text>
<rect x="125.70" y="663.08" width="1.80" height="8.22" fill="#c8163a"/>
<rect x="127.50" y="662.66" width="1.80" height="8.64" fill="#1a4f85"/>
<rect x="129.30" y="656.30" width="1.80" height="15.00" fill="#3cb54a"/>
<rect x="131.10" y="643.70" width="1.80" height="27.60" fill="#4b206f"/>
<rect x="132.90" y="634.70" width="1.80" height="36.60" fill="#f7941d"/>
<line x1="130.20" y1="671.30" x2="130.20" y2="673.90" stroke="#231f20" stroke-width="1.1"/>
<text x="130.20" y="683.40" font-size="8.2" text-anchor="middle" fill="#231f20" color="#231f20">6</text>
<rect x="135.90" y="663.08" width="1.80" height="8.22" fill="#c8163a"/>
<rect x="137.70" y="662.30" width="1.80" height="9.00" fill="#1a4f85"/>
<rect x="139.50" y="656.30" width="1.80" height="15.00" fill="#3cb54a"/>
<rect x="141.30" y="641.00" width="1.80" height="30.30" fill="#4b206f"/>
<rect x="143.10" y="629.90" width="1.80" height="41.40" fill="#f7941d"/>
<line x1="140.40" y1="671.30" x2="140.40" y2="673.90" stroke="#231f20" stroke-width="1.1"/>
<text x="140.40" y="683.40" font-size="8.2" text-anchor="middle" fill="#231f20" color="#231f20">8</text>
<line x1="104.20" y1="671.30" x2="147.70" y2="671.30" stroke="#231f20" stroke-width="1.3"/>
<ellipse cx="132.00" cy="631.20" rx="1.15" ry="0.92" fill="#231f20"/>
<ellipse cx="132.00" cy="634.40" rx="1.15" ry="0.92" fill="#231f20"/>
<ellipse cx="132.00" cy="637.60" rx="1.15" ry="0.92" fill="#231f20"/>
<ellipse cx="133.80" cy="622.20" rx="1.15" ry="0.92" fill="#231f20"/>
<ellipse cx="133.80" cy="625.40" rx="1.15" ry="0.92" fill="#231f20"/>
<ellipse cx="133.80" cy="628.60" rx="1.15" ry="0.92" fill="#231f20"/>
<ellipse cx="142.20" cy="628.50" rx="1.15" ry="0.92" fill="#231f20"/>
<ellipse cx="142.20" cy="631.70" rx="1.15" ry="0.92" fill="#231f20"/>
<ellipse cx="142.20" cy="634.90" rx="1.15" ry="0.92" fill="#231f20"/>
<ellipse cx="144.00" cy="617.40" rx="1.15" ry="0.92" fill="#231f20"/>
<ellipse cx="144.00" cy="620.60" rx="1.15" ry="0.92" fill="#231f20"/>
<ellipse cx="144.00" cy="623.80" rx="1.15" ry="0.92" fill="#231f20"/>
<text x="14.60" y="638.80" font-size="9.6" text-anchor="middle" fill="#231f20" color="#231f20" textLength="40.00" lengthAdjust="spacingAndGlyphs" transform="rotate(-90 14.60 638.80)">%PI positive</text>
<text x="14.50" y="683.60" font-size="8.6" text-anchor="start" fill="#231f20" color="#231f20" textLength="14.00" lengthAdjust="spacingAndGlyphs">Day</text>
<rect x="151.10" y="614.90" width="4.20" height="4.20" fill="#c8163a"/>
<text x="158.00" y="619.74" font-size="7.6" text-anchor="start" fill="#231f20" color="#231f20" textLength="17.00" lengthAdjust="spacingAndGlyphs">–Dox</text>
<rect x="151.10" y="623.45" width="4.20" height="4.20" fill="#1a4f85"/>
<text x="158.00" y="628.29" font-size="7.6" text-anchor="start" fill="#231f20" color="#231f20" textLength="18.00" lengthAdjust="spacingAndGlyphs">+Dox</text>
<rect x="151.10" y="632.00" width="4.20" height="4.20" fill="#3cb54a"/>
<text x="158.00" y="636.84" font-size="7.6" text-anchor="start" fill="#231f20" color="#231f20" textLength="16.50" lengthAdjust="spacingAndGlyphs">+Len</text>
<rect x="151.10" y="640.55" width="4.20" height="4.20" fill="#4b206f"/>
<text x="158.00" y="645.39" font-size="7.6" text-anchor="start" fill="#231f20" color="#231f20" textLength="38.00" lengthAdjust="spacingAndGlyphs">+Dox + Len</text>
<rect x="151.10" y="649.10" width="4.20" height="4.20" fill="#f7941d"/>
<text x="158.00" y="653.94" font-size="7.6" text-anchor="start" fill="#231f20" color="#231f20" textLength="18.00" lengthAdjust="spacingAndGlyphs">+Pom</text>
<text x="206.00" y="471.30" font-size="12" text-anchor="start" fill="#000" color="#000" font-weight="bold">G</text>
<text x="206.25" y="485.60" font-size="8.4" text-anchor="start" fill="#231f20" color="#231f20" textLength="29.20" lengthAdjust="spacingAndGlyphs">SUDHL1</text>
<text x="206.25" y="495.60" font-size="8.4" text-anchor="start" fill="#231f20" color="#231f20" textLength="28.20" lengthAdjust="spacingAndGlyphs">LEN-RG</text>
<text x="206.25" y="504.60" font-size="8.4" text-anchor="start" fill="#231f20" color="#231f20" textLength="46.70" lengthAdjust="spacingAndGlyphs">Dox (1ug/ml)</text>
<text x="258.80" y="503.60" font-size="8" text-anchor="middle" fill="#231f20" color="#231f20">–</text>
<text x="285.50" y="503.80" font-size="8" text-anchor="middle" fill="#231f20" color="#231f20">+</text>
<rect x="247.20" y="507.20" width="45.20" height="27.80" fill="#ececec" stroke="#1a1a1a" stroke-width="1.1"/>
<rect x="247.20" y="537.60" width="45.20" height="18.60" fill="#ececec" stroke="#1a1a1a" stroke-width="1.1"/>
<rect x="247.20" y="557.60" width="45.20" height="14.40" fill="#ececec" stroke="#1a1a1a" stroke-width="1.1"/>
<rect x="249.30" y="512.50" width="18.00" height="4.80" rx="2.40" fill="rgb(12,12,12)" filter="url(#bl)"/>
<rect x="274.55" y="513.60" width="15.50" height="2.00" rx="1.00" fill="rgb(224,224,224)" filter="url(#bl)"/>
<rect x="249.50" y="524.40" width="17.00" height="3.20" rx="1.60" fill="rgb(21,21,21)" filter="url(#bl)"/>
<rect x="249.25" y="543.90" width="17.50" height="4.60" rx="2.30" fill="rgb(12,12,12)" filter="url(#bl)"/>
<rect x="277.80" y="545.50" width="9.00" height="1.80" rx="0.90" fill="rgb(212,212,212)" filter="url(#bl)"/>
<rect x="249.40" y="562.40" width="17.80" height="4.60" rx="2.30" fill="rgb(18,18,18)" filter="url(#bl)"/>
<rect x="272.70" y="562.50" width="17.00" height="4.40" rx="2.20" fill="rgb(21,21,21)" filter="url(#bl)"/>
<text x="243.70" y="523.70" font-size="8.4" text-anchor="end" fill="#231f20" color="#231f20" textLength="19.20" lengthAdjust="spacingAndGlyphs">IKZF1</text>
<text x="243.70" y="550.00" font-size="8.4" text-anchor="end" fill="#231f20" color="#231f20" textLength="22.40" lengthAdjust="spacingAndGlyphs">ZFP91</text>
<text x="243.70" y="568.20" font-size="8.4" text-anchor="end" fill="#231f20" color="#231f20" textLength="27.40" lengthAdjust="spacingAndGlyphs">GAPDH</text>
<text x="302.40" y="471.30" font-size="12" text-anchor="start" fill="#000" color="#000" font-weight="bold">H</text>
<line x1="363.30" y1="480.00" x2="371.70" y2="480.00" stroke="#c8163a" stroke-width="1.3" stroke-dasharray="2,1.4"/>
<circle cx="367.50" cy="480.00" r="2.52" fill="#c8163a"/>
<text x="375.20" y="482.84" font-size="7.9" text-anchor="start" fill="#231f20" color="#231f20" textLength="18.50" lengthAdjust="spacingAndGlyphs">–Dox</text>
<line x1="404.60" y1="480.00" x2="413.00" y2="480.00" stroke="#1a4f85" stroke-width="1.3"/>
<circle cx="408.80" cy="480.00" r="2.52" fill="#1a4f85"/>
<text x="416.25" y="482.84" font-size="7.9" text-anchor="start" fill="#231f20" color="#231f20" textLength="18.70" lengthAdjust="spacingAndGlyphs">+Dox</text>
<text x="309.50" y="533.20" font-size="10.4" text-anchor="middle" fill="#231f20" color="#231f20" textLength="32.50" lengthAdjust="spacingAndGlyphs" transform="rotate(-90 309.50 533.20)">Cell count</text>
<text x="307.80" y="575.20" font-size="8.6" text-anchor="start" fill="#231f20" color="#231f20" textLength="13.50" lengthAdjust="spacingAndGlyphs">Day</text>
<text x="354.40" y="496.30" font-size="10.5" text-anchor="middle" fill="#231f20" color="#231f20" textLength="43.70" lengthAdjust="spacingAndGlyphs">ZFP91-KO</text>
<line x1="332.00" y1="501.20" x2="332.00" y2="564.80" stroke="#231f20" stroke-width="1.25"/>
<line x1="328.70" y1="564.30" x2="332.00" y2="564.30" stroke="#231f20" stroke-width="1.0"/>
<text x="326.10" y="564.00" font-size="6.0" text-anchor="end" fill="#231f20" color="#231f20">4</text>
<text x="323.00" y="568.10" font-size="8.6" text-anchor="end" fill="#231f20" color="#231f20" textLength="8.10" lengthAdjust="spacingAndGlyphs">10</text>
<line x1="328.70" y1="549.17" x2="332.00" y2="549.17" stroke="#231f20" stroke-width="1.0"/>
<text x="326.10" y="548.88" font-size="6.0" text-anchor="end" fill="#231f20" color="#231f20">5</text>
<text x="323.00" y="552.97" font-size="8.6" text-anchor="end" fill="#231f20" color="#231f20" textLength="8.10" lengthAdjust="spacingAndGlyphs">10</text>
<line x1="328.70" y1="534.05" x2="332.00" y2="534.05" stroke="#231f20" stroke-width="1.0"/>
<text x="326.10" y="533.75" font-size="6.0" text-anchor="end" fill="#231f20" color="#231f20">6</text>
<text x="323.00" y="537.85" font-size="8.6" text-anchor="end" fill="#231f20" color="#231f20" textLength="8.10" lengthAdjust="spacingAndGlyphs">10</text>
<line x1="328.70" y1="518.92" x2="332.00" y2="518.92" stroke="#231f20" stroke-width="1.0"/>
<text x="326.10" y="518.62" font-size="6.0" text-anchor="end" fill="#231f20" color="#231f20">7</text>
<text x="323.00" y="522.72" font-size="8.6" text-anchor="end" fill="#231f20" color="#231f20" textLength="8.10" lengthAdjust="spacingAndGlyphs">10</text>
<line x1="328.70" y1="503.80" x2="332.00" y2="503.80" stroke="#231f20" stroke-width="1.0"/>
<text x="326.10" y="503.50" font-size="6.0" text-anchor="end" fill="#231f20" color="#231f20">8</text>
<text x="323.00" y="507.60" font-size="8.6" text-anchor="end" fill="#231f20" color="#231f20" textLength="8.10" lengthAdjust="spacingAndGlyphs">10</text>
<line x1="331.50" y1="564.30" x2="375.00" y2="564.30" stroke="#231f20" stroke-width="1.25"/>
<line x1="332.00" y1="564.30" x2="332.00" y2="567.10" stroke="#231f20" stroke-width="1.15"/>
<text x="332.00" y="575.40" font-size="8.4" text-anchor="middle" fill="#231f20" color="#231f20">0</text>
<line x1="340.04" y1="564.30" x2="340.04" y2="567.10" stroke="#231f20" stroke-width="1.15"/>
<text x="340.04" y="575.40" font-size="8.4" text-anchor="middle" fill="#231f20" color="#231f20">2</text>
<line x1="348.08" y1="564.30" x2="348.08" y2="567.10" stroke="#231f20" stroke-width="1.15"/>
<text x="348.08" y="575.40" font-size="8.4" text-anchor="middle" fill="#231f20" color="#231f20">4</text>
<line x1="356.12" y1="564.30" x2="356.12" y2="567.10" stroke="#231f20" stroke-width="1.15"/>
<text x="356.12" y="575.40" font-size="8.4" text-anchor="middle" fill="#231f20" color="#231f20">6</text>
<line x1="364.16" y1="564.30" x2="364.16" y2="567.10" stroke="#231f20" stroke-width="1.15"/>
<text x="364.16" y="575.40" font-size="8.4" text-anchor="middle" fill="#231f20" color="#231f20">8</text>
<line x1="372.20" y1="564.30" x2="372.20" y2="567.10" stroke="#231f20" stroke-width="1.15"/>
<text x="372.20" y="575.40" font-size="8.4" text-anchor="middle" fill="#231f20" color="#231f20">10</text>
<polyline points="332.00,553.00 340.04,543.25 348.08,535.00 356.12,525.50 364.16,517.00 372.20,509.25" fill="none" stroke="#c8163a" stroke-width="1.6" stroke-dasharray="2.2,1.6" stroke-linejoin="round"/>
<circle cx="332.00" cy="553.00" r="2.40" fill="#c8163a"/>
<circle cx="340.04" cy="543.25" r="2.40" fill="#c8163a"/>
<circle cx="348.08" cy="535.00" r="2.40" fill="#c8163a"/>
<circle cx="356.12" cy="525.50" r="2.40" fill="#c8163a"/>
<circle cx="364.16" cy="517.00" r="2.40" fill="#c8163a"/>
<circle cx="372.20" cy="509.25" r="2.40" fill="#c8163a"/>
<polyline points="332.00,553.00 340.04,543.75 348.08,535.75 356.12,527.50 364.16,519.50 372.20,513.00" fill="none" stroke="#1a4f85" stroke-width="1.6" stroke-linejoin="round"/>
<circle cx="332.00" cy="553.00" r="2.40" fill="#1a4f85"/>
<circle cx="340.04" cy="543.75" r="2.40" fill="#1a4f85"/>
<circle cx="348.08" cy="535.75" r="2.40" fill="#1a4f85"/>
<circle cx="356.12" cy="527.50" r="2.40" fill="#1a4f85"/>
<circle cx="364.16" cy="519.50" r="2.40" fill="#1a4f85"/>
<circle cx="372.20" cy="513.00" r="2.40" fill="#1a4f85"/>
<text x="425.90" y="496.30" font-size="10.5" text-anchor="middle" fill="#231f20" color="#231f20" textLength="40.70" lengthAdjust="spacingAndGlyphs">IKZF1-KO</text>
<line x1="399.50" y1="501.20" x2="399.50" y2="564.80" stroke="#231f20" stroke-width="1.25"/>
<line x1="396.20" y1="564.30" x2="399.50" y2="564.30" stroke="#231f20" stroke-width="1.0"/>
<text x="393.60" y="564.00" font-size="6.0" text-anchor="end" fill="#231f20" color="#231f20">4</text>
<text x="390.50" y="568.10" font-size="8.6" text-anchor="end" fill="#231f20" color="#231f20" textLength="8.10" lengthAdjust="spacingAndGlyphs">10</text>
<line x1="396.20" y1="549.17" x2="399.50" y2="549.17" stroke="#231f20" stroke-width="1.0"/>
<text x="393.60" y="548.88" font-size="6.0" text-anchor="end" fill="#231f20" color="#231f20">5</text>
<text x="390.50" y="552.97" font-size="8.6" text-anchor="end" fill="#231f20" color="#231f20" textLength="8.10" lengthAdjust="spacingAndGlyphs">10</text>
<line x1="396.20" y1="534.05" x2="399.50" y2="534.05" stroke="#231f20" stroke-width="1.0"/>
<text x="393.60" y="533.75" font-size="6.0" text-anchor="end" fill="#231f20" color="#231f20">6</text>
<text x="390.50" y="537.85" font-size="8.6" text-anchor="end" fill="#231f20" color="#231f20" textLength="8.10" lengthAdjust="spacingAndGlyphs">10</text>
<line x1="396.20" y1="518.92" x2="399.50" y2="518.92" stroke="#231f20" stroke-width="1.0"/>
<text x="393.60" y="518.62" font-size="6.0" text-anchor="end" fill="#231f20" color="#231f20">7</text>
<text x="390.50" y="522.72" font-size="8.6" text-anchor="end" fill="#231f20" color="#231f20" textLength="8.10" lengthAdjust="spacingAndGlyphs">10</text>
<line x1="396.20" y1="503.80" x2="399.50" y2="503.80" stroke="#231f20" stroke-width="1.0"/>
<text x="393.60" y="503.50" font-size="6.0" text-anchor="end" fill="#231f20" color="#231f20">8</text>
<text x="390.50" y="507.60" font-size="8.6" text-anchor="end" fill="#231f20" color="#231f20" textLength="8.10" lengthAdjust="spacingAndGlyphs">10</text>
<line x1="399.00" y1="564.30" x2="442.50" y2="564.30" stroke="#231f20" stroke-width="1.25"/>
<line x1="399.50" y1="564.30" x2="399.50" y2="567.10" stroke="#231f20" stroke-width="1.15"/>
<text x="399.50" y="575.40" font-size="8.4" text-anchor="middle" fill="#231f20" color="#231f20">0</text>
<line x1="407.54" y1="564.30" x2="407.54" y2="567.10" stroke="#231f20" stroke-width="1.15"/>
<text x="407.54" y="575.40" font-size="8.4" text-anchor="middle" fill="#231f20" color="#231f20">2</text>
<line x1="415.58" y1="564.30" x2="415.58" y2="567.10" stroke="#231f20" stroke-width="1.15"/>
<text x="415.58" y="575.40" font-size="8.4" text-anchor="middle" fill="#231f20" color="#231f20">4</text>
<line x1="423.62" y1="564.30" x2="423.62" y2="567.10" stroke="#231f20" stroke-width="1.15"/>
<text x="423.62" y="575.40" font-size="8.4" text-anchor="middle" fill="#231f20" color="#231f20">6</text>
<line x1="431.66" y1="564.30" x2="431.66" y2="567.10" stroke="#231f20" stroke-width="1.15"/>
<text x="431.66" y="575.40" font-size="8.4" text-anchor="middle" fill="#231f20" color="#231f20">8</text>
<line x1="439.70" y1="564.30" x2="439.70" y2="567.10" stroke="#231f20" stroke-width="1.15"/>
<text x="439.70" y="575.40" font-size="8.4" text-anchor="middle" fill="#231f20" color="#231f20">10</text>
<polyline points="399.50,553.25 407.54,545.75 415.58,539.50 423.62,530.75 431.66,523.25 439.70,515.50" fill="none" stroke="#c8163a" stroke-width="1.6" stroke-dasharray="2.2,1.6" stroke-linejoin="round"/>
<circle cx="399.50" cy="553.25" r="2.40" fill="#c8163a"/>
<circle cx="407.54" cy="545.75" r="2.40" fill="#c8163a"/>
<circle cx="415.58" cy="539.50" r="2.40" fill="#c8163a"/>
<circle cx="423.62" cy="530.75" r="2.40" fill="#c8163a"/>
<circle cx="431.66" cy="523.25" r="2.40" fill="#c8163a"/>
<circle cx="439.70" cy="515.50" r="2.40" fill="#c8163a"/>
<polyline points="399.50,553.25 407.54,545.75 415.58,540.50 423.62,537.50 431.66,537.00 439.70,535.50" fill="none" stroke="#1a4f85" stroke-width="1.6" stroke-linejoin="round"/>
<circle cx="399.50" cy="553.25" r="2.40" fill="#1a4f85"/>
<circle cx="407.54" cy="545.75" r="2.40" fill="#1a4f85"/>
<circle cx="415.58" cy="540.50" r="2.40" fill="#1a4f85"/>
<circle cx="423.62" cy="537.50" r="2.40" fill="#1a4f85"/>
<circle cx="431.66" cy="537.00" r="2.40" fill="#1a4f85"/>
<circle cx="439.70" cy="535.50" r="2.40" fill="#1a4f85"/>
<line x1="442.00" y1="516.25" x2="442.00" y2="532.50" stroke="#2a2a2a" stroke-width="1.1"/>
<ellipse cx="445.70" cy="521.17" rx="1.25" ry="1.00" fill="#231f20"/>
<ellipse cx="445.70" cy="524.38" rx="1.25" ry="1.00" fill="#231f20"/>
<ellipse cx="445.70" cy="527.57" rx="1.25" ry="1.00" fill="#231f20"/>
<text x="488.40" y="496.30" font-size="10.5" text-anchor="middle" fill="#231f20" color="#231f20" textLength="20.70" lengthAdjust="spacingAndGlyphs">DKO</text>
<line x1="466.30" y1="501.20" x2="466.30" y2="564.80" stroke="#231f20" stroke-width="1.25"/>
<line x1="463.00" y1="564.30" x2="466.30" y2="564.30" stroke="#231f20" stroke-width="1.0"/>
<text x="460.40" y="564.00" font-size="6.0" text-anchor="end" fill="#231f20" color="#231f20">4</text>
<text x="457.30" y="568.10" font-size="8.6" text-anchor="end" fill="#231f20" color="#231f20" textLength="8.10" lengthAdjust="spacingAndGlyphs">10</text>
<line x1="463.00" y1="544.13" x2="466.30" y2="544.13" stroke="#231f20" stroke-width="1.0"/>
<text x="460.40" y="543.83" font-size="6.0" text-anchor="end" fill="#231f20" color="#231f20">5</text>
<text x="457.30" y="547.93" font-size="8.6" text-anchor="end" fill="#231f20" color="#231f20" textLength="8.10" lengthAdjust="spacingAndGlyphs">10</text>
<line x1="463.00" y1="523.97" x2="466.30" y2="523.97" stroke="#231f20" stroke-width="1.0"/>
<text x="460.40" y="523.67" font-size="6.0" text-anchor="end" fill="#231f20" color="#231f20">6</text>
<text x="457.30" y="527.77" font-size="8.6" text-anchor="end" fill="#231f20" color="#231f20" textLength="8.10" lengthAdjust="spacingAndGlyphs">10</text>
<line x1="463.00" y1="503.80" x2="466.30" y2="503.80" stroke="#231f20" stroke-width="1.0"/>
<text x="460.40" y="503.50" font-size="6.0" text-anchor="end" fill="#231f20" color="#231f20">7</text>
<text x="457.30" y="507.60" font-size="8.6" text-anchor="end" fill="#231f20" color="#231f20" textLength="8.10" lengthAdjust="spacingAndGlyphs">10</text>
<line x1="465.80" y1="564.30" x2="509.30" y2="564.30" stroke="#231f20" stroke-width="1.25"/>
<line x1="466.30" y1="564.30" x2="466.30" y2="567.10" stroke="#231f20" stroke-width="1.15"/>
<text x="466.30" y="575.40" font-size="8.4" text-anchor="middle" fill="#231f20" color="#231f20">0</text>
<line x1="474.34" y1="564.30" x2="474.34" y2="567.10" stroke="#231f20" stroke-width="1.15"/>
<text x="474.34" y="575.40" font-size="8.4" text-anchor="middle" fill="#231f20" color="#231f20">2</text>
<line x1="482.38" y1="564.30" x2="482.38" y2="567.10" stroke="#231f20" stroke-width="1.15"/>
<text x="482.38" y="575.40" font-size="8.4" text-anchor="middle" fill="#231f20" color="#231f20">4</text>
<line x1="490.42" y1="564.30" x2="490.42" y2="567.10" stroke="#231f20" stroke-width="1.15"/>
<text x="490.42" y="575.40" font-size="8.4" text-anchor="middle" fill="#231f20" color="#231f20">6</text>
<line x1="498.46" y1="564.30" x2="498.46" y2="567.10" stroke="#231f20" stroke-width="1.15"/>
<text x="498.46" y="575.40" font-size="8.4" text-anchor="middle" fill="#231f20" color="#231f20">8</text>
<line x1="506.50" y1="564.30" x2="506.50" y2="567.10" stroke="#231f20" stroke-width="1.15"/>
<text x="506.50" y="575.40" font-size="8.4" text-anchor="middle" fill="#231f20" color="#231f20">10</text>
<polyline points="466.30,550.00 474.34,545.00 482.38,536.75 490.42,528.00 498.46,518.75 506.50,511.25" fill="none" stroke="#c8163a" stroke-width="1.6" stroke-dasharray="2.2,1.6" stroke-linejoin="round"/>
<circle cx="466.30" cy="550.00" r="2.40" fill="#c8163a"/>
<circle cx="474.34" cy="545.00" r="2.40" fill="#c8163a"/>
<circle cx="482.38" cy="536.75" r="2.40" fill="#c8163a"/>
<circle cx="490.42" cy="528.00" r="2.40" fill="#c8163a"/>
<circle cx="498.46" cy="518.75" r="2.40" fill="#c8163a"/>
<circle cx="506.50" cy="511.25" r="2.40" fill="#c8163a"/>
<polyline points="466.30,550.00 474.34,548.75 482.38,546.25 490.42,543.00 498.46,542.50 506.50,543.75" fill="none" stroke="#1a4f85" stroke-width="1.6" stroke-linejoin="round"/>
<circle cx="466.30" cy="550.00" r="2.40" fill="#1a4f85"/>
<circle cx="474.34" cy="548.75" r="2.40" fill="#1a4f85"/>
<circle cx="482.38" cy="546.25" r="2.40" fill="#1a4f85"/>
<circle cx="490.42" cy="543.00" r="2.40" fill="#1a4f85"/>
<circle cx="498.46" cy="542.50" r="2.40" fill="#1a4f85"/>
<circle cx="506.50" cy="543.75" r="2.40" fill="#1a4f85"/>
<line x1="509.50" y1="514.50" x2="509.50" y2="541.25" stroke="#2a2a2a" stroke-width="1.1"/>
<ellipse cx="513.20" cy="524.67" rx="1.25" ry="1.00" fill="#231f20"/>
<ellipse cx="513.20" cy="527.88" rx="1.25" ry="1.00" fill="#231f20"/>
<ellipse cx="513.20" cy="531.07" rx="1.25" ry="1.00" fill="#231f20"/>
<line x1="331.80" y1="607.00" x2="331.80" y2="671.80" stroke="#231f20" stroke-width="1.3"/>
<line x1="328.60" y1="671.30" x2="331.80" y2="671.30" stroke="#231f20" stroke-width="1.0"/>
<text x="325.60" y="674.60" font-size="8.6" text-anchor="end" fill="#231f20" color="#231f20" textLength="4.60" lengthAdjust="spacingAndGlyphs">0</text>
<line x1="328.60" y1="659.30" x2="331.80" y2="659.30" stroke="#231f20" stroke-width="1.0"/>
<text x="325.60" y="662.60" font-size="8.6" text-anchor="end" fill="#231f20" color="#231f20" textLength="8.40" lengthAdjust="spacingAndGlyphs">20</text>
<line x1="328.60" y1="647.30" x2="331.80" y2="647.30" stroke="#231f20" stroke-width="1.0"/>
<text x="325.60" y="650.60" font-size="8.6" text-anchor="end" fill="#231f20" color="#231f20" textLength="8.40" lengthAdjust="spacingAndGlyphs">40</text>
<line x1="328.60" y1="635.30" x2="331.80" y2="635.30" stroke="#231f20" stroke-width="1.0"/>
<text x="325.60" y="638.60" font-size="8.6" text-anchor="end" fill="#231f20" color="#231f20" textLength="8.40" lengthAdjust="spacingAndGlyphs">60</text>
<line x1="328.60" y1="623.30" x2="331.80" y2="623.30" stroke="#231f20" stroke-width="1.0"/>
<text x="325.60" y="626.60" font-size="8.6" text-anchor="end" fill="#231f20" color="#231f20" textLength="8.40" lengthAdjust="spacingAndGlyphs">80</text>
<line x1="328.60" y1="611.30" x2="331.80" y2="611.30" stroke="#231f20" stroke-width="1.0"/>
<text x="325.60" y="614.60" font-size="8.6" text-anchor="end" fill="#231f20" color="#231f20" textLength="12.60" lengthAdjust="spacingAndGlyphs">100</text>
<rect x="333.10" y="668.30" width="1.80" height="3.00" fill="#c8163a"/>
<rect x="336.10" y="667.10" width="1.80" height="4.20" fill="#1a4f85"/>
<line x1="335.50" y1="671.30" x2="335.50" y2="673.90" stroke="#231f20" stroke-width="1.1"/>
<text x="335.50" y="683.60" font-size="8.2" text-anchor="middle" fill="#231f20" color="#231f20">2</text>
<rect x="341.20" y="667.70" width="1.80" height="3.60" fill="#c8163a"/>
<rect x="344.20" y="667.10" width="1.80" height="4.20" fill="#1a4f85"/>
<line x1="343.60" y1="671.30" x2="343.60" y2="673.90" stroke="#231f20" stroke-width="1.1"/>
<text x="343.60" y="683.60" font-size="8.2" text-anchor="middle" fill="#231f20" color="#231f20">4</text>
<rect x="349.30" y="667.10" width="1.80" height="4.20" fill="#c8163a"/>
<rect x="352.30" y="665.30" width="1.80" height="6.00" fill="#1a4f85"/>
<line x1="351.70" y1="671.30" x2="351.70" y2="673.90" stroke="#231f20" stroke-width="1.1"/>
<text x="351.70" y="683.60" font-size="8.2" text-anchor="middle" fill="#231f20" color="#231f20">6</text>
<rect x="357.40" y="666.50" width="1.80" height="4.80" fill="#c8163a"/>
<rect x="360.40" y="664.10" width="1.80" height="7.20" fill="#1a4f85"/>
<line x1="359.80" y1="671.30" x2="359.80" y2="673.90" stroke="#231f20" stroke-width="1.1"/>
<text x="359.80" y="683.60" font-size="8.2" text-anchor="middle" fill="#231f20" color="#231f20">8</text>
<rect x="365.50" y="665.30" width="1.80" height="6.00" fill="#c8163a"/>
<rect x="368.50" y="662.90" width="1.80" height="8.40" fill="#1a4f85"/>
<line x1="367.90" y1="671.30" x2="367.90" y2="673.90" stroke="#231f20" stroke-width="1.1"/>
<text x="367.90" y="683.60" font-size="8.2" text-anchor="middle" fill="#231f20" color="#231f20">10</text>
<line x1="331.30" y1="671.30" x2="373.80" y2="671.30" stroke="#231f20" stroke-width="1.3"/>
<line x1="399.30" y1="607.00" x2="399.30" y2="671.80" stroke="#231f20" stroke-width="1.3"/>
<line x1="396.10" y1="671.30" x2="399.30" y2="671.30" stroke="#231f20" stroke-width="1.0"/>
<text x="393.10" y="674.60" font-size="8.6" text-anchor="end" fill="#231f20" color="#231f20" textLength="4.60" lengthAdjust="spacingAndGlyphs">0</text>
<line x1="396.10" y1="659.30" x2="399.30" y2="659.30" stroke="#231f20" stroke-width="1.0"/>
<text x="393.10" y="662.60" font-size="8.6" text-anchor="end" fill="#231f20" color="#231f20" textLength="8.40" lengthAdjust="spacingAndGlyphs">20</text>
<line x1="396.10" y1="647.30" x2="399.30" y2="647.30" stroke="#231f20" stroke-width="1.0"/>
<text x="393.10" y="650.60" font-size="8.6" text-anchor="end" fill="#231f20" color="#231f20" textLength="8.40" lengthAdjust="spacingAndGlyphs">40</text>
<line x1="396.10" y1="635.30" x2="399.30" y2="635.30" stroke="#231f20" stroke-width="1.0"/>
<text x="393.10" y="638.60" font-size="8.6" text-anchor="end" fill="#231f20" color="#231f20" textLength="8.40" lengthAdjust="spacingAndGlyphs">60</text>
<line x1="396.10" y1="623.30" x2="399.30" y2="623.30" stroke="#231f20" stroke-width="1.0"/>
<text x="393.10" y="626.60" font-size="8.6" text-anchor="end" fill="#231f20" color="#231f20" textLength="8.40" lengthAdjust="spacingAndGlyphs">80</text>
<line x1="396.10" y1="611.30" x2="399.30" y2="611.30" stroke="#231f20" stroke-width="1.0"/>
<text x="393.10" y="614.60" font-size="8.6" text-anchor="end" fill="#231f20" color="#231f20" textLength="12.60" lengthAdjust="spacingAndGlyphs">100</text>
<rect x="400.60" y="666.32" width="1.80" height="4.98" fill="#c8163a"/>
<rect x="403.60" y="661.88" width="1.80" height="9.42" fill="#1a4f85"/>
<line x1="403.00" y1="671.30" x2="403.00" y2="673.90" stroke="#231f20" stroke-width="1.1"/>
<text x="403.00" y="683.60" font-size="8.2" text-anchor="middle" fill="#231f20" color="#231f20">2</text>
<rect x="408.70" y="665.48" width="1.80" height="5.82" fill="#c8163a"/>
<rect x="411.70" y="655.28" width="1.80" height="16.02" fill="#1a4f85"/>
<line x1="411.10" y1="671.30" x2="411.10" y2="673.90" stroke="#231f20" stroke-width="1.1"/>
<text x="411.10" y="683.60" font-size="8.2" text-anchor="middle" fill="#231f20" color="#231f20">4</text>
<rect x="416.80" y="667.52" width="1.80" height="3.78" fill="#c8163a"/>
<rect x="419.80" y="654.50" width="1.80" height="16.80" fill="#1a4f85"/>
<line x1="419.20" y1="671.30" x2="419.20" y2="673.90" stroke="#231f20" stroke-width="1.1"/>
<text x="419.20" y="683.60" font-size="8.2" text-anchor="middle" fill="#231f20" color="#231f20">6</text>
<rect x="424.90" y="665.90" width="1.80" height="5.40" fill="#c8163a"/>
<rect x="427.90" y="651.80" width="1.80" height="19.50" fill="#1a4f85"/>
<line x1="427.30" y1="671.30" x2="427.30" y2="673.90" stroke="#231f20" stroke-width="1.1"/>
<text x="427.30" y="683.60" font-size="8.2" text-anchor="middle" fill="#231f20" color="#231f20">8</text>
<rect x="433.00" y="665.30" width="1.80" height="6.00" fill="#c8163a"/>
<rect x="436.00" y="651.80" width="1.80" height="19.50" fill="#1a4f85"/>
<line x1="435.40" y1="671.30" x2="435.40" y2="673.90" stroke="#231f20" stroke-width="1.1"/>
<text x="435.40" y="683.60" font-size="8.2" text-anchor="middle" fill="#231f20" color="#231f20">10</text>
<line x1="398.80" y1="671.30" x2="441.30" y2="671.30" stroke="#231f20" stroke-width="1.3"/>
<ellipse cx="412.60" cy="642.78" rx="1.15" ry="0.92" fill="#231f20"/>
<ellipse cx="412.60" cy="645.98" rx="1.15" ry="0.92" fill="#231f20"/>
<ellipse cx="412.60" cy="649.18" rx="1.15" ry="0.92" fill="#231f20"/>
<ellipse cx="420.70" cy="642.00" rx="1.15" ry="0.92" fill="#231f20"/>
<ellipse cx="420.70" cy="645.20" rx="1.15" ry="0.92" fill="#231f20"/>
<ellipse cx="420.70" cy="648.40" rx="1.15" ry="0.92" fill="#231f20"/>
<ellipse cx="428.80" cy="639.30" rx="1.15" ry="0.92" fill="#231f20"/>
<ellipse cx="428.80" cy="642.50" rx="1.15" ry="0.92" fill="#231f20"/>
<ellipse cx="428.80" cy="645.70" rx="1.15" ry="0.92" fill="#231f20"/>
<ellipse cx="436.90" cy="639.30" rx="1.15" ry="0.92" fill="#231f20"/>
<ellipse cx="436.90" cy="642.50" rx="1.15" ry="0.92" fill="#231f20"/>
<ellipse cx="436.90" cy="645.70" rx="1.15" ry="0.92" fill="#231f20"/>
<line x1="466.30" y1="607.00" x2="466.30" y2="671.80" stroke="#231f20" stroke-width="1.3"/>
<line x1="463.10" y1="671.30" x2="466.30" y2="671.30" stroke="#231f20" stroke-width="1.0"/>
<text x="460.10" y="674.60" font-size="8.6" text-anchor="end" fill="#231f20" color="#231f20" textLength="4.60" lengthAdjust="spacingAndGlyphs">0</text>
<line x1="463.10" y1="659.30" x2="466.30" y2="659.30" stroke="#231f20" stroke-width="1.0"/>
<text x="460.10" y="662.60" font-size="8.6" text-anchor="end" fill="#231f20" color="#231f20" textLength="8.40" lengthAdjust="spacingAndGlyphs">20</text>
<line x1="463.10" y1="647.30" x2="466.30" y2="647.30" stroke="#231f20" stroke-width="1.0"/>
<text x="460.10" y="650.60" font-size="8.6" text-anchor="end" fill="#231f20" color="#231f20" textLength="8.40" lengthAdjust="spacingAndGlyphs">40</text>
<line x1="463.10" y1="635.30" x2="466.30" y2="635.30" stroke="#231f20" stroke-width="1.0"/>
<text x="460.10" y="638.60" font-size="8.6" text-anchor="end" fill="#231f20" color="#231f20" textLength="8.40" lengthAdjust="spacingAndGlyphs">60</text>
<line x1="463.10" y1="623.30" x2="466.30" y2="623.30" stroke="#231f20" stroke-width="1.0"/>
<text x="460.10" y="626.60" font-size="8.6" text-anchor="end" fill="#231f20" color="#231f20" textLength="8.40" lengthAdjust="spacingAndGlyphs">80</text>
<line x1="463.10" y1="611.30" x2="466.30" y2="611.30" stroke="#231f20" stroke-width="1.0"/>
<text x="460.10" y="614.60" font-size="8.6" text-anchor="end" fill="#231f20" color="#231f20" textLength="12.60" lengthAdjust="spacingAndGlyphs">100</text>
<rect x="467.60" y="658.10" width="1.80" height="13.20" fill="#c8163a"/>
<rect x="470.60" y="653.30" width="1.80" height="18.00" fill="#1a4f85"/>
<line x1="470.00" y1="671.30" x2="470.00" y2="673.90" stroke="#231f20" stroke-width="1.1"/>
<text x="470.00" y="683.60" font-size="8.2" text-anchor="middle" fill="#231f20" color="#231f20">2</text>
<rect x="475.70" y="661.10" width="1.80" height="10.20" fill="#c8163a"/>
<rect x="478.70" y="650.30" width="1.80" height="21.00" fill="#1a4f85"/>
<line x1="478.10" y1="671.30" x2="478.10" y2="673.90" stroke="#231f20" stroke-width="1.1"/>
<text x="478.10" y="683.60" font-size="8.2" text-anchor="middle" fill="#231f20" color="#231f20">4</text>
<rect x="483.80" y="660.50" width="1.80" height="10.80" fill="#c8163a"/>
<rect x="486.80" y="643.70" width="1.80" height="27.60" fill="#1a4f85"/>
<line x1="486.20" y1="671.30" x2="486.20" y2="673.90" stroke="#231f20" stroke-width="1.1"/>
<text x="486.20" y="683.60" font-size="8.2" text-anchor="middle" fill="#231f20" color="#231f20">6</text>
<rect x="491.90" y="661.10" width="1.80" height="10.20" fill="#c8163a"/>
<rect x="494.90" y="640.10" width="1.80" height="31.20" fill="#1a4f85"/>
<line x1="494.30" y1="671.30" x2="494.30" y2="673.90" stroke="#231f20" stroke-width="1.1"/>
<text x="494.30" y="683.60" font-size="8.2" text-anchor="middle" fill="#231f20" color="#231f20">8</text>
<rect x="500.00" y="659.30" width="1.80" height="12.00" fill="#c8163a"/>
<rect x="503.00" y="634.10" width="1.80" height="37.20" fill="#1a4f85"/>
<line x1="502.40" y1="671.30" x2="502.40" y2="673.90" stroke="#231f20" stroke-width="1.1"/>
<text x="502.40" y="683.60" font-size="8.2" text-anchor="middle" fill="#231f20" color="#231f20">10</text>
<line x1="465.80" y1="671.30" x2="508.30" y2="671.30" stroke="#231f20" stroke-width="1.3"/>
<ellipse cx="479.60" cy="637.80" rx="1.15" ry="0.92" fill="#231f20"/>
<ellipse cx="479.60" cy="641.00" rx="1.15" ry="0.92" fill="#231f20"/>
<ellipse cx="479.60" cy="644.20" rx="1.15" ry="0.92" fill="#231f20"/>
<ellipse cx="487.70" cy="631.20" rx="1.15" ry="0.92" fill="#231f20"/>
<ellipse cx="487.70" cy="634.40" rx="1.15" ry="0.92" fill="#231f20"/>
<ellipse cx="487.70" cy="637.60" rx="1.15" ry="0.92" fill="#231f20"/>
<ellipse cx="495.80" cy="627.60" rx="1.15" ry="0.92" fill="#231f20"/>
<ellipse cx="495.80" cy="630.80" rx="1.15" ry="0.92" fill="#231f20"/>
<ellipse cx="495.80" cy="634.00" rx="1.15" ry="0.92" fill="#231f20"/>
<ellipse cx="503.90" cy="621.60" rx="1.15" ry="0.92" fill="#231f20"/>
<ellipse cx="503.90" cy="624.80" rx="1.15" ry="0.92" fill="#231f20"/>
<ellipse cx="503.90" cy="628.00" rx="1.15" ry="0.92" fill="#231f20"/>
<text x="313.20" y="640.00" font-size="9.6" text-anchor="middle" fill="#231f20" color="#231f20" textLength="40.00" lengthAdjust="spacingAndGlyphs" transform="rotate(-90 313.20 640.00)">%PI positive</text>
<text x="306.20" y="683.80" font-size="8.6" text-anchor="start" fill="#231f20" color="#231f20" textLength="13.50" lengthAdjust="spacingAndGlyphs">Day</text>
<rect x="368.55" y="595.55" width="4.90" height="4.90" fill="#c8163a"/>
<text x="376.50" y="600.84" font-size="7.9" text-anchor="start" fill="#231f20" color="#231f20" textLength="17.40" lengthAdjust="spacingAndGlyphs">–Dox</text>
<rect x="405.15" y="595.55" width="4.90" height="4.90" fill="#1a4f85"/>
<text x="412.60" y="600.84" font-size="7.9" text-anchor="start" fill="#231f20" color="#231f20" textLength="18.50" lengthAdjust="spacingAndGlyphs">+Dox</text>
<text x="209.80" y="594.60" font-size="12" text-anchor="start" fill="#000" color="#000" font-weight="bold">I</text>
<text x="273.70" y="600.40" font-size="10.5" text-anchor="middle" fill="#231f20" color="#231f20" textLength="25.00" lengthAdjust="spacingAndGlyphs">Day 4</text>
<line x1="246.30" y1="597.00" x2="246.30" y2="671.50" stroke="#231f20" stroke-width="1.3"/>
<line x1="243.50" y1="671.00" x2="246.30" y2="671.00" stroke="#231f20" stroke-width="1.0"/>
<text x="241.70" y="674.20" font-size="8.8" text-anchor="end" fill="#231f20" color="#231f20" textLength="11.60" lengthAdjust="spacingAndGlyphs">0.0</text>
<line x1="243.50" y1="647.60" x2="246.30" y2="647.60" stroke="#231f20" stroke-width="1.0"/>
<text x="241.70" y="650.80" font-size="8.8" text-anchor="end" fill="#231f20" color="#231f20" textLength="11.60" lengthAdjust="spacingAndGlyphs">0.5</text>
<line x1="243.50" y1="624.20" x2="246.30" y2="624.20" stroke="#231f20" stroke-width="1.0"/>
<text x="241.70" y="627.40" font-size="8.8" text-anchor="end" fill="#231f20" color="#231f20" textLength="11.60" lengthAdjust="spacingAndGlyphs">1.0</text>
<line x1="243.50" y1="600.80" x2="246.30" y2="600.80" stroke="#231f20" stroke-width="1.0"/>
<text x="241.70" y="604.00" font-size="8.8" text-anchor="end" fill="#231f20" color="#231f20" textLength="11.60" lengthAdjust="spacingAndGlyphs">1.5</text>
<line x1="245.80" y1="671.00" x2="293.80" y2="671.00" stroke="#231f20" stroke-width="1.3"/>
<rect x="252.00" y="630.75" width="8.70" height="40.25" fill="#c8163a"/>
<line x1="256.35" y1="628.88" x2="256.35" y2="630.75" stroke="#231f20" stroke-width="0.8"/>
<line x1="254.15" y1="628.88" x2="258.55" y2="628.88" stroke="#231f20" stroke-width="0.8"/>
<line x1="256.35" y1="671.00" x2="256.35" y2="673.20" stroke="#231f20" stroke-width="0.9"/>
<rect x="266.10" y="629.82" width="8.90" height="41.18" fill="#1a4f85"/>
<line x1="270.55" y1="624.20" x2="270.55" y2="629.82" stroke="#231f20" stroke-width="0.8"/>
<line x1="268.35" y1="624.20" x2="272.75" y2="624.20" stroke="#231f20" stroke-width="0.8"/>
<line x1="270.55" y1="671.00" x2="270.55" y2="673.20" stroke="#231f20" stroke-width="0.9"/>
<rect x="280.00" y="656.02" width="9.00" height="14.98" fill="#3cb54a"/>
<line x1="284.50" y1="654.15" x2="284.50" y2="656.02" stroke="#231f20" stroke-width="0.8"/>
<line x1="282.30" y1="654.15" x2="286.70" y2="654.15" stroke="#231f20" stroke-width="0.8"/>
<line x1="284.50" y1="671.00" x2="284.50" y2="673.20" stroke="#231f20" stroke-width="0.9"/>
<line x1="258.25" y1="612.60" x2="284.50" y2="612.60" stroke="#231f20" stroke-width="0.9"/>
<text x="271.30" y="611.60" font-size="8" text-anchor="middle" fill="#231f20" color="#231f20">***</text>
<text x="277.50" y="620.30" font-size="8" text-anchor="middle" fill="#231f20" color="#231f20">**</text>
<line x1="270.50" y1="621.30" x2="284.50" y2="621.30" stroke="#231f20" stroke-width="0.9"/>
<text x="217.50" y="634.00" font-size="8.6" text-anchor="middle" fill="#231f20" color="#231f20" textLength="33.00" lengthAdjust="spacingAndGlyphs" transform="rotate(-90 217.50 634.00)">Cell count</text>
<text x="226.90" y="633.60" font-size="8.6" text-anchor="middle" fill="#231f20" color="#231f20" textLength="62.00" lengthAdjust="spacingAndGlyphs" transform="rotate(-90 226.90 633.60)">(relative to no dox)</text>
<text x="260.60" y="680.60" font-size="9.4" text-anchor="end" fill="#231f20" color="#231f20" textLength="34.00" lengthAdjust="spacingAndGlyphs" transform="rotate(-45 260.60 680.60)">ZFP91-KO</text>
<text x="274.30" y="681.30" font-size="9.4" text-anchor="end" fill="#231f20" color="#231f20" textLength="32.00" lengthAdjust="spacingAndGlyphs" transform="rotate(-45 274.30 681.30)">IKZF1-KO</text>
<text x="288.40" y="681.30" font-size="9.4" text-anchor="end" fill="#231f20" color="#231f20" textLength="14.50" lengthAdjust="spacingAndGlyphs" transform="rotate(-45 288.40 681.30)">DKO</text>
</svg>
<div style="position:absolute;left:0;top:0;width:518px;height:710px;border:1px solid #111;"></div>
</body></html>
